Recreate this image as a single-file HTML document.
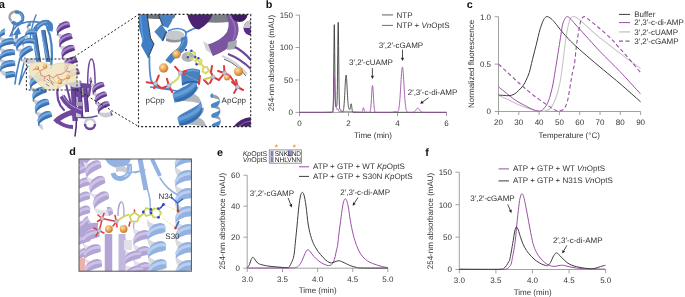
<!DOCTYPE html>
<html><head><meta charset="utf-8"><style>
html,body{margin:0;padding:0;background:#fff;}
body{width:685px;height:297px;overflow:hidden;}
svg{display:block;font-family:"Liberation Sans", sans-serif;will-change:transform;text-rendering:geometricPrecision;}
</style></head><body>
<svg width="685" height="297" viewBox="0 0 685 297">
<defs>
<clipPath id="ci"><rect x="138.5" y="14.4" width="112.2" height="112.2"/></clipPath>
<clipPath id="cd"><rect x="79" y="159" width="112.4" height="112.2"/></clipPath>
<radialGradient id="og" cx="0.38" cy="0.35" r="0.65"><stop offset="0" stop-color="#ffe2b0"/><stop offset="0.55" stop-color="#e9a656"/><stop offset="1" stop-color="#c07e34"/></radialGradient>
</defs>
<g fill="none" stroke-linecap="round">
<path d="M10,36 C13,28 19,23 27,22 C35,21 42,22 47,26" stroke="#4781c2" stroke-width="1.6"/>
<path d="M30,40 C31,30 33,22 36,15" stroke="#4781c2" stroke-width="1.4"/>
<path d="M15,22 C13,28 12,32 12,36" stroke="#4781c2" stroke-width="1.4"/>
<path d="M20,58 C18,66 16,74 15,84" stroke="#4781c2" stroke-width="1.6"/>
<path d="M25,58 C23,67 21,76 19,85 C21,80 24,72 28,66" stroke="#4781c2" stroke-width="1.4"/>
<path d="M47,27 C52,38 53,52 51,68" stroke="#4781c2" stroke-width="2.2"/>
</g>
<path d="M34,32 L38.5,62" stroke="#4781c2" stroke-width="4.6" stroke-linecap="butt"/>
<path d="M36.099999999999994,32 L40.599999999999994,62" stroke="#2c3d55" stroke-width="0.8"/>
<path d="M32.85,38 L37.35,58" stroke="#84b5e6" stroke-width="1"/>
<path d="M43,30 L48,62" stroke="#4781c2" stroke-width="4.2" stroke-linecap="butt"/>
<path d="M44.9,30 L49.9,62" stroke="#2c3d55" stroke-width="0.8"/>
<path d="M41.95,36 L46.95,58" stroke="#84b5e6" stroke-width="1"/>
<path d="M11.5,21 A5,5 0 0 1 18,13" fill="none" stroke="#9ea3a9" stroke-width="2.6"/>
<path d="M15,12.2 A6,6 0 1 1 12,21.5" fill="none" stroke="#4781c2" stroke-width="3.4"/>
<path d="M19,12.8 A5.2,5.2 0 0 1 21.5,20" fill="none" stroke="#84b5e6" stroke-width="1"/>
<path d="M13.5,46 L15.5,35 L12.5,35.5 L18.5,27 L21,34 L18.2,34.5 L16.5,46 Z" fill="#4781c2"/>
<path d="M-0.5,35.1 L-0.4,35.6 L-0.1,36.1 L0.4,36.5 L1,37 L1.8,37.4 L2.7,37.8 L3.7,38.2 L4.8,38.5 L5.9,38.8 L7.1,39.1 L8.3,39.3 L9.4,39.5 L10.5,39.7 L11.5,39.8 L12.4,39.9 L13.2,40 L13.8,40.1 L14.3,40.1 L14.6,40.2 L14.6,40.2 L14.7,42.9 L14.6,43.2 L14.4,43.6 L13.9,43.9 L13.3,44.2 L12.5,44.4 L11.7,44.6 L10.6,44.7 L9.6,44.7 L8.4,44.6 L7.2,44.4 L6.1,44.1 L4.9,43.7 L3.8,43.2 L2.8,42.6 L1.9,41.9 L1.1,41.2 L0.5,40.4 L-0,39.5 L-0.3,38.6 L-0.4,37.7Z" fill="#c9cdd2"/><path d="M-0.2,46.1 L-0.1,46.6 L0.2,47.1 L0.6,47.5 L1.2,48 L2,48.4 L2.9,48.8 L3.9,49.2 L5,49.5 L6.2,49.8 L7.4,50.1 L8.5,50.3 L9.7,50.5 L10.8,50.7 L11.8,50.8 L12.7,50.9 L13.5,51 L14.1,51.1 L14.5,51.1 L14.8,51.2 L14.9,51.2 L15,53.9 L14.9,54.2 L14.6,54.6 L14.2,54.9 L13.6,55.2 L12.8,55.4 L11.9,55.6 L10.9,55.7 L9.8,55.7 L8.7,55.6 L7.5,55.4 L6.3,55.1 L5.2,54.7 L4.1,54.2 L3,53.6 L2.1,52.9 L1.3,52.2 L0.7,51.4 L0.2,50.5 L-0.1,49.6 L-0.2,48.7Z" fill="#c9cdd2"/><path d="M0,57.1 L0.1,57.6 L0.4,58.1 L0.9,58.5 L1.5,59 L2.3,59.4 L3.2,59.8 L4.2,60.2 L5.3,60.5 L6.4,60.8 L7.6,61.1 L8.8,61.3 L9.9,61.5 L11,61.7 L12,61.8 L12.9,61.9 L13.7,62 L14.3,62.1 L14.8,62.1 L15,62.2 L15.1,62.2 L15.2,64.9 L15.1,65.2 L14.9,65.6 L14.4,65.9 L13.8,66.2 L13,66.4 L12.1,66.6 L11.1,66.7 L10.1,66.7 L8.9,66.6 L7.7,66.4 L6.6,66.1 L5.4,65.7 L4.3,65.2 L3.3,64.6 L2.4,63.9 L1.6,63.2 L1,62.4 L0.5,61.5 L0.2,60.6 L0.1,59.7Z" fill="#c9cdd2"/><path d="M0.3,68.1 L0.4,68.6 L0.7,69 L1.1,69.5 L1.7,70 L2.5,70.4 L3.4,70.8 L4.4,71.2 L5.5,71.5 L6.7,71.8 L7.9,72.1 L9,72.3 L10.2,72.5 L11.3,72.7 L12.3,72.8 L13.2,72.9 L14,73 L14.6,73.1 L15,73.1 L15.3,73.2 L15.4,73.2 L15.5,75.9 L15.4,76.2 L15.1,76.6 L14.7,76.9 L14.1,77.2 L13.3,77.4 L12.4,77.6 L11.4,77.7 L10.3,77.7 L9.2,77.6 L8,77.4 L6.8,77.1 L5.7,76.7 L4.6,76.2 L3.5,75.6 L2.6,74.9 L1.8,74.2 L1.2,73.4 L0.7,72.5 L0.4,71.6 L0.3,70.7Z" fill="#c9cdd2"/><path d="M4.7,28.2 L3.6,28.8 L2.6,29.4 L1.7,30.2 L0.9,31 L0.3,31.9 L-0.2,32.8 L-0.4,33.8 L-0.5,34.7 L-0.4,38 L-0.3,37.6 L-0.1,37.1 L0.4,36.7 L1,36.2 L1.8,35.8 L2.7,35.4 L3.7,35 L4.8,34.6Z" fill="#4781c2"/><path d="M4.7,30.6 L3.6,31.1 L2.6,31.6 L1.7,32.2 L0.9,32.8 L0.3,33.5" stroke="#84b5e6" stroke-width="1.8" fill="none" stroke-linecap="round" opacity="0.8"/><path d="M4.8,33.5 L3.7,34 L2.7,34.5 L1.8,35.1 L1,35.7 L0.4,36.4 L-0.1,37.1 L-0.3,37.8 L-0.4,38.5" stroke="#2f5f9c" stroke-width="1.5" fill="none" opacity="0.6"/><path d="M14.6,39.9 L14.5,39.5 L14.3,39.1 L13.8,38.7 L13.2,38.4 L12.4,38.2 L11.5,38.1 L10.5,38 L9.4,38 L8.3,38.2 L7.1,38.4 L5.9,38.8 L4.8,39.2 L3.7,39.8 L2.7,40.5 L1.9,41.2 L1.1,42 L0.5,42.9 L0.1,43.8 L-0.2,44.8 L-0.2,45.7 L-0.2,49 L-0.1,48.6 L0.2,48.1 L0.6,47.7 L1.2,47.3 L2,46.8 L2.9,46.4 L3.9,46 L4.9,45.7 L6.1,45.3 L7.3,45 L8.4,44.7 L9.6,44.5 L10.6,44.2 L11.6,44 L12.5,43.8 L13.3,43.7 L13.9,43.5 L14.3,43.4 L14.6,43.3 L14.7,43.2Z" fill="#4781c2"/><path d="M13.8,40.4 L13.2,40.3 L12.4,40.2 L11.6,40.3 L10.5,40.3 L9.5,40.5 L8.3,40.7 L7.2,40.9 L6,41.3 L4.9,41.7 L3.8,42.1 L2.8,42.7 L1.9,43.2 L1.2,43.9 L0.6,44.5" stroke="#84b5e6" stroke-width="1.8" fill="none" stroke-linecap="round" opacity="0.8"/><path d="M14.7,43.7 L14.6,43.5 L14.3,43.4 L13.9,43.3 L13.3,43.2 L12.5,43.1 L11.6,43.2 L10.6,43.2 L9.5,43.4 L8.4,43.6 L7.2,43.8 L6.1,44.2 L4.9,44.6 L3.8,45 L2.9,45.6 L2,46.1 L1.2,46.8 L0.6,47.4 L0.2,48.1 L-0.1,48.8 L-0.1,49.5" stroke="#2f5f9c" stroke-width="1.5" fill="none" opacity="0.6"/><path d="M14.9,50.9 L14.8,50.5 L14.5,50.1 L14,49.7 L13.4,49.4 L12.7,49.2 L11.8,49.1 L10.7,49 L9.7,49 L8.5,49.2 L7.4,49.4 L6.2,49.8 L5.1,50.2 L4,50.8 L3,51.5 L2.1,52.2 L1.4,53 L0.8,53.9 L0.3,54.8 L0.1,55.8 L0,56.7 L0.1,60 L0.2,59.6 L0.4,59.1 L0.9,58.7 L1.5,58.3 L2.2,57.8 L3.1,57.4 L4.1,57 L5.2,56.7 L6.3,56.3 L7.5,56 L8.7,55.7 L9.8,55.5 L10.9,55.2 L11.9,55 L12.8,54.8 L13.5,54.7 L14.2,54.5 L14.6,54.4 L14.9,54.3 L15,54.2Z" fill="#4781c2"/><path d="M14.1,51.4 L13.5,51.3 L12.7,51.2 L11.8,51.3 L10.8,51.3 L9.7,51.5 L8.6,51.7 L7.4,51.9 L6.2,52.3 L5.1,52.7 L4,53.1 L3,53.7 L2.2,54.2 L1.4,54.8 L0.8,55.5" stroke="#84b5e6" stroke-width="1.8" fill="none" stroke-linecap="round" opacity="0.8"/><path d="M15,54.7 L14.9,54.5 L14.6,54.4 L14.1,54.3 L13.5,54.2 L12.8,54.1 L11.9,54.2 L10.9,54.2 L9.8,54.4 L8.6,54.6 L7.5,54.8 L6.3,55.2 L5.2,55.6 L4.1,56 L3.1,56.6 L2.2,57.1 L1.5,57.8 L0.9,58.4 L0.4,59.1 L0.2,59.8 L0.1,60.5" stroke="#2f5f9c" stroke-width="1.5" fill="none" opacity="0.6"/><path d="M15.1,61.9 L15,61.5 L14.8,61.1 L14.3,60.7 L13.7,60.4 L12.9,60.2 L12,60.1 L11,60 L9.9,60 L8.8,60.2 L7.6,60.4 L6.4,60.8 L5.3,61.2 L4.2,61.8 L3.2,62.5 L2.4,63.2 L1.6,64 L1,64.9 L0.6,65.8 L0.3,66.8 L0.3,67.7 L0.3,71 L0.4,70.6 L0.7,70.1 L1.1,69.7 L1.7,69.3 L2.5,68.8 L3.4,68.4 L4.4,68 L5.4,67.7 L6.6,67.3 L7.8,67 L8.9,66.7 L10.1,66.5 L11.1,66.2 L12.1,66 L13,65.8 L13.8,65.7 L14.4,65.5 L14.8,65.4 L15.1,65.3 L15.2,65.2Z" fill="#4781c2"/><path d="M14.3,62.4 L13.7,62.3 L12.9,62.2 L12.1,62.3 L11,62.3 L10,62.5 L8.8,62.7 L7.7,62.9 L6.5,63.3 L5.4,63.7 L4.3,64.1 L3.3,64.7 L2.4,65.2 L1.7,65.8 L1.1,66.5" stroke="#84b5e6" stroke-width="1.8" fill="none" stroke-linecap="round" opacity="0.8"/><path d="M15.2,65.7 L15.1,65.5 L14.8,65.4 L14.4,65.3 L13.8,65.2 L13,65.1 L12.1,65.2 L11.1,65.2 L10,65.4 L8.9,65.6 L7.7,65.8 L6.6,66.2 L5.4,66.6 L4.3,67 L3.4,67.6 L2.5,68.1 L1.7,68.7 L1.1,69.4 L0.7,70.1 L0.4,70.8 L0.4,71.5" stroke="#2f5f9c" stroke-width="1.5" fill="none" opacity="0.6"/><path d="M15.4,72.9 L15.3,72.5 L15,72.1 L14.5,71.7 L13.9,71.4 L13.2,71.2 L12.3,71.1 L11.3,71 L10.2,71 L9.1,71.2 L7.9,71.4 L6.7,71.8 L5.6,72.2 L5.8,78.7 L6.9,78.3 L8,78 L9.2,77.7 L10.3,77.5 L11.4,77.2 L12.4,77 L13.3,76.8 L14.1,76.7 L14.7,76.5 L15.1,76.4 L15.4,76.3 L15.5,76.2Z" fill="#4781c2"/><path d="M14.6,73.3 L14,73.3 L13.2,73.2 L12.3,73.2 L11.3,73.3 L10.3,73.4 L9.1,73.6 L8,73.9 L6.8,74.2 L5.7,74.6" stroke="#84b5e6" stroke-width="1.8" fill="none" stroke-linecap="round" opacity="0.8"/><path d="M15.5,76.7 L15.4,76.5 L15.1,76.4 L14.7,76.3 L14,76.2 L13.3,76.1 L12.4,76.1 L11.4,76.2 L10.3,76.4 L9.2,76.5 L8,76.8 L6.9,77.1 L5.7,77.5" stroke="#2f5f9c" stroke-width="1.5" fill="none" opacity="0.6"/>
<path d="M11.8,37.2 L12.1,37.6 L12.5,37.9 L13.1,38.2 L13.8,38.4 L14.7,38.6 L15.7,38.6 L16.8,38.6 L17.9,38.5 L19.1,38.4 L20.3,38.3 L21.5,38.1 L22.6,37.8 L23.7,37.6 L24.7,37.4 L25.6,37.2 L26.3,37 L26.9,36.8 L27.4,36.7 L27.7,36.7 L27.8,36.7 L28.7,39.1 L28.8,39.5 L28.7,39.9 L28.4,40.4 L27.9,40.9 L27.3,41.4 L26.5,41.8 L25.6,42.3 L24.5,42.6 L23.4,42.9 L22.3,43.2 L21.1,43.3 L19.8,43.3 L18.6,43.2 L17.5,43.1 L16.4,42.7 L15.4,42.3 L14.5,41.8 L13.8,41.2 L13.2,40.4 L12.8,39.6Z" fill="#c9cdd2"/><path d="M15.9,47.4 L16.1,47.8 L16.6,48.2 L17.2,48.4 L17.9,48.6 L18.8,48.8 L19.8,48.8 L20.9,48.8 L22,48.8 L23.2,48.6 L24.4,48.5 L25.6,48.3 L26.7,48.1 L27.8,47.8 L28.8,47.6 L29.7,47.4 L30.4,47.2 L31,47.1 L31.5,46.9 L31.7,46.9 L31.8,46.9 L32.8,49.4 L32.9,49.7 L32.7,50.2 L32.4,50.6 L32,51.1 L31.3,51.6 L30.6,52 L29.7,52.5 L28.6,52.8 L27.5,53.1 L26.3,53.4 L25.1,53.5 L23.9,53.5 L22.7,53.5 L21.6,53.3 L20.5,53 L19.5,52.5 L18.6,52 L17.9,51.4 L17.3,50.6 L16.9,49.8Z" fill="#c9cdd2"/><path d="M20,57.6 L20.2,58 L20.6,58.4 L21.2,58.6 L21.9,58.8 L22.8,59 L23.7,59 L24.7,59 L25.8,59 L27,58.9 L28.1,58.7 L29.3,58.6 L30.4,58.3 L31.5,58.1 L32.5,57.9 L33.4,57.7 L34.2,57.5 L35.8,61.5 L35.1,62 L34.3,62.4 L33.4,62.8 L32.4,63.2 L31.3,63.4 L30.1,63.6 L28.9,63.7 L27.7,63.7 L26.6,63.6 L25.5,63.4 L24.4,63.1 L23.5,62.7 L22.6,62.2 L21.9,61.5 L21.3,60.8 L20.9,60Z" fill="#c9cdd2"/><path d="M11.3,34.6 L11.3,35.4 L11.4,36.1 L11.7,36.9 L12.9,39.9 L12.8,39.6 L12.8,39.2 L13,38.8Z" fill="#4781c2"/><path d="M12.9,38.6 L12.9,39.2 L12.9,39.8 L13.1,40.3" stroke="#2f5f9c" stroke-width="1.5" fill="none" opacity="0.6"/><path d="M27.6,36.4 L27.4,36 L27,35.8 L26.4,35.6 L25.8,35.5 L25,35.6 L24.1,35.8 L23.1,36.1 L22.1,36.5 L21.1,37 L20.1,37.6 L19.1,38.4 L18.2,39.2 L17.4,40.1 L16.7,41.1 L16.1,42.1 L15.7,43.1 L15.5,44.1 L15.4,45.2 L15.5,46.1 L15.8,47.1 L17,50.1 L16.9,49.7 L17,49.2 L17.2,48.6 L17.7,48 L18.2,47.3 L18.9,46.6 L19.7,45.9 L20.6,45.2 L21.5,44.5 L22.5,43.8 L23.5,43.1 L24.5,42.5 L25.4,41.9 L26.3,41.3 L27,40.8 L27.7,40.4 L28.2,40.1 L28.6,39.8 L28.8,39.6 L28.9,39.5Z" fill="#4781c2"/><path d="M27,37.1 L26.4,37.2 L25.7,37.5 L24.9,37.8 L24,38.2 L23,38.7 L22,39.3 L21,40 L20,40.7 L19.1,41.5 L18.2,42.3 L17.5,43.1 L16.9,44 L16.4,44.8 L16.1,45.6" stroke="#84b5e6" stroke-width="1.8" fill="none" stroke-linecap="round" opacity="0.8"/><path d="M29,39.9 L28.9,39.8 L28.6,39.7 L28.1,39.8 L27.5,39.9 L26.8,40.2 L25.9,40.5 L25,40.9 L24.1,41.4 L23.1,42 L22.1,42.7 L21.1,43.4 L20.2,44.2 L19.3,45 L18.6,45.8 L18,46.7 L17.5,47.5 L17.1,48.3 L17,49.1 L17,49.9 L17.1,50.6" stroke="#2f5f9c" stroke-width="1.5" fill="none" opacity="0.6"/><path d="M31.7,46.6 L31.5,46.3 L31.1,46 L30.5,45.8 L29.8,45.8 L29,45.8 L28.1,46 L27.2,46.3 L26.2,46.7 L25.2,47.2 L24.1,47.9 L23.2,48.6 L22.3,49.4 L21.5,50.3 L20.8,51.3 L20.2,52.3 L19.8,53.3 L19.5,54.4 L19.5,55.4 L19.6,56.4 L19.8,57.3 L21.1,60.3 L21,59.9 L21.1,59.4 L21.3,58.8 L21.7,58.2 L22.3,57.5 L23,56.8 L23.8,56.1 L24.7,55.4 L25.6,54.7 L26.6,54 L27.6,53.3 L28.6,52.7 L29.5,52.1 L30.4,51.5 L31.1,51 L31.8,50.6 L32.3,50.3 L32.7,50 L32.9,49.8 L32.9,49.7Z" fill="#4781c2"/><path d="M31.1,47.3 L30.5,47.5 L29.8,47.7 L29,48 L28,48.4 L27.1,48.9 L26.1,49.5 L25.1,50.2 L24.1,50.9 L23.2,51.7 L22.3,52.5 L21.6,53.3 L21,54.2 L20.5,55 L20.1,55.9" stroke="#84b5e6" stroke-width="1.8" fill="none" stroke-linecap="round" opacity="0.8"/><path d="M33.1,50.1 L33,50 L32.7,50 L32.2,50 L31.6,50.2 L30.9,50.4 L30,50.7 L29.1,51.1 L28.2,51.6 L27.2,52.2 L26.2,52.9 L25.2,53.6 L24.3,54.4 L23.4,55.2 L22.7,56 L22,56.9 L21.6,57.7 L21.2,58.5 L21.1,59.3 L21.1,60.1 L21.2,60.8" stroke="#2f5f9c" stroke-width="1.5" fill="none" opacity="0.6"/>
<path d="M27.6,25.1 L27.5,25.6 L27.7,26.2 L28.1,26.8 L28.6,27.4 L29.3,28 L30.2,28.6 L31.1,29.2 L32.1,29.8 L33,30.3 L34,30.7 L34.9,31.1 L35.6,31.5 L36.3,31.7 L36.8,31.9 L37,32.1 L37.1,32.1 L36.6,34.2 L36.4,34.6 L36,34.8 L35.5,35 L34.7,35 L33.9,35 L33,34.8 L32,34.4 L31,33.9 L30.1,33.4 L29.2,32.6 L28.4,31.8 L27.7,31 L27.3,30 L27,29.1 L26.9,28.1 L27,27.2Z" fill="#c9cdd2"/><path d="M25.4,33.8 L25.4,34.4 L25.5,34.9 L25.9,35.5 L26.5,36.1 L27.2,36.7 L28,37.3 L28.9,37.9 L29.9,38.5 L30.9,39 L31.8,39.5 L32.7,39.9 L33.5,40.2 L34.1,40.5 L34.6,40.7 L34.9,40.8 L35,40.9 L34.4,43 L34.2,43.3 L33.8,43.6 L33.3,43.7 L32.6,43.8 L31.7,43.7 L30.8,43.5 L29.8,43.2 L28.8,42.7 L27.9,42.1 L27,41.4 L26.2,40.6 L25.6,39.7 L25.1,38.8 L24.8,37.8 L24.7,36.9 L24.8,35.9Z" fill="#c9cdd2"/><path d="M23.2,42.6 L23.2,43.1 L23.3,43.6 L23.7,44.2 L24.2,44.8 L23.3,48.3 L22.9,47.4 L22.6,46.5 L22.5,45.6 L22.7,44.7Z" fill="#c9cdd2"/><path d="M31.5,21 L30.4,21.5 L29.4,22.1 L28.6,22.9 L28,23.8 L27.6,24.8 L27,27.5 L27.2,27 L27.7,26.6 L28.4,26.3 L29.3,26.1 L30.3,25.9Z" fill="#4781c2"/><path d="M31.1,22.8 L30,23.1 L29.1,23.6 L28.3,24.1" stroke="#84b5e6" stroke-width="1.5" fill="none" stroke-linecap="round" opacity="0.8"/><path d="M30.5,25.1 L29.4,25.5 L28.5,25.9 L27.7,26.4 L27.2,27.1 L26.9,27.8" stroke="#2f5f9c" stroke-width="1.2" fill="none" opacity="0.6"/><path d="M37.2,31.9 L37.2,31.4 L37,31 L36.6,30.5 L36,30.1 L35.2,29.7 L34.3,29.5 L33.3,29.3 L32.2,29.2 L31.1,29.3 L29.9,29.5 L28.9,29.9 L27.9,30.4 L27,31 L26.3,31.8 L25.8,32.6 L25.4,33.6 L24.8,36.2 L25,35.8 L25.4,35.4 L26,35.1 L26.8,34.9 L27.7,34.7 L28.7,34.6 L29.8,34.5 L30.9,34.5 L32,34.5 L33,34.5 L34,34.5 L34.9,34.6 L35.6,34.6 L36.1,34.6 L36.4,34.6 L36.5,34.5Z" fill="#4781c2"/><path d="M36.7,32.2 L36.2,31.9 L35.6,31.7 L34.8,31.5 L33.8,31.4 L32.8,31.3 L31.7,31.2 L30.6,31.3 L29.5,31.4 L28.4,31.7 L27.5,32 L26.7,32.5 L26,33" stroke="#84b5e6" stroke-width="1.5" fill="none" stroke-linecap="round" opacity="0.8"/><path d="M36.5,34.9 L36.4,34.7 L36.1,34.5 L35.7,34.2 L35,34 L34.2,33.8 L33.3,33.7 L32.2,33.6 L31.1,33.5 L30,33.6 L28.9,33.7 L27.9,34 L26.9,34.3 L26.1,34.8 L25.4,35.3 L25,35.9 L24.7,36.6" stroke="#2f5f9c" stroke-width="1.2" fill="none" opacity="0.6"/><path d="M35,40.6 L35,40.2 L34.8,39.7 L34.4,39.3 L33.8,38.8 L33,38.5 L32.1,38.2 L31.1,38 L30,38 L28.9,38 L27.8,38.3 L26.7,38.6 L25.7,39.1 L24.8,39.8 L24.1,40.5 L23.6,41.4 L23.3,42.3 L22.6,44.9 L22.8,44.5 L23.2,44.1 L23.8,43.8 L24.6,43.6 L25.5,43.4 L26.5,43.3 L27.6,43.2 L28.7,43.2 L29.8,43.2 L30.9,43.2 L31.8,43.3 L32.7,43.3 L33.4,43.3 L33.9,43.3 L34.2,43.3 L34.4,43.2Z" fill="#4781c2"/><path d="M34.5,40.9 L34,40.7 L33.4,40.4 L32.6,40.2 L31.6,40.1 L30.6,40 L29.5,40 L28.4,40 L27.3,40.2 L26.2,40.4 L25.3,40.7 L24.5,41.2 L23.8,41.7" stroke="#84b5e6" stroke-width="1.5" fill="none" stroke-linecap="round" opacity="0.8"/><path d="M34.3,43.6 L34.2,43.4 L33.9,43.2 L33.5,43 L32.8,42.8 L32,42.6 L31.1,42.4 L30,42.3 L28.9,42.3 L27.8,42.3 L26.7,42.5 L25.7,42.7 L24.7,43 L23.9,43.5 L23.3,44 L22.8,44.6 L22.5,45.3" stroke="#2f5f9c" stroke-width="1.2" fill="none" opacity="0.6"/>
<path d="M35,30 Q41,21 48,22.5 Q52,25 50,31" stroke="#4781c2" stroke-width="5" fill="none"/>
<path d="M37,27 Q42,22 47,22" stroke="#84b5e6" stroke-width="1.2" fill="none"/>
<path d="M28.2,74.7 L28.7,75 L29.4,75.3 L30.2,75.6 L31.1,75.8 L32,76 L33,76.1 L34,76.2 L35.1,76.3 L36.1,76.4 L37.2,76.4 L38.2,76.4 L39.1,76.3 L40,76.3 L40.8,76.3 L41.5,76.2 L42.1,76.2 L42.5,76.2 L42.9,76.2 L43.1,76.2 L43.2,76.2 L43.8,79.1 L43.8,79.5 L43.7,79.9 L43.4,80.3 L43,80.6 L42.5,81 L41.9,81.3 L41.1,81.6 L40.3,81.9 L39.4,82.1 L38.4,82.2 L37.4,82.2 L36.4,82.2 L35.3,82.1 L34.3,81.8 L33.2,81.5 L32.2,81.2 L31.3,80.7 L30.5,80.1 L29.7,79.5 L29.1,78.8Z" fill="#c9cdd2"/><path d="M29.9,85.5 L30,86 L30.3,86.4 L30.8,86.8 L31.3,87.2 L32,87.5 L32.8,87.8 L33.6,88 L34.6,88.2 L35.6,88.3 L36.6,88.4 L37.7,88.5 L38.7,88.6 L39.8,88.6 L40.8,88.6 L41.7,88.6 L42.6,88.5 L43.4,88.5 L44.1,88.4 L44.7,88.4 L45.2,88.4 L45.6,88.4 L45.8,88.4 L45.8,88.4 L46.5,91.3 L46.5,91.7 L46.4,92.1 L46.1,92.5 L45.7,92.9 L45.2,93.2 L44.5,93.6 L43.8,93.8 L43,94.1 L42,94.3 L41,94.4 L40,94.4 L39,94.4 L37.9,94.2 L36.8,94 L35.8,93.7 L34.8,93.3 L33.9,92.8 L33.1,92.3 L32.3,91.6 L31.7,90.9 L31.2,90.1 L30.8,89.3 L30.5,88.5Z" fill="#c9cdd2"/><path d="M32.5,97.7 L32.7,98.2 L33,98.6 L33.5,99 L34,99.4 L34.7,99.7 L35.5,100 L36.3,100.2 L37.3,100.4 L38.3,100.5 L39.3,100.7 L40.4,100.7 L41.4,100.8 L42.5,100.8 L43.5,100.8 L44.4,100.8 L45.3,100.7 L46.1,100.7 L46.8,100.6 L47.4,100.6 L47.9,100.6 L48.2,100.6 L48.5,100.6 L48.5,100.6 L49.2,103.5 L49.2,103.9 L49.1,104.3 L48.8,104.7 L48.4,105.1 L47.9,105.4 L47.2,105.8 L46.5,106.1 L45.6,106.3 L44.7,106.5 L43.7,106.6 L42.7,106.6 L41.6,106.6 L40.6,106.5 L39.5,106.2 L38.5,105.9 L37.5,105.5 L36.6,105 L35.7,104.5 L35,103.8 L34.4,103.1 L33.8,102.3 L33.4,101.5 L33.2,100.7Z" fill="#c9cdd2"/><path d="M35.2,109.9 L35.4,110.4 L35.7,110.8 L36.1,111.2 L36.7,111.6 L37.4,111.9 L38.2,112.2 L39,112.4 L40,112.6 L41,112.7 L42,112.9 L43,112.9 L44.1,113 L45.1,113 L46.2,113 L47.1,113 L48,112.9 L48.8,112.9 L49.5,112.9 L50.1,112.8 L50.6,112.8 L50.9,112.8 L51.1,112.8 L51.2,112.8 L51.9,115.7 L51.9,116.1 L51.7,116.5 L51.5,116.9 L51.1,117.3 L50.6,117.6 L49.9,118 L49.2,118.3 L48.3,118.5 L47.4,118.7 L46.4,118.8 L45.4,118.8 L44.3,118.8 L43.3,118.7 L42.2,118.4 L41.2,118.1 L40.2,117.7 L39.3,117.2 L38.4,116.7 L37.7,116 L37,115.3 L36.5,114.6 L36.1,113.7 L35.9,112.9Z" fill="#c9cdd2"/><path d="M37.9,122.1 L38.1,122.6 L38.5,123.1 L39,123.5 L39.6,123.9 L40.4,124.2 L41.2,124.5 L42.2,124.7 L43.4,130.2 L42.4,129.7 L41.4,129.1 L40.6,128.5 L39.9,127.7 L39.3,126.9 L38.8,126 L38.6,125.1Z" fill="#c9cdd2"/><path d="M43.1,75.8 L42.9,75.4 L42.6,75.1 L42.2,74.8 L41.7,74.6 L41.1,74.4 L40.3,74.4 L39.5,74.4 L38.6,74.5 L37.7,74.7 L36.8,75 L35.8,75.4 L34.9,75.9 L34,76.4 L33.1,77.1 L32.3,77.8 L31.6,78.6 L31,79.5 L30.4,80.4 L30,81.3 L29.8,82.3 L29.6,83.2 L29.6,84.2 L29.8,85.2 L30.6,88.8 L30.6,88.4 L30.7,87.9 L30.9,87.4 L31.3,86.9 L31.8,86.4 L32.4,85.8 L33.1,85.3 L33.8,84.7 L34.7,84.2 L35.6,83.7 L36.5,83.2 L37.4,82.7 L38.4,82.2 L39.3,81.8 L40.2,81.4 L41,81 L41.7,80.7 L42.4,80.4 L42.9,80.2 L43.3,79.9 L43.7,79.8 L43.8,79.6 L43.9,79.5Z" fill="#4781c2"/><path d="M42.6,76.5 L42.1,76.5 L41.5,76.5 L40.8,76.7 L40.1,76.8 L39.2,77.1 L38.3,77.4 L37.4,77.7 L36.4,78.2 L35.5,78.6 L34.6,79.2 L33.7,79.8 L32.9,80.4 L32.1,81.1 L31.5,81.8 L30.9,82.5 L30.5,83.2 L30.1,84" stroke="#84b5e6" stroke-width="2.1" fill="none" stroke-linecap="round" opacity="0.8"/><path d="M44,80 L43.9,79.9 L43.7,79.8 L43.3,79.7 L42.8,79.7 L42.2,79.8 L41.5,79.9 L40.8,80 L39.9,80.3 L39,80.6 L38.1,81 L37.1,81.4 L36.2,81.9 L35.3,82.4 L34.4,83 L33.6,83.6 L32.8,84.3 L32.2,85 L31.6,85.7 L31.2,86.4 L30.9,87.2 L30.7,87.9 L30.6,88.6 L30.7,89.3" stroke="#2f5f9c" stroke-width="1.6" fill="none" opacity="0.6"/><path d="M45.8,88 L45.6,87.7 L45.3,87.3 L44.9,87 L44.4,86.8 L43.7,86.6 L43,86.6 L42.2,86.6 L41.3,86.7 L40.4,86.9 L39.5,87.2 L38.5,87.6 L37.6,88.1 L36.7,88.6 L35.8,89.3 L35,90 L34.3,90.8 L33.7,91.7 L33.1,92.6 L32.7,93.5 L32.5,94.5 L32.3,95.5 L32.3,96.4 L32.5,97.4 L33.3,101 L33.2,100.6 L33.3,100.1 L33.6,99.6 L34,99.1 L34.4,98.6 L35,98 L35.7,97.5 L36.5,96.9 L37.4,96.4 L38.3,95.9 L39.2,95.4 L40.1,94.9 L41.1,94.4 L42,94 L42.8,93.6 L43.7,93.2 L44.4,92.9 L45.1,92.6 L45.6,92.4 L46,92.1 L46.3,92 L46.5,91.8 L46.6,91.7Z" fill="#4781c2"/><path d="M45.3,88.7 L44.8,88.7 L44.2,88.8 L43.5,88.9 L42.7,89 L41.9,89.3 L41,89.6 L40.1,89.9 L39.1,90.4 L38.2,90.8 L37.3,91.4 L36.4,92 L35.6,92.6 L34.8,93.3 L34.2,94 L33.6,94.7 L33.2,95.4 L32.8,96.2" stroke="#84b5e6" stroke-width="2.1" fill="none" stroke-linecap="round" opacity="0.8"/><path d="M46.7,92.2 L46.6,92.1 L46.3,92 L46,91.9 L45.5,91.9 L44.9,92 L44.2,92.1 L43.4,92.3 L42.6,92.5 L41.7,92.8 L40.8,93.2 L39.8,93.6 L38.9,94.1 L38,94.6 L37.1,95.2 L36.3,95.8 L35.5,96.5 L34.9,97.2 L34.3,97.9 L33.9,98.7 L33.5,99.4 L33.4,100.1 L33.3,100.8 L33.4,101.5" stroke="#2f5f9c" stroke-width="1.6" fill="none" opacity="0.6"/><path d="M48.5,100.2 L48.3,99.9 L48,99.5 L47.6,99.2 L47.1,99 L46.4,98.9 L45.7,98.8 L44.9,98.8 L44,98.9 L43.1,99.1 L42.2,99.4 L41.2,99.8 L40.3,100.3 L39.3,100.9 L38.5,101.5 L37.7,102.2 L37,103 L36.3,103.9 L35.8,104.8 L35.4,105.7 L35.1,106.7 L35,107.7 L35,108.6 L35.1,109.6 L36,113.2 L35.9,112.8 L36,112.3 L36.3,111.8 L36.6,111.3 L37.1,110.8 L37.7,110.2 L38.4,109.7 L39.2,109.2 L40,108.6 L40.9,108.1 L41.9,107.6 L42.8,107.1 L43.7,106.6 L44.7,106.2 L45.5,105.8 L46.3,105.4 L47.1,105.1 L47.7,104.8 L48.3,104.6 L48.7,104.3 L49,104.2 L49.2,104 L49.3,103.9Z" fill="#4781c2"/><path d="M48,100.9 L47.5,100.9 L46.9,101 L46.2,101.1 L45.4,101.2 L44.6,101.5 L43.7,101.8 L42.8,102.1 L41.8,102.6 L40.9,103.1 L39.9,103.6 L39.1,104.2 L38.2,104.8 L37.5,105.5 L36.8,106.2 L36.3,106.9 L35.8,107.6 L35.5,108.4" stroke="#84b5e6" stroke-width="2.1" fill="none" stroke-linecap="round" opacity="0.8"/><path d="M49.4,104.4 L49.3,104.3 L49,104.2 L48.7,104.1 L48.2,104.1 L47.6,104.2 L46.9,104.3 L46.1,104.5 L45.3,104.7 L44.4,105 L43.5,105.4 L42.5,105.8 L41.6,106.3 L40.7,106.8 L39.8,107.4 L39,108 L38.2,108.7 L37.5,109.4 L37,110.1 L36.5,110.9 L36.2,111.6 L36,112.3 L36,113 L36.1,113.7" stroke="#2f5f9c" stroke-width="1.6" fill="none" opacity="0.6"/><path d="M51.1,112.5 L51,112.1 L50.7,111.7 L50.3,111.4 L49.7,111.2 L49.1,111.1 L48.4,111 L47.6,111 L46.7,111.1 L45.8,111.3 L44.8,111.6 L43.9,112 L42.9,112.5 L42,113.1 L41.2,113.7 L40.4,114.4 L39.6,115.2 L39,116.1 L38.5,117 L38.1,117.9 L37.8,118.9 L37.7,119.9 L37.7,120.8 L37.8,121.8 L38.6,125.4 L38.6,125 L38.7,124.5 L39,124 L39.3,123.5 L39.8,123 L40.4,122.4 L41.1,121.9 L41.9,121.4 L42.7,120.8 L43.6,120.3 L44.6,119.8 L45.5,119.3 L46.4,118.9 L47.3,118.4 L48.2,118 L49,117.7 L49.8,117.3 L50.4,117 L51,116.8 L51.4,116.6 L51.7,116.4 L51.9,116.2 L51.9,116.1Z" fill="#4781c2"/><path d="M50.6,113.1 L50.2,113.1 L49.6,113.2 L48.9,113.3 L48.1,113.5 L47.3,113.7 L46.4,114 L45.4,114.4 L44.5,114.8 L43.6,115.3 L42.6,115.8 L41.8,116.4 L40.9,117 L40.2,117.7 L39.5,118.4 L39,119.1 L38.5,119.8 L38.2,120.6" stroke="#84b5e6" stroke-width="2.1" fill="none" stroke-linecap="round" opacity="0.8"/><path d="M52.1,116.6 L52,116.5 L51.7,116.4 L51.4,116.3 L50.9,116.3 L50.3,116.4 L49.6,116.5 L48.8,116.7 L48,116.9 L47.1,117.2 L46.1,117.6 L45.2,118 L44.3,118.5 L43.3,119 L42.5,119.6 L41.6,120.3 L40.9,120.9 L40.2,121.6 L39.7,122.3 L39.2,123.1 L38.9,123.8 L38.7,124.5 L38.7,125.3 L38.8,126" stroke="#2f5f9c" stroke-width="1.6" fill="none" opacity="0.6"/>
<g fill="none" stroke-linecap="round">
<path d="M88,92 C87,72 89,59 91.5,59 C94,59 95.5,72 95,92" stroke="#70479f" stroke-width="1.5"/>
<path d="M75,100 C77,112 77,124 75,136" stroke="#4e2a78" stroke-width="1.5"/>
<path d="M70,114 C78,118 86,119 97,116" stroke="#70479f" stroke-width="1.5"/>
<path d="M58,86 C56,96 58,104 64,110" stroke="#70479f" stroke-width="2.2"/>
<path d="M66,84 C68,92 70,100 72,108" stroke="#70479f" stroke-width="2"/>
</g>
<path d="M70,82 L92,84 L90,96 L80,98 L72,95 Z" fill="#70479f"/>
<path d="M82,88 L89,88 L88,95 L82,95 Z" fill="#9ea3a9"/>
<path d="M73,84 L75,121" stroke="#70479f" stroke-width="5"/>
<path d="M75.1,84 L77.1,121" stroke="#4e2a78" stroke-width="0.8"/>
<path d="M79,86 L81,118" stroke="#70479f" stroke-width="4.5"/>
<path d="M80.85,86 L82.85,118" stroke="#4e2a78" stroke-width="0.8"/>
<path d="M85,88 L87,112" stroke="#70479f" stroke-width="4"/>
<path d="M86.6,88 L88.6,112" stroke="#4e2a78" stroke-width="0.8"/>
<path d="M76,102 L82,102 L82,106 L76,106 Z" fill="#9ea3a9"/>
<path d="M76,112 L81,112 L81,117 L76,117 Z" fill="#c9cdd2"/>
<path d="M62,96 C66,104 72,109 82,112" stroke="#70479f" stroke-width="5.5" fill="none"/>
<path d="M62,96 C66,104 72,109 82,112" stroke="#b49cd6" stroke-width="1" fill="none" transform="translate(0,-1.8)"/>
<path d="M73,112 C66,114 60,117 55,122" stroke="#70479f" stroke-width="5" fill="none"/>
<path d="M57,121 C62,125 67,127 73,127" stroke="#70479f" stroke-width="4" fill="none"/>
<circle cx="90" cy="124" r="5" fill="none" stroke="#c9cdd2" stroke-width="2.4"/>
<path d="M85,124 A5,5 0 0 0 95,124" fill="none" stroke="#70479f" stroke-width="2.4"/>
<path d="M89.8,81.9 L90,82.4 L90.4,82.8 L91,83.1 L91.8,83.4 L92.7,83.6 L93.7,83.7 L94.8,83.8 L95.9,83.9 L97.1,83.8 L98.2,83.8 L99.3,83.7 L100.4,83.6 L101.3,83.5 L102.1,83.4 L102.8,83.3 L103.2,83.3 L103.5,83.2 L103.7,83.3 L104.3,85.6 L104.3,85.9 L104.1,86.4 L103.7,86.8 L103.2,87.2 L102.4,87.6 L101.6,87.9 L100.6,88.2 L99.5,88.4 L98.4,88.5 L97.2,88.4 L96,88.3 L94.9,88.1 L93.8,87.7 L92.8,87.2 L92,86.6 L91.3,85.9 L90.8,85.1 L90.4,84.2Z" fill="#c9cdd2"/><path d="M92.5,91.6 L92.7,92 L93.1,92.4 L93.7,92.8 L94.4,93 L95.3,93.2 L96.3,93.4 L97.4,93.5 L98.6,93.5 L99.7,93.5 L100.9,93.4 L102,93.3 L103.1,93.2 L104,93.1 L104.8,93 L105.4,92.9 L105.9,92.9 L106.2,92.9 L106.3,92.9 L107,95.2 L107,95.6 L106.8,96 L106.4,96.4 L105.8,96.8 L105.1,97.2 L104.2,97.6 L103.3,97.8 L102.2,98 L101,98.1 L99.9,98.1 L98.7,97.9 L97.5,97.7 L96.5,97.3 L95.5,96.8 L94.7,96.2 L94,95.5 L93.4,94.7 L93.1,93.9Z" fill="#c9cdd2"/><path d="M95.1,101.2 L95.4,101.6 L95.8,102 L96.4,102.4 L97.1,102.7 L98,102.9 L99,103 L100.1,103.1 L101.3,103.1 L102.4,103.1 L103.6,103.1 L104.7,103 L105.7,102.9 L106.7,102.8 L107.5,102.7 L108.1,102.6 L108.6,102.5 L108.9,102.5 L109,102.5 L109.6,104.8 L109.6,105.2 L109.5,105.6 L109.1,106.1 L108.5,106.5 L107.8,106.9 L106.9,107.2 L105.9,107.5 L104.9,107.6 L103.7,107.7 L102.5,107.7 L101.4,107.6 L100.2,107.3 L99.1,106.9 L98.2,106.5 L97.3,105.9 L96.6,105.2 L96.1,104.4 L95.8,103.5Z" fill="#c9cdd2"/><path d="M97.8,110.8 L98,111.3 L98.5,111.7 L99.1,112 L99.8,112.3 L100.7,112.5 L101.7,112.6 L102.8,112.7 L103.9,112.8 L105.1,112.7 L106.3,112.7 L107.4,112.6 L108.4,112.5 L109.3,112.4 L110.1,112.3 L110.8,112.2 L111.3,112.2 L111.6,112.1 L111.7,112.2 L112.3,114.5 L112.3,114.9 L112.1,115.3 L111.8,115.7 L111.2,116.1 L110.5,116.5 L109.6,116.8 L108.6,117.1 L107.5,117.3 L106.4,117.4 L105.2,117.4 L104,117.2 L102.9,117 L101.8,116.6 L100.9,116.1 L100,115.5 L99.3,114.8 L98.8,114 L98.5,113.1Z" fill="#c9cdd2"/><path d="M90.7,76.7 L90.2,77.7 L89.8,78.7 L89.6,79.7 L89.5,80.7 L89.7,81.6 L90.5,84.5 L90.5,84.1 L90.6,83.6 L91,83 L91.5,82.4 L92.2,81.8Z" fill="#70479f"/><path d="M91.3,78.6 L90.6,79.4 L90.2,80.1" stroke="#b49cd6" stroke-width="1.7" fill="none" stroke-linecap="round" opacity="0.8"/><path d="M92,81.1 L91.4,81.9 L90.9,82.7 L90.6,83.5 L90.5,84.2 L90.6,84.9" stroke="#4e2a78" stroke-width="1.3" fill="none" opacity="0.6"/><path d="M103.6,83 L103.4,82.6 L103,82.3 L102.4,82.1 L101.7,82 L100.9,82 L100,82.1 L99,82.4 L97.9,82.8 L96.9,83.3 L95.9,83.9 L95,84.6 L94.1,85.5 L93.4,86.4 L92.9,87.3 L92.5,88.3 L92.2,89.3 L92.2,90.3 L92.4,91.3 L93.2,94.2 L93.2,93.7 L93.3,93.2 L93.7,92.6 L94.2,92.1 L94.8,91.5 L95.6,90.8 L96.5,90.2 L97.5,89.6 L98.5,89 L99.5,88.5 L100.5,88 L101.5,87.5 L102.3,87.1 L103,86.7 L103.6,86.4 L104.1,86.2 L104.3,86 L104.4,85.9Z" fill="#70479f"/><path d="M102.8,83.6 L102.2,83.6 L101.4,83.8 L100.5,84.1 L99.6,84.5 L98.5,84.9 L97.5,85.5 L96.5,86.1 L95.6,86.7 L94.7,87.5 L93.9,88.2 L93.3,89 L92.9,89.8" stroke="#b49cd6" stroke-width="1.7" fill="none" stroke-linecap="round" opacity="0.8"/><path d="M104.5,86.3 L104.3,86.1 L104,86.1 L103.5,86.1 L102.9,86.2 L102.1,86.4 L101.2,86.7 L100.3,87 L99.2,87.5 L98.2,88 L97.2,88.6 L96.3,89.3 L95.4,90 L94.7,90.8 L94,91.5 L93.6,92.3 L93.3,93.1 L93.2,93.8 L93.3,94.6" stroke="#4e2a78" stroke-width="1.3" fill="none" opacity="0.6"/><path d="M106.2,92.6 L106,92.2 L105.7,91.9 L105.1,91.7 L104.4,91.6 L103.6,91.6 L102.6,91.7 L101.6,92 L100.6,92.4 L99.6,92.9 L98.6,93.5 L97.7,94.3 L96.8,95.1 L96.1,96 L95.5,96.9 L95.1,97.9 L94.9,98.9 L94.9,99.9 L95.1,100.9 L95.9,103.8 L95.8,103.3 L96,102.8 L96.3,102.3 L96.9,101.7 L97.5,101.1 L98.3,100.5 L99.2,99.9 L100.2,99.3 L101.2,98.7 L102.2,98.1 L103.2,97.6 L104.1,97.1 L105,96.7 L105.7,96.4 L106.3,96 L106.7,95.8 L107,95.6 L107,95.5Z" fill="#70479f"/><path d="M105.5,93.2 L104.9,93.3 L104.1,93.5 L103.2,93.7 L102.2,94.1 L101.2,94.6 L100.2,95.1 L99.2,95.7 L98.2,96.4 L97.4,97.1 L96.6,97.8 L96,98.6 L95.5,99.4" stroke="#b49cd6" stroke-width="1.7" fill="none" stroke-linecap="round" opacity="0.8"/><path d="M107.2,95.9 L107,95.8 L106.7,95.7 L106.2,95.7 L105.6,95.8 L104.8,96 L103.9,96.3 L102.9,96.7 L101.9,97.1 L100.9,97.6 L99.9,98.2 L98.9,98.9 L98.1,99.6 L97.3,100.4 L96.7,101.2 L96.3,102 L96,102.7 L95.9,103.5 L96,104.2" stroke="#4e2a78" stroke-width="1.3" fill="none" opacity="0.6"/><path d="M108.9,102.2 L108.7,101.9 L108.3,101.6 L107.8,101.3 L107.1,101.2 L106.2,101.2 L105.3,101.4 L104.3,101.6 L103.3,102 L102.3,102.5 L101.3,103.2 L100.3,103.9 L99.5,104.7 L98.8,105.6 L98.2,106.6 L97.8,107.6 L97.6,108.6 L97.6,109.6 L97.7,110.5 L98.5,113.4 L98.5,113 L98.7,112.5 L99,111.9 L99.5,111.3 L100.2,110.7 L101,110.1 L101.9,109.5 L102.9,108.9 L103.9,108.3 L104.9,107.8 L105.9,107.2 L106.8,106.8 L107.7,106.4 L108.4,106 L109,105.7 L109.4,105.4 L109.7,105.3 L109.7,105.1Z" fill="#70479f"/><path d="M108.2,102.8 L107.5,102.9 L106.8,103.1 L105.9,103.4 L104.9,103.7 L103.9,104.2 L102.9,104.7 L101.9,105.3 L100.9,106 L100.1,106.7 L99.3,107.5 L98.7,108.3 L98.2,109" stroke="#b49cd6" stroke-width="1.7" fill="none" stroke-linecap="round" opacity="0.8"/><path d="M109.8,105.5 L109.7,105.4 L109.4,105.3 L108.9,105.4 L108.2,105.5 L107.5,105.6 L106.6,105.9 L105.6,106.3 L104.6,106.7 L103.6,107.3 L102.6,107.9 L101.6,108.5 L100.8,109.3 L100,110 L99.4,110.8 L98.9,111.6 L98.7,112.4 L98.6,113.1 L98.7,113.8" stroke="#4e2a78" stroke-width="1.3" fill="none" opacity="0.6"/><path d="M111.6,111.9 L111.3,111.4 L110.8,111.1 L110.1,110.9 L111.4,115.5 L112,115.2 L112.3,114.9 L112.4,114.8Z" fill="#70479f"/><path d="M111.2,112.4 L110.5,112.5" stroke="#b49cd6" stroke-width="1.7" fill="none" stroke-linecap="round" opacity="0.8"/><path d="M112.5,115.2 L112.3,115 L111.9,115 L111.2,115" stroke="#4e2a78" stroke-width="1.3" fill="none" opacity="0.6"/>
<path d="M58.4,22.6 L59.4,22.8 L60.4,23 L61.4,23.1 L62.4,23.1 L63.4,23.2 L64.4,23.2 L65.3,23.2 L66.2,23.2 L67,23.2 L67.7,23.2 L68.3,23.1 L68.7,23.1 L69.1,23.1 L69.3,23.1 L69.4,23.1 L69.9,26 L70,26.3 L69.8,26.7 L69.5,27.1 L69.1,27.5 L68.6,27.8 L68,28.1 L67.2,28.4 L66.4,28.6 L65.5,28.7 L64.5,28.8 L63.5,28.8 L62.5,28.7 L61.5,28.5 L60.5,28.2 L59.5,27.9Z" fill="#c9cdd2"/><path d="M56.9,31.8 L57,32.3 L57.3,32.7 L57.8,33.1 L58.3,33.5 L59,33.8 L59.8,34.1 L60.6,34.3 L61.6,34.5 L62.6,34.7 L63.6,34.8 L64.6,34.9 L65.6,34.9 L66.6,35 L67.6,35 L68.5,35 L69.3,34.9 L70,34.9 L70.6,34.9 L71.1,34.9 L71.5,34.9 L71.7,34.9 L71.8,34.9 L72.3,37.7 L72.3,38.1 L72.2,38.5 L71.9,38.9 L71.5,39.2 L71,39.6 L70.3,39.9 L69.6,40.2 L68.7,40.4 L67.8,40.5 L66.8,40.6 L65.8,40.5 L64.7,40.4 L63.7,40.2 L62.7,39.9 L61.7,39.5 L60.8,39 L59.9,38.5 L59.2,37.8 L58.6,37.1 L58.1,36.3 L57.7,35.5 L57.4,34.6Z" fill="#c9cdd2"/><path d="M59.2,43.6 L59.4,44 L59.7,44.5 L60.2,44.9 L60.7,45.3 L61.4,45.6 L62.2,45.9 L63,46.1 L64,46.3 L65,46.4 L66,46.6 L67,46.7 L68,46.7 L69,46.7 L70,46.7 L70.9,46.7 L71.7,46.7 L72.4,46.7 L73,46.6 L73.5,46.6 L73.9,46.6 L74.1,46.6 L74.2,46.7 L74.7,49.5 L74.7,49.9 L74.6,50.2 L74.3,50.6 L73.9,51 L73.4,51.3 L72.7,51.7 L71.9,51.9 L71.1,52.1 L70.2,52.3 L69.2,52.3 L68.2,52.3 L67.1,52.2 L66.1,52 L65.1,51.7 L64.1,51.3 L63.2,50.8 L62.3,50.2 L61.6,49.6 L61,48.9 L60.4,48.1 L60.1,47.3 L59.8,46.4Z" fill="#c9cdd2"/><path d="M61.6,55.3 L61.8,55.8 L62.1,56.2 L62.5,56.6 L63.1,57 L63.8,57.3 L64.6,57.6 L65.4,57.9 L66.4,58 L67.3,58.2 L68.4,58.3 L69.4,58.4 L70.4,58.5 L71.4,58.5 L72.4,58.5 L73.3,58.5 L74.1,58.5 L74.8,58.4 L75.4,58.4 L75.9,58.4 L76.2,58.4 L76.5,58.4 L76.5,58.4 L77.1,61.3 L77.1,61.6 L77,62 L76.7,62.4 L76.3,62.8 L75.7,63.1 L75.1,63.4 L74.3,63.7 L73.5,63.9 L72.5,64 L71.6,64.1 L70.5,64.1 L69.5,63.9 L68.5,63.7 L67.5,63.4 L66.5,63 L65.6,62.6 L64.7,62 L64,61.4 L63.4,60.6 L62.8,59.9 L62.5,59 L62.2,58.2Z" fill="#c9cdd2"/><path d="M64,67.1 L64.2,67.6 L64.5,68 L64.9,68.4 L65.5,68.8 L66.2,69.1 L66.9,69.4 L67.8,69.6 L68.7,69.8 L69.7,70 L70.8,70.1 L71.8,70.2 L72.8,70.2 L73.8,70.3 L74.8,70.3 L75.7,70.2 L76.5,70.2 L77.2,70.2 L77.8,70.2 L78.3,70.1 L78.6,70.1 L78.9,70.2 L78.9,70.2 L79.5,73 L79.5,73.4 L79.4,73.8 L79.1,74.1 L78.7,74.5 L78.1,74.9 L77.5,75.2 L76.7,75.4 L75.9,75.6 L74.9,75.8 L74,75.8 L72.9,75.8 L71.9,75.7 L70.9,75.5 L69.8,75.2 L68.9,74.8 L68,74.3 L67.1,73.8 L66.4,73.1 L65.7,72.4 L65.2,71.6 L64.8,70.8 L64.6,69.9Z" fill="#c9cdd2"/><path d="M66.4,78.9 L66.6,79.3 L66.9,79.8 L67.3,80.2 L67.9,80.5 L68.6,80.9 L69.3,81.1 L70.2,81.4 L71.1,81.6 L72.1,81.7 L73.1,81.8 L74.2,81.9 L75.2,82 L76.2,82 L77.2,82 L78,82 L78.9,82 L79.6,82 L80.2,81.9 L80.7,81.9 L81,81.9 L81.2,81.9 L81.3,81.9 L81.9,84.8 L81.9,85.1 L81.8,85.5 L81.5,85.9 L81.1,86.3 L80.5,86.6 L79.9,86.9 L79.1,87.2 L78.3,87.4 L77.3,87.5 L76.3,87.6 L75.3,87.6 L74.3,87.5 L73.2,87.3 L72.2,87 L71.3,86.6 L70.3,86.1 L69.5,85.5 L68.8,84.9 L68.1,84.2 L67.6,83.4 L67.2,82.5 L67,81.7Z" fill="#c9cdd2"/><path d="M69.3,22.8 L69.2,22.4 L68.9,22.1 L68.5,21.8 L67.9,21.5 L67.3,21.4 L66.5,21.3 L65.7,21.3 L64.9,21.5 L63.9,21.7 L63,22 L62.1,22.4 L61.2,22.9 L60.3,23.5 L59.5,24.2 L58.7,25 L58.1,25.8 L57.6,26.7 L57.1,27.6 L56.8,28.6 L56.7,29.5 L56.7,30.5 L56.8,31.5 L57.5,35 L57.5,34.5 L57.6,34.1 L57.9,33.6 L58.2,33.1 L58.7,32.5 L59.4,32 L60.1,31.5 L60.9,31 L61.7,30.5 L62.6,30 L63.5,29.5 L64.4,29 L65.4,28.6 L66.2,28.2 L67,27.8 L67.8,27.5 L68.5,27.2 L69,27 L69.5,26.8 L69.8,26.6 L70,26.4 L70,26.3Z" fill="#70479f"/><path d="M68.8,23.4 L68.3,23.4 L67.7,23.5 L67,23.6 L66.2,23.8 L65.4,24 L64.5,24.3 L63.6,24.7 L62.6,25.1 L61.7,25.6 L60.8,26.2 L60,26.8 L59.2,27.4 L58.6,28.1 L58,28.8 L57.5,29.5 L57.2,30.2" stroke="#b49cd6" stroke-width="2" fill="none" stroke-linecap="round" opacity="0.8"/><path d="M70.1,26.8 L70,26.7 L69.8,26.6 L69.4,26.5 L68.9,26.5 L68.3,26.6 L67.6,26.7 L66.8,26.9 L66,27.1 L65.1,27.4 L64.2,27.8 L63.3,28.2 L62.3,28.7 L61.5,29.3 L60.6,29.9 L59.9,30.5 L59.2,31.2 L58.6,31.9 L58.1,32.6 L57.8,33.3 L57.6,34.1 L57.5,34.8 L57.6,35.5" stroke="#4e2a78" stroke-width="1.6" fill="none" opacity="0.6"/><path d="M71.7,34.6 L71.5,34.2 L71.3,33.8 L70.8,33.5 L70.3,33.3 L69.7,33.2 L68.9,33.1 L68.1,33.1 L67.2,33.2 L66.3,33.4 L65.4,33.8 L64.5,34.2 L63.6,34.7 L62.7,35.3 L61.9,36 L61.1,36.8 L60.5,37.6 L59.9,38.5 L59.5,39.4 L59.2,40.3 L59.1,41.3 L59,42.3 L59.2,43.2 L59.9,46.8 L59.9,46.3 L60,45.8 L60.2,45.3 L60.6,44.8 L61.1,44.3 L61.7,43.8 L62.5,43.3 L63.2,42.7 L64.1,42.2 L65,41.7 L65.9,41.2 L66.8,40.8 L67.7,40.4 L68.6,40 L69.4,39.6 L70.2,39.3 L70.8,39 L71.4,38.7 L71.9,38.5 L72.2,38.3 L72.4,38.2 L72.4,38.1Z" fill="#70479f"/><path d="M71.2,35.2 L70.7,35.2 L70.1,35.2 L69.4,35.3 L68.6,35.5 L67.8,35.8 L66.9,36.1 L65.9,36.4 L65,36.9 L64.1,37.4 L63.2,37.9 L62.4,38.5 L61.6,39.2 L60.9,39.8 L60.4,40.5 L59.9,41.3 L59.6,42" stroke="#b49cd6" stroke-width="2" fill="none" stroke-linecap="round" opacity="0.8"/><path d="M72.5,38.6 L72.4,38.4 L72.2,38.3 L71.8,38.3 L71.3,38.3 L70.7,38.3 L70,38.4 L69.2,38.6 L68.4,38.9 L67.5,39.2 L66.6,39.5 L65.7,40 L64.7,40.5 L63.9,41 L63,41.6 L62.3,42.3 L61.6,42.9 L61,43.6 L60.5,44.4 L60.2,45.1 L60,45.8 L59.9,46.5 L60,47.2" stroke="#4e2a78" stroke-width="1.6" fill="none" opacity="0.6"/><path d="M74.1,46.3 L73.9,45.9 L73.6,45.6 L73.2,45.3 L72.7,45.1 L72.1,44.9 L71.3,44.8 L70.5,44.9 L69.6,45 L68.7,45.2 L67.8,45.5 L66.9,45.9 L66,46.5 L65.1,47.1 L64.3,47.8 L63.5,48.5 L62.9,49.3 L62.3,50.2 L61.9,51.1 L61.6,52.1 L61.5,53.1 L61.4,54 L61.6,55 L62.3,58.5 L62.3,58.1 L62.4,57.6 L62.6,57.1 L63,56.6 L63.5,56.1 L64.1,55.5 L64.8,55 L65.6,54.5 L66.5,54 L67.4,53.5 L68.3,53 L69.2,52.5 L70.1,52.1 L71,51.7 L71.8,51.4 L72.6,51 L73.2,50.8 L73.8,50.5 L74.2,50.3 L74.6,50.1 L74.7,50 L74.8,49.8Z" fill="#70479f"/><path d="M73.6,46.9 L73.1,46.9 L72.5,47 L71.8,47.1 L71,47.3 L70.1,47.5 L69.3,47.8 L68.3,48.2 L67.4,48.6 L66.5,49.1 L65.6,49.7 L64.8,50.3 L64,50.9 L63.3,51.6 L62.8,52.3 L62.3,53 L62,53.8" stroke="#b49cd6" stroke-width="2" fill="none" stroke-linecap="round" opacity="0.8"/><path d="M74.9,50.3 L74.8,50.2 L74.6,50.1 L74.2,50 L73.7,50 L73.1,50.1 L72.4,50.2 L71.6,50.4 L70.8,50.6 L69.9,50.9 L69,51.3 L68,51.7 L67.1,52.2 L66.2,52.8 L65.4,53.4 L64.6,54 L64,54.7 L63.4,55.4 L62.9,56.1 L62.6,56.9 L62.4,57.6 L62.3,58.3 L62.4,59" stroke="#4e2a78" stroke-width="1.6" fill="none" opacity="0.6"/><path d="M76.5,58.1 L76.3,57.7 L76,57.3 L75.6,57 L75.1,56.8 L74.4,56.7 L73.7,56.6 L72.9,56.6 L72,56.7 L71.1,57 L70.2,57.3 L69.3,57.7 L68.3,58.2 L67.5,58.8 L66.7,59.5 L65.9,60.3 L65.3,61.1 L64.7,62 L64.3,62.9 L64,63.9 L63.8,64.8 L63.8,65.8 L63.9,66.7 L64.7,70.3 L64.6,69.8 L64.8,69.3 L65,68.9 L65.4,68.3 L65.9,67.8 L66.5,67.3 L67.2,66.8 L68,66.2 L68.9,65.7 L69.8,65.2 L70.7,64.8 L71.6,64.3 L72.5,63.9 L73.4,63.5 L74.2,63.1 L75,62.8 L75.6,62.5 L76.2,62.3 L76.6,62 L77,61.9 L77.1,61.7 L77.2,61.6Z" fill="#70479f"/><path d="M76,58.7 L75.5,58.7 L74.9,58.7 L74.2,58.9 L73.4,59 L72.5,59.3 L71.6,59.6 L70.7,60 L69.8,60.4 L68.9,60.9 L68,61.4 L67.2,62 L66.4,62.7 L65.7,63.4 L65.1,64.1 L64.7,64.8 L64.3,65.5" stroke="#b49cd6" stroke-width="2" fill="none" stroke-linecap="round" opacity="0.8"/><path d="M77.3,62.1 L77.2,62 L77,61.9 L76.6,61.8 L76.1,61.8 L75.5,61.8 L74.8,62 L74,62.1 L73.2,62.4 L72.3,62.7 L71.4,63.1 L70.4,63.5 L69.5,64 L68.6,64.5 L67.8,65.1 L67,65.8 L66.4,66.5 L65.8,67.2 L65.3,67.9 L65,68.6 L64.8,69.3 L64.7,70.1 L64.8,70.8" stroke="#4e2a78" stroke-width="1.6" fill="none" opacity="0.6"/><path d="M78.9,69.8 L78.7,69.4 L78.4,69.1 L78,68.8 L77.5,68.6 L76.8,68.4 L76.1,68.4 L75.3,68.4 L74.4,68.5 L73.5,68.7 L72.6,69 L71.6,69.5 L70.7,70 L69.9,70.6 L69,71.3 L68.3,72 L67.7,72.9 L67.1,73.7 L66.7,74.7 L66.4,75.6 L66.2,76.6 L66.2,77.6 L66.3,78.5 L67.1,82 L67,81.6 L67.2,81.1 L67.4,80.6 L67.8,80.1 L68.3,79.6 L68.9,79.1 L69.6,78.5 L70.4,78 L71.3,77.5 L72.2,77 L73.1,76.5 L74,76.1 L74.9,75.6 L75.8,75.2 L76.6,74.9 L77.4,74.6 L78,74.3 L78.6,74 L79,73.8 L79.3,73.6 L79.5,73.5 L79.6,73.4Z" fill="#70479f"/><path d="M78.3,70.5 L77.9,70.5 L77.3,70.5 L76.6,70.6 L75.8,70.8 L74.9,71 L74,71.3 L73.1,71.7 L72.2,72.1 L71.3,72.6 L70.4,73.2 L69.6,73.8 L68.8,74.4 L68.1,75.1 L67.5,75.8 L67.1,76.5 L66.7,77.3" stroke="#b49cd6" stroke-width="2" fill="none" stroke-linecap="round" opacity="0.8"/><path d="M79.7,73.9 L79.6,73.7 L79.3,73.6 L79,73.6 L78.5,73.6 L77.9,73.6 L77.2,73.7 L76.4,73.9 L75.6,74.1 L74.7,74.4 L73.7,74.8 L72.8,75.3 L71.9,75.7 L71,76.3 L70.2,76.9 L69.4,77.5 L68.7,78.2 L68.2,78.9 L67.7,79.6 L67.4,80.4 L67.2,81.1 L67.1,81.8 L67.2,82.5" stroke="#4e2a78" stroke-width="1.6" fill="none" opacity="0.6"/><path d="M81.2,81.6 L81.1,81.1 L80.7,80.8 L80.1,80.4 L79.4,80.2 L80.6,85.9 L81.2,85.7 L81.6,85.4 L81.9,85.3 L82,85.1Z" fill="#70479f"/><path d="M80.5,82.2 L79.9,82.2" stroke="#b49cd6" stroke-width="2" fill="none" stroke-linecap="round" opacity="0.8"/><path d="M82.1,85.6 L81.9,85.5 L81.6,85.4 L81.1,85.3 L80.5,85.3" stroke="#4e2a78" stroke-width="1.6" fill="none" opacity="0.6"/>
<path d="M31,64 C36,61 44,62 52,65.5 C56,63 64,62 72,64 C77,66 78,74 76,81 C72,84 66,84 62,86 C58,89 52,91 46,89.5 C41,87 37,82 33,78 C29,74 28,68 31,64 Z" fill="#f1e5c1" fill-opacity="0.9" stroke="#dccb9c" stroke-width="0.7"/>
<g stroke-linecap="round" fill="none" stroke-width="0.8" opacity="0.8">
<path d="M33,70 L37,68 L40,71 L44,69 M40,71 L41,75 L45,77 L49,75 L53,78 L57,75 L62,74 L66,71 L70,72 M49,75 L50,80 L54,83 M57,75 L59,79 L63,80 L67,78 M45,77 L44,81 M66,71 L68,67" stroke="#e0503a"/>
<path d="M44,79 L48,83 L52,81 M53,78 L56,83 L60,84 M36,74 L40,72" stroke="#c8cc58"/>
<path d="M46,84 L49,86 M51,82 L53,85 M47,79 L49,81" stroke="#3048b8"/>
</g>
<g fill="#b9bdd0"><circle cx="41" cy="75" r="1"/><circle cx="57" cy="75" r="1"/><circle cx="66" cy="71" r="1"/><circle cx="63" cy="80" r="1"/></g>
<circle cx="37" cy="68" r="2.1" fill="url(#og)"/>
<circle cx="45" cy="66.5" r="2.3" fill="url(#og)"/>
<circle cx="60" cy="82" r="2.3" fill="url(#og)"/>
<circle cx="68" cy="77" r="1.9" fill="url(#og)"/>
<g fill="none" stroke="#222" stroke-width="1" stroke-dasharray="2 2">
<rect x="26.4" y="59" width="50.6" height="31"/>
<path d="M71,59 L138.5,14.6"/><path d="M77,90 L138.5,126.4"/>
</g>
<text x="-1.3" y="7.6" font-size="11.2" font-weight="bold" fill="#111">a</text><g clip-path="url(#ci)">
<!-- gray bands top -->
<path d="M142,14 L176,14 L174,18.5 Q162,19.5 148,18.5 Z" fill="#6f7379"/>
<path d="M198,14 L230,14 L229,22 Q216,23.5 203,22 Z" fill="#7b7f85"/>
<!-- left beta strand pointing down -->
<path d="M138.5,14 L147,14 L150.5,38 L154,44 L148,58 L141,45.5 L142.5,41 L139,28 Z" fill="#3f7ec6"/>
<path d="M140,14 L143,40" stroke="#5f9ad8" stroke-width="1.5" fill="none"/>
<path d="M147,14 L150.5,38 L154,44 L148,58" stroke="#2c3138" stroke-width="0.9" fill="none"/>
<!-- ribbon from top narrowing -->
<path d="M158,14 L174,14 L172,21 L168,28 L163,26 Z" fill="#4781c2"/>
<path d="M158,14 L163,26" stroke="#2a3442" stroke-width="0.9" fill="none"/>
<!-- diamond -->
<path d="M154.4,31.7 L161.2,24.2 L166.8,31.7 L162.5,41 Z" fill="#4781c2"/>
<path d="M166.8,31.7 L162.5,41" stroke="#21497f" stroke-width="1.6" fill="none"/>
<path d="M155,31.5 L161.2,24.8" stroke="#6aa5de" stroke-width="1" fill="none"/>
<!-- coil gray interior -->
<ellipse cx="175" cy="35.5" rx="9.5" ry="5" fill="#c5c9ce"/>
<path d="M166,38 Q175,42 184,38 L182,41 Q174,44 166,41 Z" fill="#8f949a"/>
<path d="M168,31 Q178,26 185,31 Q188,35 183,39" stroke="#4a88cc" stroke-width="1.6" fill="none"/>
<path d="M185,33 Q192,29 201,26" stroke="#4a88cc" stroke-width="1.8" fill="none"/>
<!-- blue ribbon down from coil -->
<path d="M184,37 Q186,46 178,52 Q172,56 168,62" stroke="#4781c2" stroke-width="6.5" fill="none"/>
<path d="M184,40 Q182,47 177,50" stroke="#6aa5de" stroke-width="1" fill="none"/>
<!-- left thin blue loop -->
<path d="M149.5,56 Q149,70 151,80 Q154,88 164,89 Q176,90 186,94" stroke="#4d89cc" stroke-width="1.7" fill="none"/>
<!-- dark purple top wedge -->
<path d="M187,14 L213,14 Q209,24 199,29.5 Q194,29 191,24 Q188,19 187,14 Z" fill="#4a2470"/>
<!-- purple crescent -->
<path d="M225,14 L233,14 Q243,28 235,41 Q227,51 213,56 L206,45 Q221,41 227,32 Q231,22 225,14 Z" fill="#7b559f"/>
<path d="M203,41 L208,44 L212,54 L206,50 Z" fill="#d0d3d8"/>
<path d="M230,16 Q239,28 233,40" stroke="#9a74c4" stroke-width="1.3" fill="none"/>
<!-- top right dark half-disk -->
<path d="M231,14 L248,14 Q246,22 239.5,22 Q233,22 231,14 Z" fill="#3e1c62"/>
<!-- ring at right edge -->
<circle cx="251" cy="28" r="7.5" fill="#5a2e88"/>
<path d="M243.5,28 A7.5,7.5 0 0 1 258.5,28 Z" fill="#c4c8cd"/>
<!-- gray piece -->
<path d="M228,42 L237,40 L236,49 L227,50 Z" fill="#a5aaaf"/>
<!-- purple thin strands -->
<path d="M222,56 Q236,61 247,74" stroke="#d2d5d9" stroke-width="2.2" fill="none"/>
<path d="M224,59 Q237,64 246,76" stroke="#3a3d42" stroke-width="0.8" fill="none"/>
<path d="M235,47 Q243,51 252,61" stroke="#70479f" stroke-width="2.4" fill="none"/>
<path d="M228,54 Q241,59 252,70" stroke="#70479f" stroke-width="2" fill="none"/>
<!-- gray blob behind ligand -->
<ellipse cx="188" cy="57" rx="6.5" ry="5" fill="#b0b4b9"/>
<!-- middle helix -->
<path d="M173,95.2 L173,95 L173.1,94.7 L173.2,94.5 L173.4,94.3 L173.6,94.1 L173.9,93.8 L174.3,93.6 L174.7,93.4 L175.2,93.2 L175.7,93 L176.3,92.7 L176.9,92.6 L177.6,92.4 L178.3,92.2 L179,92.1 L179.8,92 L180.7,91.9 L181.5,91.8 L182.4,91.8 L183.3,91.8 L184.2,91.8 L185.2,91.8 L186.1,91.9 L187,92 L188,92.2 L188.9,92.3 L189.9,92.5 L190.8,92.8 L191.7,93.1 L192.6,93.4 L193.4,93.7 L194.3,94.1 L195.1,94.5 L195.8,95 L196.5,95.4 L197.2,96 L197.8,96.5 L198.4,97.1 L199,97.6 L199.4,98.3 L199.8,98.9 L200.2,99.6 L200.5,100.2 L200.7,100.9 L200.9,101.6 L201.8,105.9 L201.7,105.6 L201.5,105.3 L201.3,104.9 L201,104.6 L200.7,104.4 L200.3,104.1 L199.8,103.8 L199.3,103.6 L198.7,103.3 L198.1,103.1 L197.5,102.9 L196.8,102.7 L196,102.5 L195.2,102.4 L194.4,102.2 L193.6,102.1 L192.7,102 L191.8,101.8 L190.9,101.7 L190,101.6 L189,101.5 L188.1,101.4 L187.1,101.4 L186.2,101.3 L185.3,101.2 L184.3,101.2 L183.4,101.1 L182.6,101.1 L181.7,101 L180.9,100.9 L180.1,100.9 L179.3,100.8 L178.6,100.8 L177.9,100.7 L177.3,100.6 L176.7,100.5 L176.1,100.5 L175.7,100.4 L175.2,100.3 L174.9,100.2 L174.6,100 L174.3,99.9 L174.1,99.8 L174,99.6 L173.9,99.5Z" fill="#b4b9bf"/><path d="M177.9,118.7 L177.9,118.5 L177.9,118.2 L178.1,118 L178.3,117.8 L178.5,117.5 L178.8,117.3 L179.2,117.1 L179.6,116.8 L180.1,116.6 L180.7,116.4 L181.3,116.2 L181.9,116 L182.6,115.8 L183.4,115.7 L184.2,115.6 L185,115.4 L185.8,115.4 L186.7,115.3 L187.6,115.3 L188.6,115.3 L189.5,115.3 L190.5,115.4 L191.5,115.5 L192.4,115.6 L193.4,115.8 L194.4,116 L195.3,116.2 L196.2,116.5 L197.1,116.8 L198,117.1 L198.9,117.5 L199.7,117.9 L200.5,118.4 L201.2,118.8 L201.9,119.3 L202.6,119.9 L203.2,120.5 L203.7,121.1 L204.2,121.7 L204.7,122.3 L205,123 L205.4,123.7 L205.6,124.4 L205.8,125.1 L206.7,129.4 L206.6,129.1 L206.4,128.8 L206.2,128.4 L205.9,128.1 L205.5,127.8 L205.1,127.5 L204.6,127.3 L204.1,127 L203.5,126.8 L202.8,126.6 L202.2,126.4 L201.4,126.2 L200.6,126 L199.8,125.8 L199,125.7 L198.1,125.5 L197.2,125.4 L196.3,125.3 L195.3,125.2 L194.4,125.1 L193.4,125 L192.5,124.9 L191.5,124.8 L190.5,124.8 L189.6,124.7 L188.7,124.6 L187.8,124.6 L186.9,124.5 L186,124.5 L185.2,124.4 L184.4,124.3 L183.6,124.3 L182.9,124.2 L182.3,124.1 L181.7,124.1 L181.1,124 L180.6,123.9 L180.2,123.8 L179.8,123.7 L179.4,123.6 L179.2,123.4 L179,123.3 L178.9,123.1 L178.8,123Z" fill="#b4b9bf"/><path d="M182.8,142.2 L182.7,142.1 L182.7,142 L182.8,141.9 L183.7,146.7 L183.7,146.6 L183.7,146.5 L183.6,146.5Z" fill="#b4b9bf"/><path d="M195.6,78.7 L195.4,79.1 L195.1,79.4 L194.8,79.8 L194.4,80.2 L193.9,80.6 L193.4,81 L192.8,81.4 L192.2,81.9 L191.6,82.3 L190.9,82.7 L190.2,83.2 L189.4,83.6 L188.6,84.1 L187.8,84.5 L187,85 L186.2,85.4 L185.3,85.9 L184.5,86.4 L183.6,86.8 L182.8,87.3 L181.9,87.7 L181.1,88.2 L180.3,88.6 L179.5,89 L178.8,89.4 L178,89.9 L177.3,90.3 L176.7,90.6 L176.1,91 L175.5,91.4 L175,91.8 L174.5,92.1 L174.1,92.5 L173.7,92.8 L173.4,93.1 L173.2,93.4 L173,93.7 L172.9,93.9 L172.9,94.2 L172.9,94.4 L174.1,100.2 L174.2,100.4 L174.3,100.7 L174.5,100.9 L174.8,101.1 L175.1,101.3 L175.5,101.4 L176,101.5 L176.5,101.6 L177,101.7 L177.6,101.7 L178.3,101.7 L179,101.7 L179.7,101.6 L180.4,101.5 L181.2,101.3 L182,101.1 L182.8,100.9 L183.7,100.6 L184.5,100.3 L185.4,99.9 L186.3,99.5 L187.1,99.1 L188,98.6 L188.8,98.1 L189.6,97.6 L190.4,97 L191.2,96.4 L191.9,95.7 L192.6,95.1 L193.3,94.4 L193.9,93.6 L194.5,92.9 L195.1,92.1 L195.5,91.3 L196,90.5 L196.3,89.7 L196.7,88.9 L196.9,88.1 L197.1,87.3 L197.2,86.4Z" fill="#4781c2"/><path d="M195.9,81.6 L195.7,82.2 L195.4,82.8 L195,83.5 L194.6,84.1 L194.2,84.7 L193.6,85.3 L193.1,85.9 L192.4,86.4 L191.8,87 L191.1,87.6 L190.4,88.1 L189.6,88.7 L188.8,89.2 L188,89.7 L187.2,90.2 L186.3,90.7 L185.5,91.2 L184.6,91.6 L183.8,92.1 L182.9,92.5 L182.1,92.8 L181.3,93.2 L180.4,93.5 L179.7,93.8 L178.9,94.1 L178.2,94.4 L177.5,94.6 L176.9,94.8 L176.2,95 L175.7,95.2 L175.2,95.3 L174.7,95.5 L174.3,95.6" stroke="#6aa5de" stroke-width="3.6" fill="none" stroke-linecap="round" opacity="0.8"/><path d="M197.3,86.7 L197.1,87.3 L196.9,87.8 L196.6,88.4 L196.2,89.1 L195.8,89.7 L195.3,90.3 L194.8,90.9 L194.2,91.5 L193.6,92 L192.9,92.6 L192.2,93.2 L191.5,93.8 L190.8,94.3 L190,94.8 L189.2,95.3 L188.3,95.8 L187.5,96.3 L186.6,96.8 L185.8,97.2 L184.9,97.7 L184.1,98.1 L183.2,98.4 L182.4,98.8 L181.6,99.1 L180.8,99.4 L180.1,99.7 L179.3,100 L178.7,100.2 L178,100.4 L177.4,100.6 L176.8,100.8 L176.3,100.9 L175.9,101.1 L175.5,101.2 L175.1,101.3 L174.8,101.3 L174.6,101.4 L174.5,101.4 L174.4,101.4 L174.3,101.4" stroke="#2a5d9c" stroke-width="2.9" fill="none" opacity="0.6"/><path d="M200.8,100.9 L200.8,101.2 L200.8,101.5 L200.7,101.9 L200.5,102.2 L200.3,102.5 L200,102.9 L199.7,103.3 L199.3,103.6 L198.9,104 L198.4,104.4 L197.9,104.8 L197.3,105.2 L196.7,105.7 L196,106.1 L195.3,106.5 L194.6,107 L193.8,107.4 L193,107.8 L192.2,108.3 L191.4,108.7 L190.6,109.2 L189.8,109.6 L188.9,110.1 L188.1,110.5 L187.3,111 L186.5,111.4 L185.7,111.8 L184.9,112.2 L184.1,112.7 L183.4,113.1 L182.7,113.5 L182,113.9 L181.4,114.3 L180.8,114.6 L180.2,115 L179.7,115.3 L179.3,115.7 L178.9,116 L178.6,116.3 L178.3,116.6 L178,116.9 L177.9,117.2 L177.8,117.5 L177.7,117.7 L177.7,117.9 L178.9,123.7 L179,123.9 L179.2,124.2 L179.4,124.4 L179.6,124.6 L180,124.7 L180.3,124.9 L180.8,125 L181.2,125.1 L181.8,125.2 L182.4,125.2 L183,125.2 L183.6,125.2 L184.3,125.1 L185.1,125 L185.8,124.9 L186.6,124.7 L187.4,124.5 L188.2,124.2 L189,123.9 L189.9,123.6 L190.7,123.2 L191.6,122.8 L192.4,122.4 L193.2,121.9 L194,121.4 L194.8,120.8 L195.6,120.2 L196.3,119.6 L197.1,119 L197.7,118.3 L198.4,117.6 L199,116.9 L199.5,116.2 L200.1,115.4 L200.5,114.7 L200.9,113.9 L201.3,113.1 L201.6,112.3 L201.8,111.5 L202,110.7 L202.1,109.8 L202.2,109 L202.2,108.2 L202.1,107.4 L202,106.7Z" fill="#4781c2"/><path d="M200.6,105.7 L200.3,106.2 L200,106.8 L199.6,107.4 L199.1,108 L198.6,108.6 L198.1,109.2 L197.5,109.8 L196.9,110.3 L196.2,110.9 L195.5,111.4 L194.8,112 L194,112.5 L193.2,113 L192.4,113.5 L191.6,114 L190.8,114.5 L189.9,114.9 L189.1,115.3 L188.3,115.7 L187.4,116.1 L186.6,116.5 L185.8,116.8 L185,117.1 L184.3,117.4 L183.6,117.7 L182.9,118 L182.2,118.2 L181.6,118.4 L181,118.6 L180.4,118.7 L180,118.9 L179.5,119 L179.1,119.1" stroke="#6aa5de" stroke-width="3.6" fill="none" stroke-linecap="round" opacity="0.8"/><path d="M202.2,107.9 L202.3,108.4 L202.3,109 L202.3,109.5 L202.2,110.1 L202,110.7 L201.8,111.3 L201.5,111.8 L201.1,112.4 L200.7,113 L200.3,113.6 L199.8,114.2 L199.3,114.8 L198.7,115.4 L198,115.9 L197.4,116.5 L196.7,117 L195.9,117.6 L195.2,118.1 L194.4,118.6 L193.6,119.1 L192.8,119.6 L191.9,120.1 L191.1,120.5 L190.3,120.9 L189.4,121.3 L188.6,121.7 L187.8,122.1 L187,122.4 L186.2,122.7 L185.4,123 L184.7,123.3 L184,123.6 L183.3,123.8 L182.7,124 L182.1,124.2 L181.6,124.3 L181.1,124.5 L180.7,124.6 L180.3,124.7 L180,124.8 L179.7,124.8 L179.5,124.9 L179.3,124.9 L179.2,124.9 L179.2,124.9" stroke="#2a5d9c" stroke-width="2.9" fill="none" opacity="0.6"/><path d="M205.6,124.4 L205.7,124.7 L205.6,125 L205.5,125.4 L205.4,125.7 L205.2,126 L204.9,126.4 L204.6,126.8 L204.2,127.1 L203.7,127.5 L203.3,127.9 L202.7,128.3 L202.1,128.7 L201.5,129.2 L200.9,129.6 L200.2,130 L199.4,130.5 L198.7,130.9 L197.9,131.3 L197.1,131.8 L196.3,132.2 L195.5,132.7 L194.6,133.1 L193.8,133.6 L193,134 L192.1,134.5 L191.3,134.9 L190.5,135.3 L189.7,135.7 L189,136.2 L188.2,136.6 L187.5,137 L186.9,137.4 L186.2,137.8 L185.6,138.1 L185.1,138.5 L184.6,138.8 L184.2,139.2 L183.8,139.5 L183.4,139.8 L183.1,140.1 L182.9,140.4 L182.7,140.7 L182.6,141 L182.6,141.2 L182.6,141.4 L183.8,147.2 L183.9,147.4 L184,147.7 L184.2,147.9 L184.5,148.1 L184.8,148.3 L185.2,148.4 L185.6,148.5 L186.1,148.6 L186.6,148.7 L187.2,148.7 L187.8,148.7 L188.5,148.7 L189.2,148.6 L189.9,148.5 L190.7,148.4 L191.5,148.2 L192.3,148 L193.1,147.7 L193.9,147.4 L194.7,147.1 L195.6,146.7 L196.4,146.3 L197.3,145.9 L198.1,145.4 L198.9,144.9 L199.7,144.3 L200.5,143.7 L201.2,143.1 L201.9,142.5 L202.6,141.8 L203.2,141.1 L203.8,140.4 L204.4,139.7 L204.9,138.9 L205.4,138.2 L205.8,137.4 L206.1,136.6 L206.4,135.8 L206.7,135 L206.9,134.2 L207,133.4 L207,132.5 L207,131.7 L207,130.9 L206.8,130.2Z" fill="#4781c2"/><path d="M205.5,129.2 L205.2,129.7 L204.8,130.3 L204.4,130.9 L204,131.5 L203.5,132.1 L203,132.7 L202.4,133.3 L201.7,133.8 L201.1,134.4 L200.4,134.9 L199.6,135.5 L198.9,136 L198.1,136.5 L197.3,137 L196.5,137.5 L195.6,138 L194.8,138.4 L194,138.8 L193.1,139.2 L192.3,139.6 L191.5,140 L190.7,140.3 L189.9,140.6 L189.1,140.9 L188.4,141.2 L187.7,141.5 L187.1,141.7 L186.4,141.9 L185.8,142.1 L185.3,142.2 L184.8,142.4 L184.4,142.5 L184,142.6" stroke="#6aa5de" stroke-width="3.6" fill="none" stroke-linecap="round" opacity="0.8"/><path d="M207.1,131.4 L207.2,131.9 L207.2,132.5 L207.1,133 L207,133.6 L206.9,134.2 L206.6,134.8 L206.3,135.3 L206,135.9 L205.6,136.5 L205.2,137.1 L204.7,137.7 L204.1,138.3 L203.5,138.9 L202.9,139.4 L202.2,140 L201.5,140.5 L200.8,141.1 L200,141.6 L199.2,142.1 L198.4,142.6 L197.6,143.1 L196.8,143.6 L196,144 L195.1,144.4 L194.3,144.8 L193.5,145.2 L192.6,145.6 L191.8,145.9 L191.1,146.3 L190.3,146.5 L189.6,146.8 L188.9,147.1 L188.2,147.3 L187.6,147.5 L187,147.7 L186.5,147.8 L186,148 L185.5,148.1 L185.2,148.2 L184.8,148.3 L184.5,148.3 L184.3,148.4 L184.2,148.4 L184.1,148.4 L184,148.4" stroke="#2a5d9c" stroke-width="2.9" fill="none" opacity="0.6"/>
<path d="M210.5,95.2 L210.6,95 L210.8,94.9 L211.1,94.7 L211.6,94.6 L212.1,94.6 L212.8,94.6 L213.5,94.6 L214.3,94.7 L215,95 L215.8,95.2 L216.6,95.6 L217.3,96 L218,96.5 L218.6,97.1 L219.1,97.7 L219.4,98.4 L219.7,99.1 L219.8,99.8 L219.8,101.2 L219.7,100.8 L219.5,100.5 L219.2,100.2 L218.7,99.8 L218.1,99.5 L217.5,99.2 L216.8,99 L216,98.7 L215.2,98.5 L214.4,98.2 L213.6,98 L212.9,97.8 L212.3,97.6 L211.7,97.4 L211.2,97.2 L210.9,97 L210.7,96.8 L210.6,96.6Z" fill="#9a9fa5"/><path d="M211,105.2 L211,105 L211.2,104.9 L211.6,104.7 L212,104.6 L212.6,104.6 L213.2,104.6 L213.9,104.6 L214.7,104.7 L215.5,104.9 L216.3,105.2 L217,105.6 L217.8,106 L218.4,106.5 L219,107.1 L219.5,107.7 L219.9,108.4 L220.1,109.1 L220.2,109.8 L220.3,111.2 L220.2,110.8 L219.9,110.5 L219.6,110.2 L219.1,109.8 L218.6,109.5 L217.9,109.2 L217.2,109 L216.4,108.7 L215.6,108.4 L214.8,108.2 L214.1,108 L213.3,107.8 L212.7,107.6 L212.1,107.4 L211.7,107.2 L211.3,107 L211.1,106.8 L211,106.6Z" fill="#9a9fa5"/><path d="M211.4,115.2 L211.5,115 L211.7,114.9 L212,114.7 L212.4,114.6 L213,114.5 L213.6,114.5 L214.4,114.6 L215.1,114.7 L215.9,114.9 L216.7,115.2 L217.5,115.6 L218.2,116 L218.9,116.5 L219.5,117.1 L219.9,117.7 L220.3,118.4 L220.5,119.1 L220.6,119.8 L220.7,121.2 L220.6,120.8 L220.4,120.5 L220,120.2 L219.6,119.8 L219,119.5 L218.3,119.2 L217.6,118.9 L216.9,118.7 L216.1,118.4 L215.3,118.2 L214.5,118 L213.8,117.8 L213.1,117.6 L212.6,117.4 L212.1,117.2 L211.8,117 L211.6,116.8 L211.5,116.6Z" fill="#9a9fa5"/><path d="M211.9,125.2 L211.9,125 L212.1,124.8 L212.4,124.7 L212.9,124.6 L213.4,124.5 L214.1,124.5 L214.8,124.6 L215.6,124.7 L216.3,124.9 L217.1,125.2 L217.9,125.6 L218.6,126 L219.3,126.5 L219.9,127.1 L220.4,127.7 L220.7,128.4 L221,129.1 L221.1,129.8 L221.1,131.2 L221,130.8 L220.8,130.5 L220.5,130.1 L220,129.8 L219.4,129.5 L218.8,129.2 L218.1,128.9 L217.3,128.7 L216.5,128.4 L215.7,128.2 L214.9,128 L214.2,127.7 L213.6,127.5 L213,127.3 L212.5,127.2 L212.2,127 L212,126.8 L211.9,126.6Z" fill="#9a9fa5"/><path d="M212.3,135.2 L212.3,135 L212.5,134.8 L212.8,134.7 L213.3,134.6 L213.8,134.5 L214.4,134.5 L215.1,134.6 L215.8,134.7 L216.6,134.9 L217.4,135.1 L218.1,135.5 L218.9,135.9 L219.5,136.3 L220.1,136.9 L220.6,137.5 L221,138.1 L221.1,140.3 L220.8,140 L220.3,139.7 L219.7,139.4 L219,139.1 L218.3,138.9 L217.5,138.6 L216.8,138.4 L216,138.1 L215.2,137.9 L214.6,137.7 L213.9,137.5 L213.4,137.3 L212.9,137.1 L212.6,136.9 L212.4,136.8 L212.3,136.6Z" fill="#9a9fa5"/><path d="M212.8,93.1 L212.1,93.4 L211.6,93.7 L211.1,94 L210.8,94.3 L210.6,94.6 L210.5,94.9 L210.6,96.9 L210.7,97.1 L210.9,97.4 L211.3,97.5 L211.8,97.7 L212.3,97.7 L213,97.7Z" fill="#4a88cc"/><path d="M219.7,99.5 L219.7,99.8 L219.5,100.1 L219.2,100.4 L218.7,100.7 L218.2,101 L217.6,101.3 L216.9,101.6 L216.1,101.9 L215.4,102.2 L214.6,102.5 L213.8,102.8 L213.1,103.1 L212.5,103.4 L212,103.7 L211.5,104 L211.2,104.3 L211,104.6 L211,104.9 L211.1,106.9 L211.1,107.1 L211.3,107.3 L211.7,107.5 L212.1,107.7 L212.7,107.7 L213.3,107.7 L214.1,107.6 L214.8,107.5 L215.6,107.2 L216.3,106.8 L217.1,106.4 L217.8,105.9 L218.4,105.3 L218.9,104.6 L219.3,103.9 L219.6,103.1 L219.8,102.3 L219.8,101.5Z" fill="#4a88cc"/><path d="M220.2,109.5 L220.1,109.8 L219.9,110.1 L219.6,110.4 L219.2,110.6 L218.6,111 L218,111.3 L217.3,111.6 L216.6,111.9 L215.8,112.2 L215,112.5 L214.3,112.8 L213.6,113.1 L212.9,113.4 L212.4,113.7 L212,114 L211.7,114.3 L211.5,114.6 L211.4,114.9 L211.5,116.9 L211.6,117.1 L211.8,117.3 L212.1,117.5 L212.6,117.6 L213.1,117.7 L213.8,117.7 L214.5,117.6 L215.2,117.4 L216,117.2 L216.8,116.8 L217.5,116.4 L218.2,115.9 L218.8,115.2 L219.3,114.6 L219.8,113.8 L220.1,113.1 L220.2,112.3 L220.3,111.5Z" fill="#4a88cc"/><path d="M220.6,119.5 L220.6,119.8 L220.4,120.1 L220,120.3 L219.6,120.6 L219.1,120.9 L218.4,121.2 L217.7,121.6 L217,121.9 L216.2,122.2 L215.5,122.5 L214.7,122.8 L214,123.1 L213.4,123.4 L212.8,123.7 L212.4,124 L212.1,124.3 L211.9,124.6 L211.8,124.9 L211.9,126.9 L212,127.1 L212.2,127.3 L212.6,127.5 L213,127.6 L213.6,127.7 L214.2,127.7 L214.9,127.6 L215.7,127.4 L216.4,127.2 L217.2,126.8 L217.9,126.4 L218.6,125.8 L219.3,125.2 L219.8,124.6 L220.2,123.8 L220.5,123.1 L220.7,122.3 L220.7,121.5Z" fill="#4a88cc"/><path d="M221,129.5 L221,129.8 L220.8,130 L220.5,130.3 L220,130.6 L219.5,130.9 L218.9,131.2 L218.2,131.5 L217.4,131.9 L216.7,132.2 L215.9,132.5 L215.1,132.8 L214.4,133.1 L213.8,133.4 L213.3,133.7 L212.8,134 L212.5,134.3 L212.3,134.6 L212.3,134.9 L212.4,136.9 L212.4,137.1 L212.7,137.3 L213,137.5 L213.4,137.6 L214,137.7 L214.6,137.7 L215.4,137.6 L216.1,137.4 L216.9,137.2 L217.6,136.8 L218.4,136.4 L219.1,135.8 L219.7,135.2 L220.2,134.6 L220.6,133.8 L220.9,133.1 L221.1,132.3 L221.1,131.5Z" fill="#4a88cc"/>
<path d="M181,72 Q191,66 200,70 L200,84 Q190,81 182,86 Z" fill="#4781c2"/>
<path d="M182,73 Q191,68.5 199,71.5" stroke="#6aa5de" stroke-width="1.2" fill="none"/>
<path d="M182,84 Q190,80 200,83" stroke="#2a5d9c" stroke-width="1.2" fill="none"/>
<path d="M150,87 Q160,88 170,89" stroke="#4d89cc" stroke-width="1.6" fill="none"/>
<!-- purple coil bottom right -->
<path d="M233,127 Q240,118 251,117 L251,127 Z" fill="#4a2470"/>
<path d="M238,127 Q244,121 251,121" stroke="#8a60b3" stroke-width="1" fill="none"/>
<!-- H-bond dashes -->
<path d="M186,75 L200,82" stroke="#d8dc60" stroke-width="0.8" stroke-dasharray="1 1" fill="none"/>
<!-- ligand sticks -->
<g stroke-linecap="round" fill="none" stroke-width="2">
<path d="M155.5,83.6 L158.8,75.5 M155.5,83.6 L146.7,82.2 M155.5,83.6 L154.1,88.3 M155.5,83.6 L161.5,88.3 L168.9,85.6 M168.9,85.6 L166.9,78.8 M168.9,85.6 L172.3,92.3" stroke="#e23a3a"/>
<path d="M168.9,85.6 L177.7,78.8 L180.4,72.8" stroke="#d2d868"/>
<path d="M180.4,72.8 L175,66.7 M180.4,72.8 L186.4,70.8 M180.4,72.8 L185,74.1" stroke="#e23a3a"/>
<path d="M195.2,57.0 L191.6,59.2 L187.9,57.2 L187.8,53.0 L191.4,50.8 L195.1,52.8 Z M200.6,64.2 L196.6,64.3 L195.2,60.6 L198.4,58.1 L201.7,60.3 Z M208.7,70.7 L205.9,73.3 L202.5,71.4 L203.3,67.6 L207.1,67.1 Z M196,58.5 L201.5,64 M201.5,64.5 L204,67 M209,70 L213,77" stroke="#d4d96a" stroke-width="1.9"/><g fill="#2e4ad0" stroke="none"><circle cx="195.2" cy="57.0" r="1.2"/><circle cx="187.9" cy="57.2" r="1.2"/><circle cx="191.4" cy="50.8" r="1.2"/><circle cx="196.6" cy="64.3" r="1.2"/><circle cx="198.4" cy="58.1" r="1.2"/><circle cx="186.0" cy="50.0" r="1.2"/></g>
<path d="M200,76 L199,84 M204,80 L208,84 M211,72 L212,66 M211,72 L213,77 L219,80 M213,77 L210,83 M219,80 L224.5,73 M224.5,73 L224,66 M224.5,73 L230,76 L237.5,87 M224.5,73 L218,71" stroke="#e23a3a"/>
<path d="M237.5,87 L232,82 M237.5,87 L243,90 M237.5,87 L234,93 M237.5,87 L236,80" stroke="#e23a3a"/>
<path d="M213,77 L205,79" stroke="#c8d050"/>
</g>
<g fill="#c0c4dc" stroke="#8e92ac" stroke-width="0.5">
<circle cx="155.5" cy="83.6" r="2.1"/><circle cx="168.9" cy="85.6" r="2.1"/><circle cx="180.4" cy="72.8" r="2.1"/>
<circle cx="213" cy="77" r="2.1"/><circle cx="224.5" cy="73" r="2.1"/><circle cx="237.5" cy="87" r="2.1"/>
</g>
<!-- orange spheres -->
<circle cx="163.6" cy="68" r="4.7" fill="url(#og)"/>
<circle cx="176.6" cy="54.3" r="4.2" fill="url(#og)"/>
<circle cx="238.5" cy="71.5" r="4.6" fill="url(#og)"/>
<circle cx="227" cy="77.5" r="3" fill="url(#og)"/>
</g>
<rect x="138.5" y="14.4" width="112.2" height="112.2" fill="none" stroke="#222" stroke-width="1.1" stroke-dasharray="2 2"/>
<text x="145.6" y="103" font-size="8" fill="#333">pCpp</text>
<text x="221.6" y="102.7" font-size="8" fill="#333">ApCpp</text>
<g clip-path="url(#cd)">
<path d="M79,159 L91,159 L79,171 Z" fill="#b3a4d6"/>
<path d="M76.5,146.2 L76.6,146.7 L76.7,147.3 L76.9,147.8 L77.3,148.3 L77.7,148.8 L78.2,149.2 L78.7,149.7 L79.3,150.1 L80,150.5 L80.7,150.9 L81.5,151.2 L82.3,151.5 L83,151.8 L83.8,152 L84.6,152.3 L85.4,152.4 L86.1,152.6 L86.7,152.7 L87.4,152.8 L87.9,152.9 L88.4,153 L88.8,153 L89.1,153 L89.4,153.1 L89.5,153.1 L89.6,153.1 L89.6,155.8 L89.5,156.1 L89.4,156.4 L89.2,156.7 L88.8,157 L88.4,157.2 L88,157.4 L87.4,157.6 L86.8,157.7 L86.1,157.7 L85.4,157.7 L84.7,157.6 L83.9,157.4 L83.1,157.2 L82.3,156.9 L81.5,156.5 L80.8,156.1 L80.1,155.6 L79.4,155 L78.8,154.4 L78.2,153.7 L77.7,153 L77.3,152.2 L77,151.4 L76.7,150.6 L76.6,149.8 L76.5,148.9Z" fill="#e3e0ea"/><path d="M76.6,160.2 L76.7,160.7 L76.8,161.2 L77.1,161.8 L77.4,162.3 L77.8,162.8 L78.3,163.2 L78.8,163.7 L79.5,164.1 L80.1,164.5 L80.9,164.9 L81.6,165.2 L82.4,165.5 L83.2,165.8 L84,166 L84.7,166.3 L85.5,166.4 L86.2,166.6 L86.9,166.7 L87.5,166.8 L88,166.9 L88.5,167 L88.9,167 L89.3,167 L89.5,167.1 L89.6,167.1 L89.7,167.1 L89.7,169.8 L89.7,170.1 L89.5,170.4 L89.3,170.7 L89,171 L88.6,171.2 L88.1,171.4 L87.5,171.6 L86.9,171.7 L86.2,171.7 L85.5,171.7 L84.8,171.6 L84,171.4 L83.2,171.2 L82.4,170.9 L81.6,170.5 L80.9,170.1 L80.2,169.6 L79.5,169 L78.9,168.4 L78.3,167.7 L77.8,167 L77.4,166.2 L77.1,165.4 L76.8,164.6 L76.7,163.8 L76.6,162.9Z" fill="#e3e0ea"/><path d="M76.7,174.2 L76.8,174.7 L76.9,175.2 L77.2,175.8 L77.5,176.3 L77.9,176.8 L78.4,177.2 L79,177.7 L79.6,178.1 L80.2,178.5 L81,178.9 L81.7,179.2 L82.5,179.5 L83.3,179.8 L84.1,180 L84.8,180.3 L85.6,180.4 L86.3,180.6 L87,180.7 L87.6,180.8 L88.2,180.9 L88.6,181 L89,181 L89.4,181 L89.6,181.1 L89.7,181.1 L89.8,181.1 L89.8,183.8 L89.8,184.1 L89.6,184.4 L89.4,184.7 L89.1,185 L88.7,185.2 L88.2,185.4 L87.6,185.6 L87,185.7 L86.4,185.7 L85.6,185.7 L84.9,185.6 L84.1,185.4 L83.3,185.2 L82.5,184.9 L81.8,184.5 L81,184.1 L80.3,183.6 L79.6,183 L79,182.4 L78.4,181.7 L77.9,181 L77.5,180.2 L77.2,179.4 L77,178.6 L76.8,177.8 L76.8,176.9Z" fill="#e3e0ea"/><path d="M76.9,188.2 L76.9,188.7 L77,189.2 L77.3,189.8 L77.6,190.3 L78,190.8 L78.5,191.2 L79.1,191.7 L79.7,192.1 L80.4,192.5 L81.1,192.9 L81.8,193.2 L82.6,193.5 L83.4,193.8 L84.2,194 L85,194.3 L85.7,194.4 L86.4,194.6 L87.1,194.7 L87.7,194.8 L88.3,194.9 L88.8,195 L89.2,195 L89.5,195 L89.7,195.1 L89.9,195.1 L89.9,195.1 L89.9,197.8 L89.9,198.1 L89.7,198.4 L89.5,198.7 L89.2,199 L88.8,199.2 L88.3,199.4 L87.8,199.6 L87.1,199.6 L86.5,199.7 L85.8,199.7 L85,199.6 L84.2,199.4 L83.4,199.2 L82.7,198.9 L81.9,198.5 L81.1,198.1 L80.4,197.6 L79.7,197 L79.1,196.4 L78.5,195.7 L78.1,195 L77.6,194.2 L77.3,193.4 L77.1,192.6 L76.9,191.8 L76.9,190.9Z" fill="#e3e0ea"/><path d="M77,202.2 L77,202.7 L77.2,203.2 L77.4,203.8 L77.7,204.3 L78.1,204.8 L78.6,205.2 L79.2,205.7 L79.8,206.1 L80.5,206.5 L81.2,206.9 L82,207.2 L82.7,207.5 L83.5,207.8 L84.3,208 L85.1,208.3 L85.8,208.4 L86.5,208.6 L87.2,208.7 L87.8,208.8 L88.4,208.9 L88.9,209 L89.3,209 L89.6,209 L89.8,209.1 L90,209.1 L90,209.1 L90,211.8 L90,212.1 L89.9,212.4 L89.6,212.7 L89.3,213 L88.9,213.2 L88.4,213.4 L87.9,213.6 L87.3,213.6 L86.6,213.7 L85.9,213.7 L85.1,213.6 L84.3,213.4 L83.6,213.2 L82.8,212.9 L82,212.5 L81.2,212.1 L80.5,211.6 L79.8,211 L79.2,210.4 L78.7,209.7 L78.2,209 L77.8,208.2 L77.4,207.4 L77.2,206.6 L77,205.8 L77,204.9Z" fill="#e3e0ea"/><path d="M77.1,216.2 L77.1,216.7 L77.3,217.2 L77.5,217.8 L77.8,218.3 L78.3,218.8 L78.7,219.2 L79.3,219.7 L79.9,220.1 L80.6,220.5 L81.3,220.9 L82.1,221.2 L82.8,221.5 L83.6,221.8 L84.4,222 L85.2,222.3 L85.9,222.4 L86.7,222.6 L87.3,222.7 L88,222.8 L88.5,222.9 L89,223 L89.4,223 L89.7,223 L90,223.1 L90.1,223.1 L90.1,223.1 L90.2,225.8 L90.1,226.1 L90,226.4 L89.8,226.7 L89.4,227 L89,227.2 L88.5,227.4 L88,227.6 L87.4,227.6 L86.7,227.7 L86,227.7 L85.2,227.6 L84.5,227.4 L83.7,227.2 L82.9,226.9 L82.1,226.5 L81.4,226.1 L80.6,225.6 L80,225 L79.3,224.4 L78.8,223.7 L78.3,223 L77.9,222.2 L77.6,221.4 L77.3,220.6 L77.2,219.7 L77.1,218.9Z" fill="#e3e0ea"/><path d="M77.2,230.2 L77.3,230.7 L77.4,231.2 L77.6,231.8 L78,232.3 L78.4,232.8 L78.9,233.2 L79.4,233.7 L80,234.1 L80.7,234.5 L81.4,234.9 L82.2,235.2 L83,235.5 L83.7,235.8 L84.5,236 L85.3,236.3 L86.1,236.4 L86.8,236.6 L87.4,236.7 L88.1,236.8 L88.6,236.9 L89.1,237 L89.5,237 L89.8,237 L90.1,237.1 L90.2,237.1 L90.3,237.1 L90.3,239.8 L90.2,240.1 L90.1,240.4 L89.9,240.7 L89.5,241 L89.1,241.2 L88.7,241.4 L88.1,241.6 L87.5,241.6 L86.8,241.7 L86.1,241.7 L85.4,241.6 L84.6,241.4 L83.8,241.2 L83,240.9 L82.2,240.5 L81.5,240.1 L80.8,239.6 L80.1,239 L79.5,238.4 L78.9,237.7 L78.4,237 L78,236.2 L77.7,235.4 L77.4,234.6 L77.3,233.7 L77.2,232.9Z" fill="#e3e0ea"/><path d="M77.3,244.2 L77.4,244.7 L77.5,245.2 L77.8,245.8 L78.1,246.3 L78.5,246.8 L79,247.2 L79.5,247.7 L80.2,248.1 L80.8,248.5 L81.6,248.9 L82.3,249.2 L83.1,249.5 L83.9,249.8 L84.7,250 L85.4,250.3 L86.2,250.4 L86.9,250.6 L87.6,250.7 L88.2,250.8 L88.7,250.9 L89.2,251 L89.6,251 L90,251 L90.2,251.1 L90.3,251.1 L90.4,251.1 L90.4,253.8 L90.4,254.1 L90.2,254.4 L90,254.7 L89.7,255 L89.3,255.2 L88.8,255.4 L88.2,255.6 L87.6,255.6 L86.9,255.7 L86.2,255.7 L85.5,255.6 L84.7,255.4 L83.9,255.2 L83.1,254.9 L82.3,254.5 L81.6,254.1 L80.9,253.6 L80.2,253 L79.6,252.4 L79,251.7 L78.5,251 L78.1,250.2 L77.8,249.4 L77.5,248.6 L77.4,247.7 L77.3,246.9Z" fill="#e3e0ea"/><path d="M77.4,258.2 L77.5,258.7 L77.6,259.3 L77.9,259.8 L78.2,260.3 L78.6,260.8 L79.1,261.2 L79.7,261.7 L80.3,262.1 L81,262.5 L81.7,262.9 L82.5,263.2 L83.3,263.5 L84.1,263.8 L84.8,264.1 L85.6,264.3 L86.4,264.5 L87.1,264.6 L87.8,264.7 L88.4,264.8 L88.9,264.9 L89.4,265 L89.8,265 L90.1,265 L90.3,265.1 L90.4,268.4 L90.1,268.7 L89.8,268.9 L89.4,269.2 L89,269.4 L88.4,269.5 L87.8,269.6 L87.1,269.7 L86.4,269.7 L85.7,269.6 L84.9,269.4 L84.1,269.2 L83.3,268.9 L82.5,268.6 L81.8,268.1 L81,267.6 L80.4,267.1 L79.7,266.4 L79.2,265.7 L78.7,265 L78.2,264.2 L77.9,263.4 L77.7,262.6 L77.5,261.8 L77.5,260.9Z" fill="#e3e0ea"/><path d="M77.9,140.2 L77.4,141.2 L77,142.1 L76.7,143.2 L76.5,144.2 L76.5,145.3 L76.5,149.8 L76.6,149.3 L76.8,148.9 L77,148.4 L77.4,148 L77.9,147.5Z" fill="#b3a4d6"/><path d="M77.9,142.8 L77.4,143.5 L77,144.2" stroke="#d4caea" stroke-width="2.5" fill="none" stroke-linecap="round" opacity="0.8"/><path d="M89.6,152.2 L89.5,151.8 L89.4,151.4 L89.1,151 L88.8,150.6 L88.4,150.3 L87.9,150 L87.3,149.8 L86.7,149.6 L86.1,149.6 L85.3,149.5 L84.6,149.6 L83.8,149.8 L83,150 L82.3,150.3 L81.5,150.7 L80.7,151.2 L80,151.8 L79.4,152.4 L78.7,153.1 L78.2,153.9 L77.7,154.7 L77.3,155.5 L77,156.4 L76.8,157.4 L76.6,158.3 L76.6,159.3 L76.6,163.8 L76.7,163.4 L76.8,163 L77.1,162.5 L77.4,162.1 L77.8,161.7 L78.3,161.3 L78.8,161 L79.4,160.6 L80.1,160.2 L80.8,159.9 L81.6,159.6 L82.3,159.3 L83.1,159 L83.9,158.7 L84.7,158.5 L85.4,158.2 L86.1,158 L86.8,157.8 L87.4,157.7 L88,157.5 L88.4,157.3 L88.8,157.2 L89.2,157.1 L89.4,156.9 L89.5,156.8 L89.6,156.7Z" fill="#b3a4d6"/><path d="M89.1,152.9 L88.8,152.8 L88.4,152.7 L87.9,152.7 L87.4,152.6 L86.7,152.7 L86.1,152.7 L85.4,152.8 L84.6,153 L83.8,153.2 L83.1,153.4 L82.3,153.7 L81.5,154.1 L80.8,154.5 L80.1,154.9 L79.4,155.4 L78.8,155.9 L78.2,156.5 L77.7,157.1 L77.3,157.8 L77,158.4" stroke="#d4caea" stroke-width="2.5" fill="none" stroke-linecap="round" opacity="0.8"/><path d="M89.7,166.2 L89.6,165.8 L89.5,165.4 L89.2,165 L88.9,164.6 L88.5,164.3 L88,164 L87.5,163.8 L86.8,163.6 L86.2,163.6 L85.5,163.5 L84.7,163.6 L83.9,163.8 L83.1,164 L82.4,164.3 L81.6,164.7 L80.9,165.2 L80.1,165.8 L79.5,166.4 L78.9,167.1 L78.3,167.9 L77.8,168.7 L77.4,169.5 L77.1,170.4 L76.9,171.4 L76.8,172.3 L76.7,173.3 L76.8,177.8 L76.8,177.4 L76.9,177 L77.2,176.5 L77.5,176.1 L77.9,175.7 L78.4,175.3 L78.9,175 L79.5,174.6 L80.2,174.2 L80.9,173.9 L81.7,173.6 L82.4,173.3 L83.2,173 L84,172.7 L84.8,172.5 L85.5,172.2 L86.2,172 L86.9,171.8 L87.5,171.7 L88.1,171.5 L88.6,171.3 L89,171.2 L89.3,171.1 L89.5,170.9 L89.7,170.8 L89.7,170.7Z" fill="#b3a4d6"/><path d="M89.3,166.9 L88.9,166.8 L88.5,166.7 L88,166.7 L87.5,166.6 L86.9,166.7 L86.2,166.7 L85.5,166.8 L84.7,167 L84,167.2 L83.2,167.4 L82.4,167.7 L81.6,168.1 L80.9,168.5 L80.2,168.9 L79.5,169.4 L78.9,169.9 L78.3,170.5 L77.9,171.1 L77.5,171.8 L77.1,172.4" stroke="#d4caea" stroke-width="2.5" fill="none" stroke-linecap="round" opacity="0.8"/><path d="M89.8,180.2 L89.7,179.8 L89.6,179.4 L89.4,179 L89,178.6 L88.6,178.3 L88.1,178 L87.6,177.8 L87,177.6 L86.3,177.6 L85.6,177.5 L84.8,177.6 L84,177.8 L83.3,178 L82.5,178.3 L81.7,178.7 L81,179.2 L80.3,179.8 L79.6,180.4 L79,181.1 L78.4,181.9 L78,182.7 L77.6,183.5 L77.2,184.4 L77,185.4 L76.9,186.3 L76.8,187.3 L76.9,191.8 L76.9,191.4 L77.1,191 L77.3,190.5 L77.6,190.1 L78,189.7 L78.5,189.3 L79,189 L79.7,188.6 L80.3,188.2 L81,187.9 L81.8,187.6 L82.6,187.3 L83.3,187 L84.1,186.7 L84.9,186.5 L85.6,186.2 L86.4,186 L87,185.8 L87.6,185.7 L88.2,185.5 L88.7,185.3 L89.1,185.2 L89.4,185.1 L89.6,184.9 L89.8,184.8 L89.8,184.7Z" fill="#b3a4d6"/><path d="M89.4,180.9 L89,180.8 L88.6,180.7 L88.2,180.7 L87.6,180.6 L87,180.7 L86.3,180.7 L85.6,180.8 L84.8,181 L84.1,181.2 L83.3,181.4 L82.5,181.7 L81.7,182.1 L81,182.5 L80.3,182.9 L79.6,183.4 L79,183.9 L78.5,184.5 L78,185.1 L77.6,185.8 L77.3,186.4" stroke="#d4caea" stroke-width="2.5" fill="none" stroke-linecap="round" opacity="0.8"/><path d="M89.9,194.2 L89.9,193.8 L89.7,193.4 L89.5,193 L89.1,192.6 L88.7,192.3 L88.2,192 L87.7,191.8 L87.1,191.6 L86.4,191.5 L85.7,191.5 L84.9,191.6 L84.2,191.8 L83.4,192 L82.6,192.3 L81.8,192.7 L81.1,193.2 L80.4,193.8 L79.7,194.4 L79.1,195.1 L78.5,195.9 L78.1,196.7 L77.7,197.5 L77.4,198.4 L77.1,199.4 L77,200.3 L77,201.3 L77,205.8 L77,205.4 L77.2,205 L77.4,204.5 L77.7,204.1 L78.1,203.7 L78.6,203.3 L79.2,203 L79.8,202.6 L80.4,202.2 L81.2,201.9 L81.9,201.6 L82.7,201.3 L83.5,201 L84.2,200.7 L85,200.5 L85.8,200.2 L86.5,200 L87.1,199.8 L87.8,199.7 L88.3,199.5 L88.8,199.3 L89.2,199.2 L89.5,199.1 L89.8,198.9 L89.9,198.8 L89.9,198.7Z" fill="#b3a4d6"/><path d="M89.5,194.9 L89.2,194.8 L88.8,194.7 L88.3,194.7 L87.7,194.6 L87.1,194.7 L86.4,194.7 L85.7,194.8 L85,195 L84.2,195.2 L83.4,195.4 L82.6,195.7 L81.9,196.1 L81.1,196.5 L80.4,196.9 L79.7,197.4 L79.1,197.9 L78.6,198.5 L78.1,199.1 L77.7,199.8 L77.4,200.4" stroke="#d4caea" stroke-width="2.5" fill="none" stroke-linecap="round" opacity="0.8"/><path d="M90,208.2 L90,207.8 L89.8,207.4 L89.6,207 L89.3,206.6 L88.9,206.3 L88.4,206 L87.8,205.8 L87.2,205.6 L86.5,205.5 L85.8,205.5 L85.1,205.6 L84.3,205.8 L83.5,206 L82.7,206.3 L82,206.7 L81.2,207.2 L80.5,207.8 L79.8,208.4 L79.2,209.1 L78.7,209.9 L78.2,210.7 L77.8,211.5 L77.5,212.4 L77.3,213.4 L77.1,214.3 L77.1,215.3 L77.1,219.8 L77.2,219.4 L77.3,219 L77.5,218.5 L77.8,218.1 L78.2,217.7 L78.7,217.3 L79.3,217 L79.9,216.6 L80.6,216.2 L81.3,215.9 L82,215.6 L82.8,215.3 L83.6,215 L84.4,214.7 L85.1,214.5 L85.9,214.2 L86.6,214 L87.3,213.8 L87.9,213.7 L88.4,213.5 L88.9,213.3 L89.3,213.2 L89.6,213.1 L89.9,212.9 L90,212.8 L90.1,212.7Z" fill="#b3a4d6"/><path d="M89.6,208.9 L89.3,208.8 L88.9,208.7 L88.4,208.7 L87.8,208.6 L87.2,208.7 L86.5,208.7 L85.8,208.8 L85.1,209 L84.3,209.2 L83.5,209.4 L82.7,209.7 L82,210.1 L81.2,210.5 L80.5,210.9 L79.9,211.4 L79.2,211.9 L78.7,212.5 L78.2,213.1 L77.8,213.8 L77.5,214.4" stroke="#d4caea" stroke-width="2.5" fill="none" stroke-linecap="round" opacity="0.8"/><path d="M90.1,222.2 L90.1,221.8 L89.9,221.4 L89.7,221 L89.4,220.6 L89,220.3 L88.5,220 L87.9,219.8 L87.3,219.6 L86.6,219.5 L85.9,219.5 L85.2,219.6 L84.4,219.8 L83.6,220 L82.8,220.3 L82.1,220.7 L81.3,221.2 L80.6,221.8 L79.9,222.4 L79.3,223.1 L78.8,223.9 L78.3,224.7 L77.9,225.5 L77.6,226.4 L77.4,227.4 L77.2,228.3 L77.2,229.3 L77.2,233.8 L77.3,233.4 L77.4,233 L77.6,232.5 L78,232.1 L78.4,231.7 L78.8,231.3 L79.4,231 L80,230.6 L80.7,230.2 L81.4,229.9 L82.1,229.6 L82.9,229.3 L83.7,229 L84.5,228.7 L85.2,228.5 L86,228.2 L86.7,228 L87.4,227.8 L88,227.7 L88.5,227.5 L89,227.3 L89.4,227.2 L89.8,227.1 L90,226.9 L90.1,226.8 L90.2,226.7Z" fill="#b3a4d6"/><path d="M89.7,222.9 L89.4,222.8 L89,222.7 L88.5,222.7 L87.9,222.6 L87.3,222.7 L86.7,222.7 L85.9,222.8 L85.2,223 L84.4,223.2 L83.6,223.4 L82.9,223.7 L82.1,224.1 L81.3,224.5 L80.6,224.9 L80,225.4 L79.4,225.9 L78.8,226.5 L78.3,227.1 L77.9,227.8 L77.6,228.4" stroke="#d4caea" stroke-width="2.5" fill="none" stroke-linecap="round" opacity="0.8"/><path d="M90.3,236.2 L90.2,235.8 L90.1,235.4 L89.8,235 L89.5,234.6 L89.1,234.3 L88.6,234 L88,233.8 L87.4,233.6 L86.8,233.5 L86,233.5 L85.3,233.6 L84.5,233.8 L83.7,234 L83,234.3 L82.2,234.7 L81.4,235.2 L80.7,235.8 L80.1,236.4 L79.4,237.1 L78.9,237.9 L78.4,238.7 L78,239.5 L77.7,240.4 L77.5,241.4 L77.3,242.3 L77.3,243.3 L77.3,247.8 L77.4,247.4 L77.5,247 L77.8,246.5 L78.1,246.1 L78.5,245.7 L79,245.3 L79.5,245 L80.1,244.6 L80.8,244.2 L81.5,243.9 L82.3,243.6 L83,243.3 L83.8,243 L84.6,242.7 L85.4,242.5 L86.1,242.2 L86.8,242 L87.5,241.8 L88.1,241.7 L88.7,241.5 L89.1,241.3 L89.5,241.2 L89.9,241.1 L90.1,240.9 L90.2,240.8 L90.3,240.7Z" fill="#b3a4d6"/><path d="M89.8,236.9 L89.5,236.8 L89.1,236.7 L88.6,236.7 L88.1,236.6 L87.4,236.7 L86.8,236.7 L86.1,236.8 L85.3,237 L84.5,237.2 L83.8,237.4 L83,237.7 L82.2,238.1 L81.5,238.5 L80.8,238.9 L80.1,239.4 L79.5,239.9 L78.9,240.5 L78.4,241.1 L78,241.8 L77.7,242.4" stroke="#d4caea" stroke-width="2.5" fill="none" stroke-linecap="round" opacity="0.8"/><path d="M90.4,250.2 L90.3,249.8 L90.2,249.4 L89.9,249 L89.6,248.6 L89.2,248.3 L88.7,248 L88.2,247.8 L87.5,247.6 L86.9,247.5 L86.2,247.5 L85.4,247.6 L84.6,247.8 L83.8,248 L83.1,248.3 L82.3,248.7 L81.6,249.2 L80.8,249.8 L80.2,250.4 L79.6,251.1 L79,251.9 L78.5,252.7 L78.1,253.5 L77.8,254.4 L77.6,255.4 L77.5,256.3 L77.4,257.3 L77.5,261.8 L77.5,261.4 L77.6,261 L77.9,260.5 L78.2,260.1 L78.6,259.7 L79.1,259.3 L79.6,259 L80.2,258.6 L80.9,258.2 L81.6,257.9 L82.4,257.6 L83.1,257.3 L83.9,257 L84.7,256.7 L85.5,256.5 L86.2,256.2 L86.9,256 L87.6,255.8 L88.2,255.7 L88.8,255.5 L89.3,255.3 L89.7,255.2 L90,255.1 L90.2,254.9 L90.4,254.8 L90.4,254.7Z" fill="#b3a4d6"/><path d="M90,250.9 L89.6,250.8 L89.2,250.7 L88.7,250.7 L88.2,250.6 L87.6,250.7 L86.9,250.7 L86.2,250.8 L85.4,251 L84.7,251.2 L83.9,251.4 L83.1,251.7 L82.3,252.1 L81.6,252.5 L80.9,252.9 L80.2,253.4 L79.6,253.9 L79,254.5 L78.6,255.1 L78.2,255.8 L77.8,256.4" stroke="#d4caea" stroke-width="2.5" fill="none" stroke-linecap="round" opacity="0.8"/>
<path d="M83.4,161.4 L83.9,161.8 L84.6,162.2 L85.2,162.5 L86,162.8 L86.8,163.1 L87.7,163.3 L88.6,163.4 L89.5,163.6 L90.5,163.7 L91.4,163.8 L92.4,163.8 L93.4,163.8 L94.3,163.8 L95.2,163.8 L96,163.7 L96.8,163.7 L97.6,163.6 L98.2,163.5 L98.8,163.5 L99.4,163.4 L99.8,163.3 L100.1,163.3 L100.4,163.2 L100.5,163.2 L100.6,163.2 L101.3,166.1 L101.3,166.4 L101.2,166.8 L101.1,167.1 L100.8,167.5 L100.5,167.8 L100,168.1 L99.5,168.5 L98.9,168.8 L98.2,169 L97.4,169.2 L96.6,169.4 L95.7,169.5 L94.8,169.6 L93.9,169.6 L92.9,169.6 L91.9,169.5 L91,169.3 L90,169.1 L89.1,168.7 L88.2,168.4 L87.3,167.9 L86.5,167.4 L85.7,166.9 L85,166.2 L84.4,165.6Z" fill="#e3e0ea"/><path d="M86,175.1 L86.2,175.6 L86.4,176 L86.8,176.5 L87.2,176.9 L87.7,177.3 L88.3,177.7 L89,178 L89.7,178.3 L90.5,178.5 L91.3,178.7 L92.2,178.9 L93.1,179.1 L94,179.2 L94.9,179.3 L95.8,179.3 L96.8,179.3 L97.7,179.3 L98.5,179.3 L99.4,179.3 L100.2,179.3 L100.9,179.2 L101.6,179.1 L102.3,179 L102.8,179 L103.3,178.9 L103.7,178.8 L104,178.8 L104.3,178.7 L104.4,178.7 L104.4,178.7 L105.2,181.6 L105.2,181.9 L105.1,182.3 L105,182.6 L104.7,182.9 L104.4,183.3 L104,183.6 L103.5,183.9 L102.9,184.2 L102.3,184.5 L101.6,184.7 L100.8,184.9 L100,185 L99.1,185.1 L98.2,185.1 L97.3,185.1 L96.3,185.1 L95.4,184.9 L94.5,184.7 L93.6,184.5 L92.7,184.2 L91.8,183.8 L91,183.3 L90.2,182.8 L89.5,182.3 L88.8,181.7 L88.2,181 L87.7,180.3 L87.3,179.6 L87,178.8 L86.7,178Z" fill="#e3e0ea"/><path d="M89.9,190.6 L90.1,191.1 L90.3,191.6 L90.7,192.1 L91.2,192.5 L91.7,192.9 L92.3,193.2 L93,193.6 L93.8,193.9 L94.6,194.1 L95.5,194.3 L96.4,194.5 L97.3,194.6 L98.3,194.7 L99.2,194.8 L100.2,194.9 L101.1,194.9 L102.1,194.9 L103,194.8 L103.8,194.8 L104.6,194.7 L105.3,194.7 L106,194.6 L106.6,194.5 L107.1,194.4 L107.5,194.4 L107.9,194.3 L108.1,194.3 L108.3,194.2 L108.3,194.2 L109,197.1 L109.1,197.5 L109,197.8 L108.8,198.1 L108.6,198.5 L108.2,198.8 L107.8,199.2 L107.2,199.5 L106.6,199.8 L105.9,200.1 L105.2,200.3 L104.4,200.5 L103.5,200.6 L102.6,200.7 L101.6,200.7 L100.7,200.6 L99.7,200.5 L98.7,200.3 L97.8,200.1 L96.8,199.8 L95.9,199.4 L95.1,199 L94.3,198.5 L93.5,197.9 L92.8,197.3 L92.2,196.6 L91.7,195.9 L91.2,195.1 L90.9,194.3 L90.6,193.5Z" fill="#e3e0ea"/><path d="M93.8,206.1 L93.9,206.6 L94.2,207.1 L94.6,207.6 L95.1,208 L95.6,208.4 L96.2,208.8 L96.9,209.1 L97.7,209.4 L98.5,209.6 L99.4,209.8 L100.3,210 L101.2,210.2 L102.1,210.3 L103.1,210.3 L104.1,210.4 L105,210.4 L105.9,210.4 L106.8,210.4 L107.7,210.3 L108.5,210.3 L109.2,210.2 L109.9,210.1 L110.5,210 L111,210 L111.4,209.9 L111.8,209.8 L112,209.8 L112.1,209.8 L112.2,209.8 L112.9,212.7 L113,213 L112.9,213.3 L112.7,213.7 L112.5,214 L112.1,214.4 L111.7,214.7 L111.1,215 L110.5,215.3 L109.8,215.6 L109.1,215.8 L108.2,216 L107.4,216.1 L106.5,216.2 L105.5,216.2 L104.6,216.1 L103.6,216 L102.6,215.9 L101.7,215.6 L100.7,215.3 L99.8,214.9 L99,214.5 L98.1,214 L97.4,213.4 L96.7,212.8 L96.1,212.1 L95.6,211.4 L95.1,210.7 L94.8,209.9 L94.5,209Z" fill="#e3e0ea"/><path d="M100.3,162.2 L100.2,161.8 L99.9,161.5 L99.6,161.1 L99.2,160.9 L98.7,160.6 L98.2,160.5 L97.6,160.3 L96.9,160.3 L96.2,160.3 L95.5,160.4 L94.7,160.5 L93.9,160.7 L93.1,161 L92.3,161.4 L91.5,161.9 L90.7,162.4 L89.9,162.9 L89.2,163.6 L88.5,164.3 L87.9,165 L87.3,165.8 L86.8,166.7 L86.4,167.5 L86,168.4 L85.8,169.4 L85.6,170.3 L85.5,171.3 L85.5,172.2 L85.6,173.2 L85.8,174.1 L87,178.9 L86.9,178.5 L87,178.1 L87.1,177.6 L87.3,177.1 L87.6,176.7 L87.9,176.1 L88.4,175.6 L88.9,175.1 L89.5,174.6 L90.1,174.1 L90.8,173.6 L91.6,173 L92.3,172.5 L93.1,172 L93.9,171.6 L94.7,171.1 L95.5,170.6 L96.3,170.2 L97,169.8 L97.7,169.4 L98.4,169.1 L99,168.7 L99.6,168.4 L100.1,168.2 L100.6,167.9 L100.9,167.7 L101.2,167.5 L101.4,167.3 L101.5,167.2 L101.5,167.1Z" fill="#b3a4d6"/><path d="M99.8,163.1 L99.4,163.1 L98.9,163.1 L98.3,163.2 L97.7,163.3 L97,163.5 L96.3,163.7 L95.6,164 L94.8,164.3 L94,164.7 L93.2,165.1 L92.4,165.5 L91.6,166 L90.8,166.6 L90.1,167.1 L89.4,167.7 L88.7,168.4 L88.1,169 L87.6,169.7 L87.1,170.4 L86.7,171.1 L86.4,171.8 L86.1,172.6" stroke="#d4caea" stroke-width="2.8" fill="none" stroke-linecap="round" opacity="0.8"/><path d="M104.2,177.7 L104.1,177.3 L103.8,177 L103.5,176.7 L103.1,176.4 L102.6,176.2 L102.1,176 L101.5,175.9 L100.8,175.8 L100.1,175.8 L99.4,175.9 L98.6,176 L97.8,176.3 L97,176.6 L96.1,176.9 L95.3,177.4 L94.6,177.9 L93.8,178.5 L93.1,179.1 L92.4,179.8 L91.8,180.5 L91.2,181.3 L90.7,182.2 L90.3,183.1 L89.9,184 L89.6,184.9 L89.5,185.8 L89.4,186.8 L89.4,187.7 L89.5,188.7 L89.6,189.6 L90.9,194.5 L90.8,194 L90.8,193.6 L91,193.1 L91.2,192.7 L91.5,192.2 L91.8,191.7 L92.3,191.2 L92.8,190.6 L93.4,190.1 L94,189.6 L94.7,189.1 L95.4,188.6 L96.2,188.1 L97,187.6 L97.8,187.1 L98.6,186.6 L99.4,186.2 L100.1,185.7 L100.9,185.3 L101.6,184.9 L102.3,184.6 L102.9,184.3 L103.5,184 L104,183.7 L104.4,183.4 L104.8,183.2 L105.1,183 L105.3,182.8 L105.4,182.7 L105.4,182.6Z" fill="#b3a4d6"/><path d="M103.7,178.6 L103.2,178.6 L102.8,178.7 L102.2,178.7 L101.6,178.9 L100.9,179 L100.2,179.3 L99.4,179.5 L98.7,179.8 L97.9,180.2 L97.1,180.6 L96.3,181.1 L95.5,181.6 L94.7,182.1 L94,182.7 L93.3,183.3 L92.6,183.9 L92,184.6 L91.4,185.2 L91,185.9 L90.6,186.7 L90.3,187.4 L90,188.1" stroke="#d4caea" stroke-width="2.8" fill="none" stroke-linecap="round" opacity="0.8"/><path d="M108.1,193.3 L107.9,192.9 L107.7,192.5 L107.4,192.2 L107,191.9 L106.5,191.7 L106,191.5 L105.4,191.4 L104.7,191.3 L104,191.3 L103.2,191.4 L102.5,191.6 L101.7,191.8 L100.8,192.1 L100,192.5 L99.2,192.9 L98.4,193.4 L97.7,194 L96.9,194.6 L96.3,195.3 L95.6,196.1 L95.1,196.9 L94.6,197.7 L94.1,198.6 L93.8,199.5 L93.5,200.4 L93.3,201.4 L93.2,202.3 L93.2,203.3 L93.3,204.2 L93.5,205.1 L94.7,210 L94.7,209.6 L94.7,209.1 L94.8,208.7 L95,208.2 L95.3,207.7 L95.7,207.2 L96.2,206.7 L96.7,206.2 L97.3,205.6 L97.9,205.1 L98.6,204.6 L99.3,204.1 L100.1,203.6 L100.9,203.1 L101.6,202.6 L102.4,202.1 L103.2,201.7 L104,201.3 L104.8,200.8 L105.5,200.5 L106.2,200.1 L106.8,199.8 L107.4,199.5 L107.9,199.2 L108.3,199 L108.7,198.7 L109,198.5 L109.2,198.4 L109.3,198.2 L109.3,198.1Z" fill="#b3a4d6"/><path d="M107.5,194.2 L107.1,194.1 L106.6,194.2 L106.1,194.3 L105.5,194.4 L104.8,194.6 L104.1,194.8 L103.3,195 L102.5,195.4 L101.8,195.7 L100.9,196.1 L100.1,196.6 L99.4,197.1 L98.6,197.6 L97.8,198.2 L97.1,198.8 L96.5,199.4 L95.9,200.1 L95.3,200.8 L94.9,201.5 L94.5,202.2 L94.1,202.9 L93.9,203.6" stroke="#d4caea" stroke-width="2.8" fill="none" stroke-linecap="round" opacity="0.8"/><path d="M112,208.8 L111.8,208.4 L111.5,208 L111.2,207.7 L110.8,207.4 L110.2,207.1 L109.6,207 L109,206.9 L108.3,206.8 L107.5,206.9 L106.7,207 L109,216.2 L109.7,215.8 L110.4,215.4 L111,215.1 L111.6,214.8 L112.1,214.5 L112.5,214.3 L112.8,214.1 L113,213.9 L113.1,213.8 L113.2,213.6Z" fill="#b3a4d6"/><path d="M111.3,209.7 L110.9,209.7 L110.3,209.7 L109.7,209.8 L109,210 L108.3,210.2 L107.5,210.4" stroke="#d4caea" stroke-width="2.8" fill="none" stroke-linecap="round" opacity="0.8"/>
<path d="M81.7,226.5 L81.8,227.1 L82,227.6 L82.3,228.1 L82.7,228.6 L83.2,229 L83.8,229.4 L84.5,229.8 L85.2,230.2 L86,230.6 L86.9,230.9 L87.8,231.2 L88.7,231.5 L89.7,231.7 L90.7,231.9 L91.6,232.1 L92.6,232.2 L93.5,232.3 L94.4,232.4 L95.2,232.5 L96,232.6 L96.7,232.6 L97.4,232.6 L97.9,232.6 L98.4,232.6 L98.8,232.6 L99,232.6 L99.2,232.6 L99.2,232.6 L99.5,235.4 L99.5,235.8 L99.3,236.1 L99.1,236.4 L98.7,236.7 L98.3,237 L97.8,237.2 L97.2,237.4 L96.5,237.6 L95.7,237.7 L94.9,237.8 L94,237.9 L93,237.8 L92.1,237.7 L91.1,237.6 L90.2,237.4 L89.2,237.1 L88.2,236.7 L87.3,236.3 L86.4,235.8 L85.6,235.3 L84.9,234.7 L84.2,234.1 L83.6,233.4 L83,232.6 L82.6,231.9 L82.3,231.1 L82,230.2 L81.9,229.4Z" fill="#e3e0ea"/><path d="M82.9,241.5 L83,242 L83.2,242.5 L83.5,243 L83.9,243.5 L84.4,244 L85,244.4 L85.7,244.8 L86.4,245.2 L87.3,245.5 L88.1,245.9 L89,246.1 L90,246.4 L90.9,246.6 L91.9,246.8 L92.9,247 L93.8,247.2 L94.8,247.3 L95.6,247.4 L96.5,247.4 L97.3,247.5 L98,247.5 L98.6,247.6 L99.2,247.6 L99.6,247.6 L100,247.6 L100.3,247.6 L100.4,247.6 L100.5,247.6 L100.7,250.4 L100.7,250.7 L100.6,251 L100.3,251.3 L100,251.6 L99.5,251.9 L99,252.2 L98.4,252.4 L97.7,252.6 L96.9,252.7 L96.1,252.8 L95.2,252.8 L94.3,252.8 L93.3,252.7 L92.4,252.5 L91.4,252.3 L90.4,252 L89.5,251.7 L88.6,251.3 L87.7,250.8 L86.9,250.2 L86.1,249.6 L85.4,249 L84.8,248.3 L84.3,247.6 L83.8,246.8 L83.5,246 L83.3,245.2 L83.2,244.3Z" fill="#e3e0ea"/><path d="M84.2,256.4 L84.3,257 L84.5,257.5 L84.8,258 L85.2,258.4 L85.7,258.9 L86.3,259.3 L86.9,259.7 L87.7,260.1 L88.5,260.5 L89.4,260.8 L90.3,261.1 L91.2,261.4 L92.2,261.6 L93.1,261.8 L94.1,262 L95.1,262.1 L96,262.2 L96.9,262.3 L97.7,262.4 L98.5,262.4 L99.2,262.5 L99.9,262.5 L100.4,262.5 L100.9,262.5 L101.3,262.5 L101.5,262.5 L101.7,262.5 L101.7,262.5 L102,265.3 L101.9,265.7 L101.8,266 L101.6,266.3 L101.2,266.6 L100.8,266.9 L100.3,267.1 L99.6,267.3 L98.9,267.5 L98.2,267.6 L97.3,267.7 L96.5,267.8 L95.5,267.7 L94.6,267.6 L93.6,267.5 L92.6,267.3 L91.7,267 L90.7,266.6 L89.8,266.2 L88.9,265.7 L88.1,265.2 L87.4,264.6 L86.7,263.9 L86,263.3 L85.5,262.5 L85.1,261.7 L84.8,260.9 L84.5,260.1 L84.4,259.3Z" fill="#e3e0ea"/><path d="M87.6,215.8 L86.7,216.3 L85.9,216.9 L85.1,217.6 L84.3,218.3 L83.6,219.1 L83.1,219.9 L82.6,220.8 L82.2,221.7 L81.9,222.7 L81.7,223.7 L81.6,224.6 L81.6,225.6 L82,230.3 L82,229.9 L82.1,229.5 L82.4,229 L82.7,228.6 L83.2,228.1 L83.7,227.7 L84.3,227.2 L85,226.8 L85.8,226.4 L86.6,226 L87.5,225.6 L88.4,225.2Z" fill="#b3a4d6"/><path d="M87.9,219.3 L87,219.8 L86.1,220.3 L85.3,220.8 L84.6,221.4 L83.9,222 L83.3,222.7 L82.8,223.3 L82.3,224" stroke="#d4caea" stroke-width="2.7" fill="none" stroke-linecap="round" opacity="0.8"/><path d="M99.2,231.7 L99.1,231.3 L98.9,230.9 L98.6,230.5 L98.2,230.2 L97.7,229.9 L97.1,229.6 L96.5,229.4 L95.8,229.3 L95,229.2 L94.1,229.2 L93.3,229.3 L92.4,229.5 L91.4,229.7 L90.5,230 L89.6,230.4 L88.7,230.8 L87.8,231.4 L87,232 L86.2,232.6 L85.5,233.4 L84.8,234.2 L84.2,235 L83.8,235.9 L83.4,236.8 L83.1,237.7 L82.9,238.6 L82.8,239.6 L82.8,240.5 L83.2,245.3 L83.3,244.9 L83.4,244.4 L83.6,244 L83.9,243.5 L84.4,243.1 L84.9,242.7 L85.5,242.2 L86.2,241.8 L86.9,241.4 L87.7,241 L88.6,240.6 L89.5,240.2 L90.4,239.8 L91.3,239.5 L92.2,239.1 L93.1,238.8 L94,238.5 L94.9,238.2 L95.7,238 L96.5,237.7 L97.2,237.5 L97.8,237.3 L98.3,237.1 L98.8,236.9 L99.1,236.8 L99.4,236.6 L99.5,236.5 L99.6,236.4Z" fill="#b3a4d6"/><path d="M98.4,232.4 L97.9,232.3 L97.4,232.3 L96.7,232.3 L96,232.4 L95.2,232.5 L94.4,232.6 L93.5,232.8 L92.6,233 L91.7,233.3 L90.8,233.6 L89.9,234 L89,234.4 L88.1,234.8 L87.2,235.3 L86.5,235.9 L85.7,236.5 L85.1,237.1 L84.5,237.7 L84,238.3 L83.6,239" stroke="#d4caea" stroke-width="2.7" fill="none" stroke-linecap="round" opacity="0.8"/><path d="M100.4,246.6 L100.3,246.2 L100.1,245.8 L99.8,245.4 L99.4,245.1 L99,244.8 L98.4,244.6 L97.7,244.4 L97,244.2 L96.2,244.2 L95.4,244.2 L94.5,244.3 L93.6,244.4 L92.7,244.6 L91.7,244.9 L90.8,245.3 L89.9,245.8 L89,246.3 L88.2,246.9 L87.4,247.6 L86.7,248.3 L86.1,249.1 L85.5,249.9 L85,250.8 L84.6,251.7 L84.3,252.6 L84.1,253.6 L84.1,254.5 L84.1,255.5 L84.5,260.2 L84.5,259.8 L84.6,259.4 L84.9,258.9 L85.2,258.5 L85.6,258.1 L86.1,257.6 L86.7,257.2 L87.4,256.8 L88.2,256.3 L89,255.9 L89.8,255.5 L90.7,255.1 L91.6,254.8 L92.5,254.4 L93.5,254.1 L94.4,253.8 L95.3,253.5 L96.1,253.2 L96.9,252.9 L97.7,252.7 L98.4,252.5 L99,252.2 L99.6,252.1 L100,251.9 L100.4,251.7 L100.6,251.6 L100.8,251.5 L100.8,251.3Z" fill="#b3a4d6"/><path d="M99.6,247.4 L99.2,247.3 L98.6,247.3 L98,247.3 L97.3,247.3 L96.5,247.4 L95.7,247.5 L94.8,247.7 L93.9,248 L93,248.2 L92,248.5 L91.1,248.9 L90.2,249.3 L89.3,249.8 L88.5,250.3 L87.7,250.8 L87,251.4 L86.3,252 L85.7,252.6 L85.2,253.3 L84.8,254" stroke="#d4caea" stroke-width="2.7" fill="none" stroke-linecap="round" opacity="0.8"/><path d="M101.7,261.6 L101.6,261.1 L101.4,260.7 L101.1,260.4 L100.6,260 L100.1,259.7 L99.5,259.5 L98.9,259.3 L98.1,259.2 L97.3,259.1 L96.4,259.1 L95.5,259.2 L94.6,259.4 L93.7,259.7 L92.7,260 L91.8,260.4 L90.8,260.9 L90,261.5 L89.1,262.1 L88.4,262.8 L87.7,263.6 L87,264.4 L86.5,265.3 L86,266.2 L85.7,267.2 L85.5,268.1 L85.3,269.1 L85.3,270.1 L85.7,275 L85.8,274.6 L86,274.1 L86.2,273.7 L86.6,273.2 L87.1,272.8 L87.7,272.3 L88.3,271.9 L89.1,271.5 L89.9,271 L90.7,270.6 L91.6,270.2 L92.5,269.8 L93.5,269.5 L94.4,269.1 L95.4,268.8 L96.3,268.5 L97.2,268.2 L98,267.9 L98.8,267.7 L99.5,267.4 L100.2,267.2 L100.8,267 L101.2,266.9 L101.6,266.7 L101.9,266.5 L102,266.4 L102.1,266.3Z" fill="#b3a4d6"/><path d="M100.8,262.3 L100.4,262.2 L99.8,262.2 L99.1,262.2 L98.4,262.3 L97.6,262.4 L96.7,262.5 L95.8,262.7 L94.9,263 L93.9,263.3 L93,263.6 L92.1,264 L91.1,264.4 L90.3,264.9 L89.4,265.5 L88.6,266 L87.9,266.6 L87.3,267.3 L86.7,267.9 L86.2,268.6 L85.9,269.3" stroke="#d4caea" stroke-width="2.7" fill="none" stroke-linecap="round" opacity="0.8"/>
<path d="M80,236 C84,228 90,225 98,226" stroke="#b3a4d6" stroke-width="6" fill="none"/>
<path d="M133,225.7 L133,226.2 L133.2,226.7 L133.4,227.1 L133.7,227.6 L134.1,228 L134.6,228.5 L135.1,228.9 L135.7,229.3 L136.4,229.7 L137.1,230.1 L137.8,230.4 L138.6,230.8 L139.4,231.1 L140.3,231.4 L141.1,231.6 L142,231.9 L142.8,232.1 L143.6,232.3 L144.4,232.4 L145.1,232.6 L145.8,232.7 L146.5,232.8 L147.1,232.9 L147.6,233 L148.1,233.1 L148.5,233.2 L148.8,233.2 L149,233.3 L149.1,233.3 L149.1,233.4 L149.2,237.2 L149.2,237.6 L149.1,237.9 L148.9,238.2 L148.6,238.6 L148.2,238.9 L147.7,239.1 L147.2,239.3 L146.6,239.5 L146,239.7 L145.3,239.8 L144.5,239.8 L143.7,239.8 L142.9,239.7 L142.1,239.5 L141.3,239.3 L140.4,239 L139.6,238.7 L138.8,238.3 L138,237.8 L137.2,237.2 L136.5,236.7 L135.8,236 L135.2,235.3 L134.7,234.6 L134.2,233.8 L133.8,233 L133.5,232.2 L133.3,231.3 L133.1,230.4 L133.1,229.5Z" fill="#e3e0ea"/><path d="M133.3,241.7 L133.4,242.2 L133.5,242.7 L133.7,243.1 L134,243.6 L134.4,244 L134.9,244.5 L135.4,244.9 L136,245.3 L136.7,245.7 L137.4,246.1 L138.2,246.4 L138.9,246.8 L139.8,247.1 L140.6,247.3 L141.4,247.6 L142.3,247.8 L143.1,248.1 L143.9,248.3 L144.7,248.4 L145.5,248.6 L146.2,248.7 L146.8,248.8 L147.4,248.9 L147.9,249 L148.4,249.1 L148.8,249.2 L149.1,249.2 L149.3,249.3 L149.4,249.3 L149.5,249.4 L149.5,253.2 L149.5,253.6 L149.4,253.9 L149.2,254.2 L148.9,254.6 L148.5,254.9 L148.1,255.1 L147.5,255.3 L146.9,255.5 L146.3,255.7 L145.6,255.7 L144.9,255.8 L144.1,255.7 L143.3,255.7 L142.4,255.5 L141.6,255.3 L140.7,255 L139.9,254.7 L139.1,254.2 L138.3,253.8 L137.5,253.2 L136.8,252.7 L136.2,252 L135.6,251.3 L135,250.6 L134.5,249.8 L134.1,249 L133.8,248.2 L133.6,247.3 L133.5,246.4 L133.4,245.5Z" fill="#e3e0ea"/><path d="M133.6,257.7 L133.7,258.2 L133.8,258.7 L134.1,259.2 L134.4,259.6 L134.8,260.1 L135.3,260.6 L135.9,261 L136.5,261.4 L137.2,261.8 L138,262.2 L138.8,262.6 L139.6,262.9 L140.4,263.2 L141.3,263.5 L142.2,263.7 L143.1,264 L143.9,264.2 L144.7,264.4 L145.5,264.5 L146.3,264.7 L147,264.8 L147.6,264.9 L148.2,265 L148.6,265.1 L149,265.2 L149.4,265.2 L149.6,265.3 L149.7,265.3 L149.8,265.4 L149.9,269.2 L149.8,269.6 L149.7,269.9 L149.5,270.3 L149.2,270.6 L148.8,270.9 L148.3,271.2 L147.7,271.4 L147.1,271.6 L146.4,271.7 L145.7,271.8 L144.9,271.8 L144.1,271.7 L143.2,271.6 L142.3,271.4 L141.5,271.1 L140.6,270.8 L139.7,270.4 L138.9,270 L138.1,269.4 L137.4,268.8 L136.7,268.2 L136,267.5 L135.4,266.7 L134.9,265.9 L134.5,265.1 L134.2,264.2 L133.9,263.3 L133.8,262.4 L133.7,261.5Z" fill="#e3e0ea"/><path d="M134,273.7 L134,274 L134.1,274.4 L134.2,274.7 L134.3,279.4 L134.1,278.8 L134.1,278.1 L134,277.5Z" fill="#e3e0ea"/><path d="M134.2,220.3 L133.7,221.2 L133.4,222.2 L133.1,223.2 L133,224.2 L133,225.2 L133.1,230 L133.1,229.5 L133.3,229.1 L133.5,228.6 L133.9,228.1 L134.3,227.7Z" fill="#b3a4d6"/><path d="M134.2,222.8 L133.8,223.5" stroke="#d4caea" stroke-width="2.7" fill="none" stroke-linecap="round" opacity="0.8"/><path d="M149.1,232.9 L149.1,232.5 L148.9,232.1 L148.7,231.7 L148.4,231.4 L148,231 L147.6,230.8 L147,230.5 L146.4,230.3 L145.8,230.2 L145.1,230.1 L144.3,230.1 L143.6,230.1 L142.7,230.2 L141.9,230.4 L141.1,230.7 L140.3,231 L139.4,231.4 L138.6,231.8 L137.9,232.3 L137.1,232.9 L136.4,233.6 L135.8,234.3 L135.2,235 L134.7,235.8 L134.3,236.7 L133.9,237.5 L133.6,238.4 L133.4,239.3 L133.3,240.3 L133.3,241.2 L133.4,246 L133.4,245.6 L133.6,245.1 L133.8,244.7 L134.1,244.3 L134.4,243.9 L134.9,243.4 L135.4,243 L136,242.6 L136.6,242.2 L137.3,241.9 L138.1,241.5 L138.8,241.2 L139.6,240.9 L140.5,240.5 L141.3,240.3 L142.1,240 L142.9,239.7 L143.7,239.5 L144.5,239.3 L145.3,239.1 L146,238.9 L146.6,238.7 L147.2,238.5 L147.7,238.4 L148.2,238.2 L148.6,238.1 L148.9,238 L149.1,237.9 L149.2,237.8 L149.2,237.7Z" fill="#b3a4d6"/><path d="M148.5,233.6 L148.1,233.5 L147.6,233.4 L147.1,233.4 L146.5,233.4 L145.9,233.4 L145.1,233.4 L144.4,233.5 L143.6,233.6 L142.8,233.8 L142,234 L141.2,234.3 L140.3,234.6 L139.5,235 L138.7,235.3 L137.9,235.8 L137.2,236.2 L136.5,236.8 L135.9,237.3 L135.3,237.9 L134.8,238.5 L134.3,239.1 L134,239.8" stroke="#d4caea" stroke-width="2.7" fill="none" stroke-linecap="round" opacity="0.8"/><path d="M149.5,248.9 L149.4,248.5 L149.3,248.1 L149,247.7 L148.7,247.4 L148.4,247 L147.9,246.8 L147.4,246.5 L146.8,246.3 L146.1,246.2 L145.4,246.1 L144.7,246.1 L143.9,246.1 L143.1,246.2 L142.2,246.4 L141.4,246.6 L140.6,247 L139.8,247.4 L139,247.8 L138.2,248.3 L137.5,248.9 L136.8,249.6 L136.1,250.3 L135.6,251 L135,251.8 L134.6,252.7 L134.2,253.5 L134,254.4 L133.8,255.3 L133.6,256.3 L133.6,257.2 L133.7,262 L133.8,261.6 L133.9,261.1 L134.1,260.7 L134.4,260.3 L134.7,259.9 L135.2,259.4 L135.7,259 L136.3,258.6 L136.9,258.2 L137.6,257.9 L138.4,257.5 L139.2,257.2 L140,256.8 L140.8,256.5 L141.6,256.2 L142.4,256 L143.3,255.7 L144.1,255.5 L144.8,255.3 L145.6,255 L146.3,254.9 L146.9,254.7 L147.5,254.5 L148,254.4 L148.5,254.2 L148.9,254.1 L149.2,254 L149.4,253.9 L149.5,253.8 L149.6,253.7Z" fill="#b3a4d6"/><path d="M148.8,249.6 L148.4,249.5 L147.9,249.4 L147.4,249.4 L146.8,249.4 L146.2,249.4 L145.5,249.4 L144.7,249.5 L143.9,249.6 L143.1,249.8 L142.3,250 L141.5,250.3 L140.7,250.6 L139.8,251 L139,251.3 L138.3,251.8 L137.5,252.2 L136.8,252.8 L136.2,253.3 L135.6,253.9 L135.1,254.5 L134.7,255.1 L134.3,255.7" stroke="#d4caea" stroke-width="2.7" fill="none" stroke-linecap="round" opacity="0.8"/><path d="M149.8,264.9 L149.7,264.5 L149.6,264.1 L149.4,263.7 L149.1,263.4 L148.7,263 L148.2,262.8 L147.7,262.5 L147.1,262.3 L146.4,262.2 L145.7,262.1 L145,262.1 L144.2,262.1 L143.4,262.2 L142.6,262.4 L141.7,262.6 L140.9,263 L140.1,263.4 L139.3,263.8 L138.5,264.3 L137.8,264.9 L137.1,265.6 L136.5,266.3 L135.9,267 L135.4,267.8 L134.9,268.7 L134.6,269.5 L134.3,270.4 L134.1,271.3 L134,272.3 L133.9,273.2 L134,278 L134.1,277.6 L134.2,277.1 L134.4,276.7 L134.7,276.3 L135.1,275.8 L135.5,275.4 L136,275 L136.6,274.6 L137.3,274.2 L138,273.9 L138.7,273.5 L139.5,273.2 L140.3,272.8 L141.1,272.5 L141.9,272.2 L142.8,272 L143.6,271.7 L144.4,271.5 L145.2,271.3 L145.9,271 L146.6,270.9 L147.2,270.7 L147.8,270.5 L148.4,270.4 L148.8,270.2 L149.2,270.1 L149.5,270 L149.7,269.9 L149.8,269.8 L149.9,269.7Z" fill="#b3a4d6"/><path d="M149.1,265.6 L148.7,265.5 L148.3,265.4 L147.7,265.4 L147.1,265.3 L146.5,265.4 L145.8,265.4 L145,265.5 L144.3,265.6 L143.5,265.8 L142.6,266 L141.8,266.3 L141,266.6 L140.2,266.9 L139.4,267.3 L138.6,267.8 L137.8,268.2 L137.2,268.8 L136.5,269.3 L135.9,269.9 L135.4,270.5 L135,271.1 L134.6,271.7" stroke="#d4caea" stroke-width="2.7" fill="none" stroke-linecap="round" opacity="0.8"/>
<path d="M122.1,247.6 L122.2,248.1 L122.4,248.6 L122.8,249 L123.2,249.5 L123.7,249.9 L124.4,250.3 L125.1,250.6 L125.9,251 L126.7,251.3 L127.6,251.6 L128.6,251.8 L129.6,252 L130.6,252.2 L131.6,252.4 L132.7,252.6 L133.7,252.7 L134.7,252.8 L135.6,252.9 L136.5,253 L137.3,253 L138.1,253.1 L138.8,253.1 L139.4,253.2 L139.9,253.2 L140.3,253.2 L140.5,253.2 L140.7,253.3 L140.8,253.3 L141.1,256.9 L141.1,257.3 L141,257.6 L140.7,258 L140.4,258.3 L139.9,258.6 L139.4,258.9 L138.7,259.2 L138,259.4 L137.2,259.6 L136.3,259.7 L135.4,259.8 L134.4,259.8 L133.4,259.7 L132.4,259.6 L131.3,259.4 L130.3,259.1 L129.3,258.8 L128.3,258.4 L127.4,257.9 L126.5,257.3 L125.7,256.7 L124.9,256.1 L124.3,255.4 L123.7,254.6 L123.2,253.8 L122.9,253 L122.6,252.1 L122.5,251.2Z" fill="#e3e0ea"/><path d="M123.6,262.6 L123.7,263.1 L123.9,263.5 L124.3,264 L124.7,264.4 L125.2,264.8 L125.8,265.2 L126.6,265.5 L127.3,265.9 L128.2,266.2 L129.1,266.5 L130.1,266.7 L131.1,267 L132.1,267.2 L133.1,267.3 L134.2,267.5 L135.2,267.6 L136.2,267.7 L137.1,267.8 L138,267.9 L138.8,268 L139.6,268 L140.3,268.1 L140.9,268.1 L141.4,268.1 L141.8,268.1 L142,268.2 L142.2,268.2 L142.3,268.2 L142.6,271.8 L142.6,272.2 L142.5,272.5 L142.2,272.9 L141.9,273.2 L141.4,273.6 L140.9,273.9 L140.2,274.1 L139.5,274.4 L138.7,274.5 L137.8,274.6 L136.9,274.7 L135.9,274.7 L134.9,274.6 L133.9,274.5 L132.8,274.3 L131.8,274 L130.8,273.7 L129.8,273.3 L128.9,272.8 L128,272.3 L127.2,271.7 L126.4,271 L125.8,270.3 L125.2,269.5 L124.7,268.7 L124.4,267.9 L124.1,267 L124,266.2Z" fill="#e3e0ea"/><path d="M125.1,277.5 L125.2,278 L125.4,278.4 L125.8,278.9 L126.2,279.3 L126.7,279.7 L127.3,280.1 L128.1,280.5 L128.8,280.8 L129.7,281.1 L130.6,281.4 L131.6,281.7 L132.6,281.9 L133.6,282.1 L134.6,282.3 L135.7,282.4 L136.7,282.6 L137.7,282.7 L138.6,282.8 L139.5,282.8 L140.3,282.9 L141.1,282.9 L141.8,283 L142.4,283 L142.9,283 L143.2,283.1 L143.5,283.1 L143.7,283.1 L143.8,283.2 L144.1,286.8 L144.1,287.1 L144,287.5 L143.7,287.8 L143.4,288.2 L142.9,288.5 L142.4,288.8 L141.7,289.1 L141,289.3 L140.2,289.4 L139.3,289.6 L138.4,289.6 L137.4,289.6 L136.4,289.6 L135.3,289.4 L134.3,289.2 L133.3,289 L132.3,288.6 L131.3,288.2 L130.4,287.7 L129.5,287.2 L128.7,286.6 L127.9,285.9 L127.3,285.2 L126.7,284.5 L126.2,283.7 L125.9,282.8 L125.6,282 L125.5,281.1Z" fill="#e3e0ea"/><path d="M126,239 L125.1,239.7 L124.4,240.5 L123.7,241.4 L123.1,242.3 L122.7,243.2 L122.3,244.2 L122.1,245.2 L122,246.2 L122.1,247.2 L122.5,251.7 L122.5,251.2 L122.7,250.7 L123,250.3 L123.3,249.8 L123.8,249.3 L124.4,248.8 L125.1,248.3 L125.9,247.8 L126.8,247.4Z" fill="#b3a4d6"/><path d="M126.3,242.1 L125.4,242.7 L124.6,243.3 L124,244 L123.4,244.7 L122.9,245.4" stroke="#d4caea" stroke-width="2.5" fill="none" stroke-linecap="round" opacity="0.8"/><path d="M140.7,252.9 L140.6,252.5 L140.4,252.1 L140.1,251.8 L139.7,251.4 L139.2,251.2 L138.6,250.9 L137.9,250.8 L137.1,250.7 L136.3,250.6 L135.4,250.7 L134.5,250.8 L133.5,250.9 L132.5,251.2 L131.6,251.5 L130.6,251.9 L129.6,252.4 L128.7,253 L127.8,253.6 L127,254.3 L126.3,255 L125.6,255.8 L125,256.6 L124.5,257.5 L124.1,258.4 L123.8,259.3 L123.6,260.2 L123.5,261.2 L123.6,262.1 L124,266.6 L124,266.2 L124.2,265.7 L124.4,265.3 L124.7,264.8 L125.2,264.3 L125.7,263.9 L126.3,263.4 L127.1,263 L127.8,262.5 L128.7,262.1 L129.6,261.7 L130.5,261.3 L131.5,260.9 L132.4,260.5 L133.4,260.1 L134.4,259.8 L135.3,259.5 L136.2,259.2 L137.1,258.9 L137.9,258.7 L138.6,258.4 L139.3,258.2 L139.9,258 L140.3,257.9 L140.7,257.7 L141,257.6 L141.1,257.5 L141.2,257.3Z" fill="#b3a4d6"/><path d="M139.9,253.6 L139.4,253.5 L138.8,253.5 L138.1,253.5 L137.4,253.6 L136.6,253.7 L135.7,253.8 L134.8,254 L133.8,254.3 L132.9,254.6 L131.9,254.9 L130.9,255.3 L130,255.8 L129,256.2 L128.2,256.8 L127.3,257.3 L126.6,257.9 L125.9,258.5 L125.2,259.2 L124.7,259.8 L124.3,260.5" stroke="#d4caea" stroke-width="2.5" fill="none" stroke-linecap="round" opacity="0.8"/><path d="M142.2,267.8 L142.1,267.4 L141.9,267 L141.6,266.7 L141.2,266.4 L140.7,266.1 L140.1,265.9 L139.4,265.7 L138.6,265.6 L137.8,265.6 L136.9,265.6 L136,265.7 L135,265.9 L134,266.1 L133,266.5 L132.1,266.9 L131.1,267.3 L130.2,267.9 L129.3,268.5 L128.5,269.2 L127.8,269.9 L127.1,270.7 L126.5,271.5 L126,272.4 L125.6,273.3 L125.3,274.2 L125.1,275.2 L125,276.1 L125.1,277.1 L125.5,281.5 L125.5,281.1 L125.6,280.6 L125.9,280.2 L126.2,279.7 L126.7,279.3 L127.2,278.8 L127.8,278.3 L128.5,277.9 L129.3,277.4 L130.2,277 L131.1,276.6 L132,276.2 L133,275.8 L133.9,275.4 L134.9,275.1 L135.9,274.7 L136.8,274.4 L137.7,274.1 L138.6,273.8 L139.4,273.6 L140.1,273.3 L140.8,273.1 L141.4,273 L141.8,272.8 L142.2,272.6 L142.5,272.5 L142.6,272.4 L142.7,272.3Z" fill="#b3a4d6"/><path d="M141.4,268.5 L140.9,268.4 L140.3,268.4 L139.6,268.5 L138.9,268.5 L138.1,268.6 L137.2,268.8 L136.3,269 L135.3,269.2 L134.4,269.5 L133.4,269.9 L132.4,270.2 L131.5,270.7 L130.5,271.2 L129.6,271.7 L128.8,272.2 L128,272.8 L127.3,273.4 L126.7,274.1 L126.2,274.8 L125.8,275.4" stroke="#d4caea" stroke-width="2.5" fill="none" stroke-linecap="round" opacity="0.8"/><path d="M143.7,282.7 L143.7,282.7 L143.7,282.6 L143.7,282.5 L144.2,287.3 L144.2,287.2 L144.2,287.2 L144.2,287.2Z" fill="#b3a4d6"/>
<path d="M108.5,234 L108.5,272" stroke="#b3a4d6" stroke-width="7.5"/>
<path d="M122,234 L122,272" stroke="#c3b8de" stroke-width="7"/>
<path d="M124,240 L132,240 L132,250 L124,250 Z" fill="#e3e0ea"/>
<path d="M118,216 C118,206 120,202 121.5,202 C123,202 124,206 124,216" stroke="#b3a4d6" stroke-width="1.4" fill="none"/>
<path d="M79,258 L85,258 L85,272 L79,272 Z" fill="#e9b4b0"/>
<path d="M105,159 L131,159 Q129,167 118,168 Q109,167 105,159 Z" fill="#93b2e2"/>
<path d="M116,167 Q123,165 128,168 L126,173 Q121,170 116,172 Z" fill="#c9ccd2"/>
<path d="M129,164 Q132,176 121,178.5 Q114.5,179 113,173" stroke="#93b2e2" stroke-width="5" fill="none"/>
<path d="M130,166 Q131,174 124,177" stroke="#c2d6f2" stroke-width="1.2" fill="none"/>
<path d="M128,173 Q134,172 141,171" stroke="#93b2e2" stroke-width="1.4" fill="none"/>
<path d="M175,147 L175.1,147.5 L175.2,148 L175.4,148.4 L175.7,148.9 L176,149.4 L176.5,149.9 L177,150.3 L177.5,150.8 L178.1,151.2 L178.8,151.6 L179.5,152 L180.3,152.3 L181.1,152.7 L181.9,153 L182.8,153.3 L183.6,153.6 L184.5,153.9 L185.3,154.1 L186.2,154.3 L187,154.6 L187.8,154.7 L188.6,154.9 L189.3,155 L190,155.2 L190.6,155.3 L191.1,155.4 L191.6,155.5 L192.1,155.6 L192.4,155.6 L192.7,155.7 L192.9,155.7 L193,155.8 L193.1,155.8 L193.1,160.2 L193.1,160.5 L192.9,160.9 L192.7,161.2 L192.5,161.6 L192.1,161.9 L191.7,162.1 L191.2,162.4 L190.6,162.6 L190,162.8 L189.3,162.9 L188.6,163 L187.9,163 L187.1,163 L186.2,162.9 L185.4,162.7 L184.5,162.5 L183.7,162.2 L182.8,161.9 L182,161.5 L181.2,161.1 L180.4,160.6 L179.6,160 L178.9,159.4 L178.2,158.8 L177.6,158.1 L177,157.3 L176.5,156.5 L176.1,155.7 L175.7,154.9 L175.4,154 L175.2,153.1 L175.1,152.2 L175,151.3Z" fill="#d8dade"/><path d="M175.1,165 L175.2,165.5 L175.3,166 L175.5,166.4 L175.8,166.9 L176.2,167.4 L176.6,167.9 L177.1,168.3 L177.7,168.8 L178.3,169.2 L179,169.6 L179.7,170 L180.4,170.3 L181.2,170.7 L182.1,171 L182.9,171.3 L183.8,171.6 L184.6,171.9 L185.5,172.1 L186.3,172.3 L187.1,172.6 L187.9,172.7 L188.7,172.9 L189.4,173 L190.1,173.2 L190.7,173.3 L191.3,173.4 L191.8,173.5 L192.2,173.6 L192.6,173.6 L192.8,173.7 L193,173.7 L193.2,173.8 L193.2,173.8 L193.2,178.2 L193.2,178.5 L193.1,178.9 L192.9,179.2 L192.6,179.5 L192.2,179.9 L191.8,180.1 L191.3,180.4 L190.8,180.6 L190.1,180.8 L189.5,180.9 L188.8,181 L188,181 L187.2,181 L186.4,180.9 L185.5,180.7 L184.7,180.5 L183.8,180.2 L183,179.9 L182.1,179.5 L181.3,179.1 L180.5,178.6 L179.7,178 L179,177.4 L178.3,176.8 L177.7,176.1 L177.1,175.3 L176.6,174.5 L176.2,173.7 L175.8,172.9 L175.6,172 L175.3,171.1 L175.2,170.2 L175.2,169.3Z" fill="#d8dade"/><path d="M175.3,183 L175.3,183.5 L175.4,184 L175.6,184.4 L175.9,184.9 L176.3,185.4 L176.7,185.9 L177.2,186.3 L177.8,186.8 L178.4,187.2 L179.1,187.6 L179.8,188 L180.6,188.3 L181.4,188.7 L182.2,189 L183,189.3 L183.9,189.6 L184.8,189.9 L185.6,190.1 L186.4,190.3 L187.3,190.6 L188.1,190.7 L188.8,190.9 L189.6,191 L190.2,191.2 L190.8,191.3 L191.4,191.4 L191.9,191.5 L192.3,191.6 L192.7,191.6 L193,191.7 L193.2,191.7 L193.3,191.8 L193.3,191.8 L193.4,196.2 L193.3,196.5 L193.2,196.9 L193,197.2 L192.7,197.5 L192.4,197.9 L192,198.1 L191.5,198.4 L190.9,198.6 L190.3,198.8 L189.6,198.9 L188.9,199 L188.1,199 L187.3,199 L186.5,198.9 L185.7,198.7 L184.8,198.5 L184,198.2 L183.1,197.9 L182.3,197.5 L181.4,197.1 L180.6,196.6 L179.9,196 L179.1,195.4 L178.5,194.8 L177.8,194.1 L177.3,193.3 L176.8,192.5 L176.3,191.7 L176,190.9 L175.7,190 L175.5,189.1 L175.4,188.2 L175.3,187.3Z" fill="#d8dade"/><path d="M175.4,201 L175.4,201.5 L175.6,202 L175.8,202.4 L176.1,202.9 L176.4,203.4 L176.9,203.9 L177.4,204.3 L177.9,204.8 L178.5,205.2 L179.2,205.6 L179.9,206 L180.7,206.3 L181.5,206.7 L182.3,207 L183.2,207.3 L184,207.6 L184.9,207.9 L185.7,208.1 L186.6,208.3 L187.4,208.6 L188.2,208.7 L189,208.9 L189.7,209 L190.4,209.2 L191,209.3 L191.5,209.4 L192,209.5 L192.5,209.6 L192.8,209.6 L193.1,209.7 L193.3,209.7 L193.4,209.8 L193.5,209.8 L193.5,214.2 L193.5,214.5 L193.3,214.9 L193.1,215.2 L192.9,215.5 L192.5,215.9 L192.1,216.1 L191.6,216.4 L191,216.6 L190.4,216.8 L189.7,216.9 L189,217 L188.3,217 L187.5,217 L186.6,216.9 L185.8,216.7 L184.9,216.5 L184.1,216.2 L183.2,215.9 L182.4,215.5 L181.6,215.1 L180.8,214.6 L180,214 L179.3,213.4 L178.6,212.8 L178,212.1 L177.4,211.3 L176.9,210.5 L176.5,209.7 L176.1,208.9 L175.8,208 L175.6,207.1 L175.5,206.2 L175.4,205.3Z" fill="#d8dade"/><path d="M175.5,219 L175.6,219.5 L175.7,220 L175.9,220.4 L176.2,220.9 L176.6,221.4 L177,221.9 L177.5,222.3 L178.1,222.8 L178.7,223.2 L179.3,223.6 L180.1,224 L180.8,224.3 L181.6,224.7 L182.5,225 L183.3,225.3 L184.2,225.6 L185,225.9 L185.9,226.1 L186.7,226.3 L187.5,226.5 L188.3,226.7 L189.1,226.9 L189.8,227 L190.5,227.2 L191.1,227.3 L191.7,227.4 L192.2,227.5 L192.6,227.6 L193,227.6 L193.2,227.7 L193.4,227.7 L193.6,227.8 L193.6,227.8 L193.6,232.2 L193.6,232.5 L193.5,232.9 L193.3,233.2 L193,233.5 L192.6,233.9 L192.2,234.1 L191.7,234.4 L191.2,234.6 L190.5,234.8 L189.9,234.9 L189.2,235 L188.4,235 L187.6,235 L186.8,234.9 L185.9,234.7 L185.1,234.5 L184.2,234.2 L183.4,233.9 L182.5,233.5 L181.7,233.1 L180.9,232.6 L180.1,232 L179.4,231.4 L178.7,230.8 L178.1,230.1 L177.5,229.3 L177,228.5 L176.6,227.7 L176.2,226.9 L176,226 L175.7,225.1 L175.6,224.2 L175.6,223.3Z" fill="#d8dade"/><path d="M175.7,237 L175.7,237.5 L175.8,238 L176,238.4 L176.3,238.9 L176.7,239.4 L177.1,239.9 L177.6,240.3 L178.2,240.7 L178.8,241.2 L179.5,241.6 L180.2,242 L181,242.3 L181.8,242.7 L182.6,243 L183.4,243.3 L184.3,243.6 L185.1,243.9 L186,244.1 L186.8,244.3 L187.7,244.5 L188.5,244.7 L189.2,244.9 L189.9,245 L190.6,245.2 L191.2,245.3 L191.8,245.4 L192.3,245.5 L192.7,245.6 L193.1,245.6 L193.4,245.7 L193.6,245.7 L193.7,245.8 L193.7,245.8 L193.8,250.2 L193.7,250.5 L193.6,250.9 L193.4,251.2 L193.1,251.5 L192.8,251.9 L192.4,252.1 L191.9,252.4 L191.3,252.6 L190.7,252.8 L190,252.9 L189.3,253 L188.5,253 L187.7,253 L186.9,252.9 L186.1,252.7 L185.2,252.5 L184.4,252.2 L183.5,251.9 L182.7,251.5 L181.8,251.1 L181,250.6 L180.3,250 L179.5,249.4 L178.9,248.8 L178.2,248.1 L177.7,247.3 L177.2,246.5 L176.7,245.7 L176.4,244.9 L176.1,244 L175.9,243.1 L175.7,242.2 L175.7,241.3Z" fill="#d8dade"/><path d="M175.8,255 L175.8,255.5 L176,256 L176.2,256.4 L176.5,256.9 L176.8,257.4 L177.3,257.9 L177.8,258.3 L178.3,258.7 L178.9,259.2 L179.6,259.6 L180.3,260 L181.1,260.3 L181.9,260.7 L182.7,261 L183.6,261.3 L184.4,261.6 L185.3,261.9 L186.1,262.1 L187,262.3 L187.8,262.5 L188.6,262.7 L189.4,262.9 L190.1,263 L190.8,263.2 L191.4,263.3 L191.9,263.4 L192.4,263.5 L192.9,263.6 L193.2,263.6 L193.5,263.7 L193.7,263.7 L193.8,263.8 L193.9,263.8 L193.9,268.2 L193.9,268.5 L193.7,268.9 L193.5,269.2 L193.3,269.5 L192.9,269.9 L192.5,270.1 L192,270.4 L191.4,270.6 L190.8,270.8 L190.1,270.9 L189.4,271 L188.7,271 L187.9,271 L187,270.9 L186.2,270.7 L185.3,270.5 L184.5,270.2 L183.6,269.9 L182.8,269.5 L182,269.1 L181.2,268.6 L180.4,268 L179.7,267.4 L179,266.8 L178.4,266 L177.8,265.3 L177.3,264.5 L176.9,263.7 L176.5,262.9 L176.2,262 L176,261.1 L175.9,260.2 L175.8,259.3Z" fill="#d8dade"/><path d="M175.9,273 L176,273.5 L176.1,273.9 L176.3,274.4 L176.6,274.9 L176.9,275.3 L177.3,275.8 L177.8,276.2 L178.3,276.7 L178.9,277.1 L179.6,277.5 L180.3,277.9 L181,278.2 L181.8,278.6 L182.6,278.9 L183.4,279.2 L184.3,279.5 L185.1,279.8 L185.9,280 L186.8,280.3 L187.6,280.5 L188.4,280.7 L189.1,280.8 L189.9,281 L190.5,281.1 L191.2,281.2 L191.8,281.3 L191.8,288.5 L191.2,288.7 L190.6,288.8 L189.9,288.9 L189.2,289 L188.4,289 L187.6,288.9 L186.8,288.8 L186,288.6 L185.2,288.4 L184.3,288.1 L183.5,287.8 L182.7,287.4 L181.9,286.9 L181.1,286.4 L180.4,285.9 L179.7,285.3 L179,284.6 L178.4,283.9 L177.9,283.2 L177.4,282.4 L177,281.6 L176.6,280.8 L176.3,279.9 L176.1,279.1 L176,278.2 L176,277.3Z" fill="#d8dade"/><path d="M179.6,137 L178.9,137.7 L178.2,138.4 L177.5,139.1 L177,139.9 L176.5,140.8 L176,141.7 L175.6,142.6 L175.4,143.5 L175.2,144.5 L175,145.5 L175,146.4 L175,151.8 L175.1,151.4 L175.2,150.9 L175.4,150.5 L175.7,150 L176.1,149.6 L176.5,149.2 L177,148.7 L177.6,148.3 L178.3,147.9 L178.9,147.5 L179.7,147.2Z" fill="#93b2e2"/><path d="M179.6,140.8 L178.9,141.3 L178.2,141.8 L177.6,142.4 L177,143 L176.5,143.7 L176,144.3 L175.7,145" stroke="#c2d6f2" stroke-width="3" fill="none" stroke-linecap="round" opacity="0.8"/><path d="M193.1,155.3 L193,154.9 L192.9,154.5 L192.7,154.1 L192.4,153.7 L192.1,153.4 L191.6,153.1 L191.1,152.8 L190.6,152.5 L189.9,152.3 L189.3,152.2 L188.5,152.1 L187.8,152.1 L187,152.1 L186.2,152.2 L185.3,152.3 L184.5,152.5 L183.6,152.8 L182.8,153.2 L181.9,153.6 L181.1,154 L180.3,154.6 L179.6,155.2 L178.9,155.8 L178.2,156.5 L177.6,157.3 L177,158.1 L176.5,158.9 L176.1,159.8 L175.8,160.7 L175.5,161.6 L175.3,162.5 L175.2,163.5 L175.1,164.4 L175.2,169.8 L175.2,169.4 L175.3,168.9 L175.5,168.5 L175.8,168.1 L176.2,167.6 L176.6,167.2 L177.1,166.8 L177.6,166.4 L178.3,166 L178.9,165.6 L179.6,165.2 L180.4,164.9 L181.2,164.5 L182,164.2 L182.9,163.9 L183.7,163.6 L184.6,163.3 L185.4,163.1 L186.2,162.8 L187.1,162.6 L187.9,162.4 L188.6,162.2 L189.3,162 L190,161.8 L190.6,161.7 L191.2,161.5 L191.7,161.4 L192.1,161.2 L192.5,161.1 L192.7,161 L192.9,160.9 L193.1,160.8 L193.1,160.7Z" fill="#93b2e2"/><path d="M192.4,156.1 L192.1,156 L191.6,155.9 L191.1,155.8 L190.6,155.8 L190,155.8 L189.3,155.8 L188.6,155.8 L187.8,155.9 L187,156 L186.2,156.2 L185.4,156.4 L184.5,156.6 L183.7,156.9 L182.8,157.2 L182,157.6 L181.1,158 L180.4,158.4 L179.6,158.9 L178.9,159.4 L178.2,160 L177.6,160.5 L177,161.1 L176.5,161.8 L176.1,162.4 L175.8,163.1" stroke="#c2d6f2" stroke-width="3" fill="none" stroke-linecap="round" opacity="0.8"/><path d="M193.2,173.3 L193.2,172.9 L193,172.5 L192.8,172.1 L192.5,171.7 L192.2,171.4 L191.8,171.1 L191.3,170.8 L190.7,170.5 L190.1,170.3 L189.4,170.2 L188.7,170.1 L187.9,170.1 L187.1,170.1 L186.3,170.2 L185.5,170.3 L184.6,170.5 L183.8,170.8 L182.9,171.2 L182.1,171.6 L181.2,172 L180.5,172.6 L179.7,173.2 L179,173.8 L178.3,174.5 L177.7,175.3 L177.1,176.1 L176.7,176.9 L176.2,177.8 L175.9,178.7 L175.6,179.6 L175.4,180.5 L175.3,181.5 L175.3,182.4 L175.3,187.8 L175.3,187.4 L175.5,186.9 L175.7,186.5 L175.9,186.1 L176.3,185.6 L176.7,185.2 L177.2,184.8 L177.8,184.4 L178.4,184 L179.1,183.6 L179.8,183.2 L180.5,182.9 L181.3,182.5 L182.1,182.2 L183,181.9 L183.8,181.6 L184.7,181.3 L185.5,181.1 L186.4,180.8 L187.2,180.6 L188,180.4 L188.8,180.2 L189.5,180 L190.1,179.8 L190.8,179.7 L191.3,179.5 L191.8,179.4 L192.2,179.2 L192.6,179.1 L192.9,179 L193.1,178.9 L193.2,178.8 L193.2,178.7Z" fill="#93b2e2"/><path d="M192.6,174.1 L192.2,174 L191.8,173.9 L191.3,173.8 L190.7,173.8 L190.1,173.8 L189.4,173.8 L188.7,173.8 L187.9,173.9 L187.1,174 L186.3,174.2 L185.5,174.4 L184.6,174.6 L183.8,174.9 L182.9,175.2 L182.1,175.6 L181.3,176 L180.5,176.4 L179.7,176.9 L179,177.4 L178.3,178 L177.7,178.5 L177.2,179.1 L176.7,179.8 L176.3,180.4 L175.9,181.1" stroke="#c2d6f2" stroke-width="3" fill="none" stroke-linecap="round" opacity="0.8"/><path d="M193.3,191.3 L193.3,190.9 L193.2,190.5 L193,190.1 L192.7,189.7 L192.3,189.4 L191.9,189.1 L191.4,188.8 L190.8,188.5 L190.2,188.3 L189.5,188.2 L188.8,188.1 L188,188.1 L187.3,188.1 L186.4,188.2 L185.6,188.3 L184.7,188.5 L183.9,188.8 L183,189.2 L182.2,189.6 L181.4,190 L180.6,190.6 L179.8,191.2 L179.1,191.8 L178.4,192.5 L177.8,193.3 L177.3,194.1 L176.8,194.9 L176.4,195.8 L176,196.7 L175.7,197.6 L175.5,198.5 L175.4,199.5 L175.4,200.4 L175.4,205.8 L175.5,205.4 L175.6,204.9 L175.8,204.5 L176.1,204.1 L176.4,203.6 L176.8,203.2 L177.3,202.8 L177.9,202.4 L178.5,202 L179.2,201.6 L179.9,201.2 L180.7,200.9 L181.5,200.5 L182.3,200.2 L183.1,199.9 L184,199.6 L184.8,199.3 L185.7,199.1 L186.5,198.8 L187.3,198.6 L188.1,198.4 L188.9,198.2 L189.6,198 L190.3,197.8 L190.9,197.7 L191.5,197.5 L191.9,197.4 L192.4,197.2 L192.7,197.1 L193,197 L193.2,196.9 L193.3,196.8 L193.4,196.7Z" fill="#93b2e2"/><path d="M192.7,192.1 L192.3,192 L191.9,191.9 L191.4,191.8 L190.9,191.8 L190.2,191.8 L189.6,191.8 L188.8,191.8 L188.1,191.9 L187.3,192 L186.5,192.2 L185.6,192.4 L184.8,192.6 L183.9,192.9 L183.1,193.2 L182.2,193.6 L181.4,194 L180.6,194.4 L179.9,194.9 L179.1,195.4 L178.5,196 L177.9,196.5 L177.3,197.1 L176.8,197.8 L176.4,198.4 L176,199.1" stroke="#c2d6f2" stroke-width="3" fill="none" stroke-linecap="round" opacity="0.8"/><path d="M193.5,209.3 L193.4,208.9 L193.3,208.5 L193.1,208.1 L192.8,207.7 L192.5,207.4 L192,207.1 L191.5,206.8 L191,206.5 L190.3,206.3 L189.7,206.2 L188.9,206.1 L188.2,206.1 L187.4,206.1 L186.6,206.2 L185.7,206.3 L184.9,206.5 L184,206.8 L183.2,207.2 L182.3,207.6 L181.5,208 L180.7,208.6 L180,209.2 L179.2,209.8 L178.6,210.5 L178,211.3 L177.4,212.1 L176.9,212.9 L176.5,213.8 L176.1,214.7 L175.9,215.6 L175.7,216.5 L175.6,217.5 L175.5,218.4 L175.6,223.8 L175.6,223.4 L175.7,222.9 L175.9,222.5 L176.2,222.1 L176.6,221.6 L177,221.2 L177.5,220.8 L178,220.4 L178.7,220 L179.3,219.6 L180,219.2 L180.8,218.9 L181.6,218.5 L182.4,218.2 L183.2,217.9 L184.1,217.6 L185,217.3 L185.8,217.1 L186.6,216.8 L187.5,216.6 L188.3,216.4 L189,216.2 L189.7,216 L190.4,215.8 L191,215.7 L191.6,215.5 L192.1,215.4 L192.5,215.2 L192.9,215.1 L193.1,215 L193.3,214.9 L193.5,214.8 L193.5,214.7Z" fill="#93b2e2"/><path d="M192.8,210.1 L192.5,210 L192,209.9 L191.5,209.8 L191,209.8 L190.4,209.8 L189.7,209.8 L189,209.8 L188.2,209.9 L187.4,210 L186.6,210.2 L185.8,210.4 L184.9,210.6 L184,210.9 L183.2,211.2 L182.4,211.6 L181.5,212 L180.7,212.4 L180,212.9 L179.3,213.4 L178.6,214 L178,214.5 L177.4,215.1 L176.9,215.8 L176.5,216.4 L176.2,217.1" stroke="#c2d6f2" stroke-width="3" fill="none" stroke-linecap="round" opacity="0.8"/><path d="M193.6,227.3 L193.6,226.9 L193.4,226.5 L193.2,226.1 L192.9,225.7 L192.6,225.4 L192.2,225.1 L191.7,224.8 L191.1,224.5 L190.5,224.3 L189.8,224.2 L189.1,224.1 L188.3,224.1 L187.5,224.1 L186.7,224.2 L185.9,224.3 L185,224.5 L184.2,224.8 L183.3,225.2 L182.5,225.6 L181.6,226 L180.9,226.6 L180.1,227.2 L179.4,227.8 L178.7,228.5 L178.1,229.3 L177.5,230.1 L177.1,230.9 L176.6,231.8 L176.3,232.7 L176,233.6 L175.8,234.5 L175.7,235.5 L175.7,236.4 L175.7,241.8 L175.7,241.4 L175.9,240.9 L176.1,240.5 L176.3,240.1 L176.7,239.6 L177.1,239.2 L177.6,238.8 L178.2,238.4 L178.8,238 L179.5,237.6 L180.2,237.2 L180.9,236.9 L181.7,236.5 L182.5,236.2 L183.4,235.9 L184.2,235.6 L185.1,235.3 L185.9,235.1 L186.8,234.8 L187.6,234.6 L188.4,234.4 L189.1,234.2 L189.9,234 L190.5,233.8 L191.2,233.7 L191.7,233.5 L192.2,233.4 L192.6,233.2 L193,233.1 L193.3,233 L193.5,232.9 L193.6,232.8 L193.6,232.7Z" fill="#93b2e2"/><path d="M193,228.1 L192.6,228 L192.2,227.9 L191.7,227.8 L191.1,227.8 L190.5,227.8 L189.8,227.8 L189.1,227.8 L188.3,227.9 L187.5,228 L186.7,228.2 L185.9,228.4 L185,228.6 L184.2,228.9 L183.3,229.2 L182.5,229.6 L181.7,230 L180.9,230.4 L180.1,230.9 L179.4,231.4 L178.7,232 L178.1,232.5 L177.6,233.1 L177.1,233.8 L176.7,234.4 L176.3,235.1" stroke="#c2d6f2" stroke-width="3" fill="none" stroke-linecap="round" opacity="0.8"/><path d="M193.7,245.3 L193.7,244.9 L193.6,244.5 L193.4,244.1 L193.1,243.7 L192.7,243.4 L192.3,243.1 L191.8,242.8 L191.2,242.5 L190.6,242.3 L189.9,242.2 L189.2,242.1 L188.4,242.1 L187.7,242.1 L186.8,242.2 L186,242.3 L185.1,242.5 L184.3,242.8 L183.4,243.2 L182.6,243.6 L181.8,244 L181,244.6 L180.2,245.2 L179.5,245.8 L178.8,246.5 L178.2,247.3 L177.7,248.1 L177.2,248.9 L176.8,249.8 L176.4,250.7 L176.1,251.6 L175.9,252.5 L175.8,253.5 L175.8,254.4 L175.8,259.8 L175.9,259.4 L176,258.9 L176.2,258.5 L176.5,258.1 L176.8,257.6 L177.2,257.2 L177.7,256.8 L178.3,256.4 L178.9,256 L179.6,255.6 L180.3,255.2 L181.1,254.9 L181.9,254.5 L182.7,254.2 L183.5,253.9 L184.4,253.6 L185.2,253.3 L186.1,253.1 L186.9,252.8 L187.7,252.6 L188.5,252.4 L189.3,252.2 L190,252 L190.7,251.8 L191.3,251.7 L191.9,251.5 L192.3,251.4 L192.8,251.2 L193.1,251.1 L193.4,251 L193.6,250.9 L193.7,250.8 L193.8,250.7Z" fill="#93b2e2"/><path d="M193.1,246.1 L192.7,246 L192.3,245.9 L191.8,245.8 L191.2,245.8 L190.6,245.8 L190,245.8 L189.2,245.8 L188.5,245.9 L187.7,246 L186.9,246.2 L186,246.4 L185.2,246.6 L184.3,246.9 L183.5,247.2 L182.6,247.6 L181.8,248 L181,248.4 L180.3,248.9 L179.5,249.4 L178.9,250 L178.3,250.5 L177.7,251.1 L177.2,251.8 L176.8,252.4 L176.4,253.1" stroke="#c2d6f2" stroke-width="3" fill="none" stroke-linecap="round" opacity="0.8"/><path d="M193.9,263.3 L193.8,262.9 L193.7,262.5 L193.5,262.1 L193.2,261.7 L192.8,261.4 L192.4,261.1 L191.9,260.8 L191.4,260.5 L190.7,260.3 L190.1,260.2 L189.3,260.1 L188.6,260.1 L187.8,260.1 L187,260.2 L186.1,260.3 L185.3,260.5 L184.4,260.8 L183.6,261.2 L182.7,261.6 L181.9,262 L181.1,262.6 L180.4,263.2 L179.6,263.8 L179,264.5 L178.4,265.3 L177.8,266.1 L177.3,266.9 L176.9,267.8 L176.5,268.7 L176.3,269.6 L176.1,270.5 L176,271.5 L175.9,272.4 L176,277.8 L176,277.4 L176.1,276.9 L176.3,276.5 L176.6,276.1 L177,275.6 L177.4,275.2 L177.9,274.8 L178.4,274.4 L179,274 L179.7,273.6 L180.4,273.2 L181.2,272.9 L182,272.5 L182.8,272.2 L183.6,271.9 L184.5,271.6 L185.3,271.3 L186.2,271.1 L187,270.8 L187.9,270.6 L188.7,270.4 L189.4,270.2 L190.1,270 L190.8,269.8 L191.4,269.7 L192,269.5 L192.5,269.4 L192.9,269.2 L193.3,269.1 L193.5,269 L193.7,268.9 L193.9,268.8 L193.9,268.7Z" fill="#93b2e2"/><path d="M193.2,264.1 L192.9,264 L192.4,263.9 L191.9,263.8 L191.4,263.8 L190.8,263.8 L190.1,263.8 L189.4,263.8 L188.6,263.9 L187.8,264 L187,264.2 L186.2,264.4 L185.3,264.6 L184.4,264.9 L183.6,265.2 L182.8,265.6 L181.9,266 L181.1,266.4 L180.4,266.9 L179.7,267.4 L179,268 L178.4,268.5 L177.8,269.1 L177.3,269.8 L176.9,270.4 L176.6,271.1" stroke="#c2d6f2" stroke-width="3" fill="none" stroke-linecap="round" opacity="0.8"/>
<path d="M146.9,218.3 L147,218.8 L147.1,219.3 L147.4,219.8 L147.6,220.3 L148,220.7 L148.5,221.2 L149,221.6 L149.5,222 L150.2,222.4 L150.9,222.8 L151.6,223.2 L152.4,223.6 L153.2,223.9 L154,224.2 L154.9,224.5 L155.7,224.8 L156.6,225 L157.4,225.2 L158.3,225.4 L159.1,225.6 L159.9,225.8 L160.7,225.9 L161.4,226.1 L162.1,226.2 L162.7,226.3 L163.3,226.4 L163.8,226.4 L164.2,226.5 L164.6,226.6 L164.8,226.6 L165,226.7 L165.2,226.7 L165.2,226.8 L165.4,231.1 L165.3,231.4 L165.2,231.8 L165,232.1 L164.7,232.5 L164.4,232.8 L164,233.1 L163.5,233.3 L162.9,233.6 L162.3,233.8 L161.7,233.9 L160.9,234 L160.2,234 L159.4,234 L158.6,233.9 L157.7,233.8 L156.9,233.6 L156,233.4 L155.1,233.1 L154.3,232.7 L153.4,232.3 L152.6,231.8 L151.8,231.3 L151.1,230.7 L150.4,230 L149.8,229.3 L149.2,228.6 L148.7,227.8 L148.2,227 L147.8,226.2 L147.5,225.3 L147.3,224.4 L147.1,223.5 L147.1,222.6Z" fill="#d8dade"/><path d="M147.5,236.3 L147.6,236.8 L147.7,237.3 L147.9,237.8 L148.2,238.3 L148.6,238.7 L149,239.2 L149.5,239.6 L150.1,240 L150.7,240.4 L151.4,240.8 L152.2,241.2 L152.9,241.6 L153.7,241.9 L154.6,242.2 L155.4,242.5 L156.3,242.7 L157.1,243 L158,243.2 L158.9,243.4 L159.7,243.6 L160.5,243.8 L161.2,243.9 L162,244 L162.7,244.2 L163.3,244.3 L163.8,244.3 L164.3,244.4 L164.8,244.5 L165.1,244.5 L165.4,244.6 L165.6,244.7 L165.7,244.7 L165.8,244.7 L165.9,249.1 L165.9,249.4 L165.8,249.8 L165.6,250.1 L165.3,250.5 L165,250.8 L164.5,251.1 L164.1,251.3 L163.5,251.6 L162.9,251.7 L162.2,251.9 L161.5,252 L160.7,252 L159.9,252 L159.1,251.9 L158.3,251.8 L157.4,251.6 L156.6,251.4 L155.7,251.1 L154.8,250.7 L154,250.3 L153.2,249.8 L152.4,249.3 L151.7,248.7 L151,248 L150.3,247.3 L149.8,246.6 L149.2,245.8 L148.8,245 L148.4,244.2 L148.1,243.3 L147.9,242.4 L147.7,241.5 L147.6,240.6Z" fill="#d8dade"/><path d="M148.1,254.3 L148.1,254.8 L148.3,255.3 L148.5,255.8 L148.8,256.2 L149.1,256.7 L149.6,257.2 L150.1,257.6 L150.7,258 L151.3,258.4 L152,258.8 L152.7,259.2 L153.5,259.5 L154.3,259.9 L155.1,260.2 L156,260.5 L156.8,260.7 L157.7,261 L158.6,261.2 L159.4,261.4 L160.2,261.6 L161,261.8 L161.8,261.9 L162.5,262 L163.2,262.2 L163.8,262.3 L164.4,262.3 L164.9,262.4 L165.3,262.5 L165.7,262.5 L166,262.6 L166.2,262.6 L166.3,262.7 L166.3,262.7 L166.5,267.1 L166.4,267.4 L166.3,267.8 L166.1,268.1 L165.9,268.5 L165.5,268.8 L165.1,269.1 L164.6,269.3 L164.1,269.5 L163.5,269.7 L162.8,269.9 L162.1,270 L161.3,270 L160.5,270 L159.7,269.9 L158.8,269.8 L158,269.6 L157.1,269.4 L156.3,269.1 L155.4,268.7 L154.6,268.3 L153.8,267.8 L153,267.2 L152.2,266.7 L151.5,266 L150.9,265.3 L150.3,264.6 L149.8,263.8 L149.3,263 L149,262.2 L148.7,261.3 L148.4,260.4 L148.3,259.5 L148.2,258.6Z" fill="#d8dade"/><path d="M148.6,272.3 L148.7,272.8 L148.8,273.3 L149,273.8 L149.3,274.2 L149.7,274.7 L150.1,275.2 L150.7,275.6 L151.2,276 L151.9,276.4 L152.6,276.8 L153.3,277.2 L154.1,277.5 L154.9,277.9 L155.7,278.2 L156.5,278.5 L157.4,278.7 L158.3,279 L159.1,279.2 L160,279.4 L160.8,279.6 L161.6,279.8 L162.4,279.9 L163.1,280 L163.8,280.1 L164.4,280.2 L165,280.3 L165.5,280.4 L165.9,280.5 L166.3,280.5 L166.5,280.6 L166.7,280.6 L166.9,280.7 L166.9,280.7 L167,285 L167,285.4 L166.9,285.8 L166.7,286.1 L166.4,286.5 L166.1,286.8 L165.7,287.1 L165.2,287.3 L164.6,287.5 L164,287.7 L163.3,287.9 L162.6,288 L161.9,288 L161.1,288 L160.2,287.9 L159.4,287.8 L158.5,287.6 L157.7,287.4 L156.8,287.1 L156,286.7 L155.1,286.3 L154.3,285.8 L153.5,285.2 L152.8,284.6 L152.1,284 L151.5,283.3 L150.9,282.6 L150.4,281.8 L149.9,281 L149.5,280.2 L149.2,279.3 L149,278.4 L148.8,277.5 L148.8,276.6Z" fill="#d8dade"/><path d="M146.9,217.1 L146.9,217.3 L146.9,217.5 L146.9,217.8 L147.1,223.2 L147.1,223.1 L147.1,223 L147.1,222.9Z" fill="#93b2e2"/><path d="M165.2,226.2 L165.1,225.8 L165,225.4 L164.8,225 L164.5,224.7 L164.1,224.3 L163.7,224 L163.2,223.7 L162.6,223.5 L162,223.3 L161.3,223.2 L160.6,223.1 L159.8,223.1 L159,223.2 L158.2,223.3 L157.4,223.4 L156.5,223.7 L155.7,224 L154.9,224.3 L154,224.8 L153.2,225.2 L152.4,225.8 L151.7,226.4 L151,227.1 L150.3,227.8 L149.8,228.6 L149.2,229.4 L148.7,230.2 L148.3,231.1 L148,232 L147.8,232.9 L147.6,233.9 L147.5,234.8 L147.5,235.8 L147.7,241.2 L147.7,240.7 L147.8,240.3 L148,239.8 L148.2,239.4 L148.6,239 L149,238.5 L149.5,238.1 L150,237.7 L150.6,237.3 L151.3,236.9 L152,236.5 L152.8,236.1 L153.5,235.7 L154.4,235.4 L155.2,235.1 L156,234.7 L156.9,234.4 L157.7,234.2 L158.6,233.9 L159.4,233.6 L160.2,233.4 L160.9,233.2 L161.6,233 L162.3,232.8 L162.9,232.6 L163.5,232.5 L164,232.3 L164.4,232.2 L164.7,232.1 L165,231.9 L165.2,231.8 L165.3,231.7 L165.4,231.6Z" fill="#93b2e2"/><path d="M164.6,227.1 L164.2,227 L163.8,226.9 L163.3,226.8 L162.7,226.8 L162.1,226.8 L161.4,226.8 L160.7,226.9 L160,227 L159.2,227.1 L158.4,227.3 L157.5,227.5 L156.7,227.8 L155.8,228.1 L155,228.4 L154.2,228.8 L153.3,229.2 L152.6,229.7 L151.8,230.1 L151.1,230.7 L150.5,231.2 L149.9,231.8 L149.3,232.4 L148.8,233.1 L148.4,233.7 L148.1,234.4" stroke="#c2d6f2" stroke-width="3" fill="none" stroke-linecap="round" opacity="0.8"/><path d="M165.8,244.2 L165.7,243.8 L165.6,243.4 L165.4,243 L165.1,242.6 L164.7,242.3 L164.3,242 L163.8,241.7 L163.2,241.5 L162.6,241.3 L161.9,241.2 L161.2,241.1 L160.4,241.1 L159.6,241.1 L158.8,241.2 L158,241.4 L157.1,241.7 L156.3,242 L155.4,242.3 L154.6,242.7 L153.8,243.2 L153,243.8 L152.3,244.4 L151.6,245.1 L150.9,245.8 L150.3,246.5 L149.8,247.4 L149.3,248.2 L148.9,249.1 L148.6,250 L148.3,250.9 L148.2,251.9 L148.1,252.8 L148.1,253.8 L148.2,259.2 L148.2,258.7 L148.4,258.3 L148.5,257.8 L148.8,257.4 L149.2,256.9 L149.6,256.5 L150,256.1 L150.6,255.7 L151.2,255.3 L151.9,254.9 L152.6,254.5 L153.3,254.1 L154.1,253.7 L154.9,253.4 L155.8,253.1 L156.6,252.7 L157.4,252.4 L158.3,252.2 L159.1,251.9 L159.9,251.6 L160.7,251.4 L161.5,251.2 L162.2,251 L162.9,250.8 L163.5,250.6 L164,250.5 L164.5,250.3 L164.9,250.2 L165.3,250 L165.6,249.9 L165.8,249.8 L165.9,249.7 L165.9,249.6Z" fill="#93b2e2"/><path d="M165.1,245.1 L164.8,244.9 L164.4,244.9 L163.9,244.8 L163.3,244.8 L162.7,244.8 L162,244.8 L161.3,244.9 L160.5,245 L159.7,245.1 L158.9,245.3 L158.1,245.5 L157.2,245.7 L156.4,246 L155.5,246.4 L154.7,246.8 L153.9,247.2 L153.1,247.6 L152.4,248.1 L151.7,248.7 L151,249.2 L150.4,249.8 L149.9,250.4 L149.4,251.1 L149,251.7 L148.7,252.4" stroke="#c2d6f2" stroke-width="3" fill="none" stroke-linecap="round" opacity="0.8"/><path d="M166.3,262.2 L166.3,261.8 L166.1,261.4 L165.9,261 L165.6,260.6 L165.3,260.3 L164.8,260 L164.3,259.7 L163.8,259.5 L163.1,259.3 L162.4,259.2 L161.7,259.1 L161,259.1 L160.2,259.1 L159.3,259.2 L158.5,259.4 L157.7,259.6 L156.8,259.9 L156,260.3 L155.2,260.7 L154.3,261.2 L153.6,261.8 L152.8,262.4 L152.1,263.1 L151.5,263.8 L150.9,264.5 L150.3,265.3 L149.9,266.2 L149.5,267.1 L149.1,268 L148.9,268.9 L148.7,269.8 L148.6,270.8 L148.6,271.8 L148.8,277.2 L148.8,276.7 L148.9,276.3 L149.1,275.8 L149.4,275.4 L149.7,274.9 L150.1,274.5 L150.6,274.1 L151.2,273.7 L151.8,273.2 L152.4,272.8 L153.1,272.5 L153.9,272.1 L154.7,271.7 L155.5,271.4 L156.3,271 L157.2,270.7 L158,270.4 L158.8,270.1 L159.7,269.9 L160.5,269.6 L161.3,269.4 L162,269.2 L162.8,269 L163.4,268.8 L164,268.6 L164.6,268.5 L165.1,268.3 L165.5,268.2 L165.9,268 L166.1,267.9 L166.3,267.8 L166.5,267.7 L166.5,267.6Z" fill="#93b2e2"/><path d="M165.7,263 L165.3,262.9 L164.9,262.9 L164.4,262.8 L163.9,262.8 L163.2,262.8 L162.6,262.8 L161.8,262.8 L161.1,262.9 L160.3,263.1 L159.5,263.3 L158.6,263.5 L157.8,263.7 L156.9,264 L156.1,264.4 L155.3,264.8 L154.5,265.2 L153.7,265.6 L152.9,266.1 L152.2,266.7 L151.6,267.2 L151,267.8 L150.4,268.4 L150,269.1 L149.5,269.7 L149.2,270.4" stroke="#c2d6f2" stroke-width="3" fill="none" stroke-linecap="round" opacity="0.8"/><path d="M166.9,280.2 L166.8,279.8 L166.7,279.4 L166.5,279 L166.7,285.9 L166.9,285.8 L167,285.7 L167.1,285.6Z" fill="#93b2e2"/>
<path d="M140,159 L146,190" stroke="#93b2e2" stroke-width="5"/>
<path d="M152,159 L160,176" stroke="#93b2e2" stroke-width="4"/>
<g fill="none" stroke-linecap="round">
<path d="M147,188 C150,196 151,204 150,212" stroke="#93b2e2" stroke-width="1.5"/>
<path d="M160,178 C166,188 172,192 178,195" stroke="#93b2e2" stroke-width="1.5"/>
<path d="M135,173 L145,170" stroke="#93b2e2" stroke-width="1.3"/>
</g>
<g stroke-linecap="round" fill="none" stroke-width="1.5">
<path d="M102.1,218.5 L98,215 M102.1,218.5 L104,213.5 M102.1,218.5 L97.5,221.5 M102.1,218.5 L109,220 L116.5,221.5 M116.5,221.5 L115,215.5 M116.5,221.5 L117,227 M116.5,221.5 L113,226 M99.1,230.6 L94,228 M99.1,230.6 L96,236 M99.1,230.6 L104,233 M99.1,230.6 L101,224 L102.1,218.5 M134.5,212.5 L134.5,210 M130,222 L129,226" stroke="#e03838"/>
<path d="M134.5,212.5 L139.3,216.0 L137.4,221.5 L131.6,221.5 L129.7,216.0 Z M143.3,212.0 L146.2,208.0 L150.9,209.5 L150.9,214.5 L146.2,216.0 Z M161.0,213.0 L158.5,217.3 L153.5,217.3 L151.0,213.0 L153.5,208.7 L158.5,208.7 Z M116.5,221.5 L122,217.5 L128.5,214.5 M139.5,217 L143.5,213.5" stroke="#cdd35a" stroke-width="1.7"/>
<path d="M163.5,204.5 L160.5,208" stroke="#2c48c8" stroke-width="1.6"/>
</g>
<g fill="#2c48c8"><circle cx="143.3" cy="212.0" r="1.4"/><circle cx="150.9" cy="209.5" r="1.4"/><circle cx="158.5" cy="217.3" r="1.4"/><circle cx="151.0" cy="213.0" r="1.4"/><circle cx="158.5" cy="208.7" r="1.4"/><circle cx="163.5" cy="204.5" r="1.4"/></g>
<g fill="#c0c4dc" stroke="#8e92ac" stroke-width="0.5"><circle cx="102.1" cy="218.5" r="1.9"/><circle cx="116.5" cy="221.5" r="1.9"/><circle cx="99.1" cy="230.6" r="1.9"/></g>
<circle cx="108.9" cy="229.1" r="3.9" fill="url(#og)"/><circle cx="123.6" cy="229" r="3.9" fill="url(#og)"/>
<path d="M172,198 L177.5,203 L182.5,199 M177.5,203 L178,210" stroke="#3a70c8" stroke-width="1.6" fill="none" stroke-linecap="round"/><circle cx="178" cy="211" r="1.4" fill="#d83030"/>
<path d="M179,221 L176,227" stroke="#3a70c8" stroke-width="1.7" fill="none"/><circle cx="175.5" cy="228" r="1.4" fill="#d83030"/>
<path d="M165,205 L177,210.5 M162.5,218 L175,227.5" stroke="#d8d860" stroke-width="0.9" stroke-dasharray="1 1" fill="none"/>
</g>
<rect x="79" y="159" width="112.4" height="112.2" fill="none" stroke="#555" stroke-width="1"/>
<text x="158.4" y="198.6" font-size="8" fill="#333">N34</text>
<text x="165.3" y="239" font-size="8" fill="#333">S30</text>
<text x="69.3" y="155.4" font-size="10.8" font-weight="bold" fill="#111">d</text>
<text x="265.8" y="7.5" font-size="10.8" text-anchor="start" font-weight="bold" fill="#111" >b</text>
<path d="M299.5,15.1 V116 M295.5,15.1 H299.5 M295.5,47.5 H299.5 M295.5,79.95 H299.5 M295.5,112.4 H299.5" stroke="#8a8a8a" stroke-width="0.8" fill="none"/>
<path d="M299.5,112.4 H446.5 M348.5,112.4 V116 M397.5,112.4 V116 M446.5,112.4 V116" stroke="#8a8a8a" stroke-width="0.8" fill="none"/>
<text x="293" y="17.99" font-size="8" text-anchor="end" font-weight="normal" fill="#333" >150</text>
<text x="293" y="50.43" font-size="8" text-anchor="end" font-weight="normal" fill="#333" >100</text>
<text x="293" y="82.87" font-size="8" text-anchor="end" font-weight="normal" fill="#333" >50</text>
<text x="293" y="115.3" font-size="8" text-anchor="end" font-weight="normal" fill="#333" >0</text>
<text x="299.5" y="126" font-size="8" text-anchor="middle" font-weight="normal" fill="#333" >0</text>
<text x="348.5" y="126" font-size="8" text-anchor="middle" font-weight="normal" fill="#333" >2</text>
<text x="397.5" y="126" font-size="8" text-anchor="middle" font-weight="normal" fill="#333" >4</text>
<text x="446.5" y="126" font-size="8" text-anchor="middle" font-weight="normal" fill="#333" >6</text>
<text x="373" y="138" font-size="8" text-anchor="middle" font-weight="normal" fill="#333" >Time (min)</text>
<text x="0" y="0" font-size="8" text-anchor="middle" font-weight="normal" fill="#333" transform="translate(273.6,63) rotate(-90)">254-nm absorbance (mAU)</text>
<line x1="382" y1="14.9" x2="393" y2="14.9" stroke="#8c8c8c" stroke-width="1.4"/>
<text x="396.5" y="17.6" font-size="8" text-anchor="start" font-weight="normal" fill="#333" >NTP</text>
<line x1="382" y1="25.4" x2="393" y2="25.4" stroke="#9a4fa6" stroke-width="1"/>
<text x="396.5" y="28.1" font-size="8" text-anchor="start" font-weight="normal" fill="#333" >NTP + <tspan font-style="italic">Vn</tspan>OptS</text>
<path d="M299.5,112.4 L299.6,112.4 L299.7,112.4 L299.79,112.4 L299.89,112.4 L299.99,112.4 L300.09,112.4 L300.19,112.4 L300.28,112.4 L300.38,112.4 L300.48,112.4 L300.58,112.4 L300.68,112.4 L300.77,112.4 L300.87,112.4 L300.97,112.4 L301.07,112.4 L301.17,112.4 L301.26,112.4 L301.36,112.4 L301.46,112.4 L301.56,112.4 L301.66,112.4 L301.75,112.4 L301.85,112.4 L301.95,112.4 L302.05,112.4 L302.15,112.4 L302.24,112.4 L302.34,112.4 L302.44,112.4 L302.54,112.4 L302.64,112.4 L302.73,112.4 L302.83,112.4 L302.93,112.4 L303.03,112.4 L303.13,112.4 L303.22,112.4 L303.32,112.4 L303.42,112.4 L303.52,112.4 L303.62,112.4 L303.71,112.4 L303.81,112.4 L303.91,112.4 L304.01,112.4 L304.11,112.4 L304.2,112.4 L304.3,112.4 L304.4,112.4 L304.5,112.4 L304.6,112.4 L304.69,112.4 L304.79,112.4 L304.89,112.4 L304.99,112.4 L305.09,112.4 L305.18,112.4 L305.28,112.4 L305.38,112.4 L305.48,112.4 L305.58,112.4 L305.67,112.4 L305.77,112.4 L305.87,112.4 L305.97,112.4 L306.07,112.4 L306.16,112.4 L306.26,112.4 L306.36,112.4 L306.46,112.4 L306.56,112.4 L306.65,112.4 L306.75,112.4 L306.85,112.4 L306.95,112.4 L307.05,112.4 L307.14,112.4 L307.24,112.4 L307.34,112.4 L307.44,112.4 L307.54,112.4 L307.63,112.4 L307.73,112.4 L307.83,112.4 L307.93,112.4 L308.03,112.4 L308.12,112.4 L308.22,112.4 L308.32,112.4 L308.42,112.4 L308.52,112.4 L308.61,112.4 L308.71,112.4 L308.81,112.4 L308.91,112.4 L309.01,112.4 L309.1,112.4 L309.2,112.4 L309.3,112.4 L309.4,112.4 L309.5,112.4 L309.59,112.4 L309.69,112.4 L309.79,112.4 L309.89,112.4 L309.99,112.4 L310.08,112.4 L310.18,112.4 L310.28,112.4 L310.38,112.4 L310.48,112.4 L310.57,112.4 L310.67,112.4 L310.77,112.4 L310.87,112.4 L310.97,112.4 L311.06,112.4 L311.16,112.4 L311.26,112.4 L311.36,112.4 L311.46,112.4 L311.55,112.4 L311.65,112.4 L311.75,112.4 L311.85,112.4 L311.95,112.4 L312.04,112.4 L312.14,112.4 L312.24,112.4 L312.34,112.4 L312.44,112.4 L312.53,112.4 L312.63,112.4 L312.73,112.4 L312.83,112.4 L312.93,112.4 L313.02,112.4 L313.12,112.4 L313.22,112.4 L313.32,112.4 L313.42,112.4 L313.51,112.4 L313.61,112.4 L313.71,112.4 L313.81,112.4 L313.91,112.4 L314,112.4 L314.1,112.4 L314.2,112.4 L314.3,112.4 L314.4,112.4 L314.49,112.4 L314.59,112.4 L314.69,112.4 L314.79,112.4 L314.89,112.4 L314.98,112.4 L315.08,112.4 L315.18,112.4 L315.28,112.4 L315.38,112.4 L315.47,112.4 L315.57,112.4 L315.67,112.4 L315.77,112.4 L315.87,112.4 L315.96,112.4 L316.06,112.4 L316.16,112.4 L316.26,112.4 L316.36,112.4 L316.45,112.4 L316.55,112.4 L316.65,112.4 L316.75,112.4 L316.85,112.4 L316.94,112.4 L317.04,112.4 L317.14,112.4 L317.24,112.4 L317.34,112.4 L317.43,112.4 L317.53,112.4 L317.63,112.4 L317.73,112.4 L317.83,112.4 L317.92,112.4 L318.02,112.4 L318.12,112.4 L318.22,112.4 L318.32,112.4 L318.41,112.4 L318.51,112.4 L318.61,112.4 L318.71,112.4 L318.81,112.4 L318.9,112.4 L319,112.4 L319.1,112.4 L319.2,112.4 L319.3,112.4 L319.39,112.4 L319.49,112.4 L319.59,112.4 L319.69,112.4 L319.79,112.4 L319.88,112.4 L319.98,112.4 L320.08,112.4 L320.18,112.4 L320.28,112.4 L320.37,112.4 L320.47,112.4 L320.57,112.4 L320.67,112.4 L320.77,112.4 L320.86,112.4 L320.96,112.4 L321.06,112.4 L321.16,112.4 L321.26,112.4 L321.35,112.4 L321.45,112.4 L321.55,112.4 L321.65,112.4 L321.75,112.4 L321.84,112.4 L321.94,112.4 L322.04,112.4 L322.14,112.4 L322.24,112.4 L322.33,112.4 L322.43,112.4 L322.53,112.4 L322.63,112.4 L322.73,112.4 L322.82,112.4 L322.92,112.4 L323.02,112.4 L323.12,112.4 L323.22,112.4 L323.31,112.4 L323.41,112.4 L323.51,112.4 L323.61,112.4 L323.71,112.4 L323.8,112.4 L323.9,112.4 L324,112.4 L324.1,112.4 L324.2,112.4 L324.29,112.4 L324.39,112.4 L324.49,112.4 L324.59,112.4 L324.69,112.4 L324.78,112.4 L324.88,112.4 L324.98,112.4 L325.08,112.4 L325.18,112.4 L325.27,112.4 L325.37,112.4 L325.47,112.4 L325.57,112.4 L325.67,112.4 L325.76,112.4 L325.86,112.4 L325.96,112.4 L326.06,112.4 L326.16,112.4 L326.25,112.4 L326.35,112.4 L326.45,112.4 L326.55,112.4 L326.65,112.4 L326.74,112.4 L326.84,112.4 L326.94,112.4 L327.04,112.4 L327.14,112.4 L327.23,112.4 L327.33,112.4 L327.43,112.4 L327.53,112.4 L327.63,112.4 L327.72,112.4 L327.82,112.4 L327.92,112.4 L328.02,112.4 L328.12,112.4 L328.21,112.4 L328.31,112.4 L328.41,112.4 L328.51,112.4 L328.61,112.4 L328.7,112.4 L328.8,112.4 L328.9,112.4 L329,112.4 L329.1,112.4 L329.19,112.4 L329.29,112.4 L329.39,112.4 L329.49,112.4 L329.59,112.4 L329.68,112.4 L329.78,112.4 L329.88,112.4 L329.98,112.4 L330.08,112.4 L330.17,112.4 L330.27,112.4 L330.37,112.4 L330.47,112.4 L330.57,112.4 L330.66,112.4 L330.76,112.39 L330.86,112.39 L330.96,112.39 L331.06,112.39 L331.15,112.39 L331.25,112.38 L331.35,112.38 L331.45,112.37 L331.55,112.37 L331.64,112.36 L331.74,112.35 L331.84,112.34 L331.94,112.32 L332.04,112.3 L332.13,112.28 L332.23,112.26 L332.33,112.23 L332.43,112.19 L332.53,112.14 L332.62,112.05 L332.72,111.92 L332.82,111.69 L332.92,111.28 L333.02,110.57 L333.11,109.36 L333.21,107.41 L333.31,104.39 L333.41,99.95 L333.51,93.81 L333.6,85.8 L333.7,76.03 L333.8,64.93 L333.9,53.31 L334,42.29 L334.09,33.13 L334.19,26.99 L334.29,24.7 L334.39,26.56 L334.49,32.28 L334.58,41.02 L334.68,51.63 L334.78,62.85 L334.88,73.55 L334.98,82.95 L335.07,90.59 L335.17,96.39 L335.27,100.5 L335.37,103.22 L335.47,104.9 L335.56,105.85 L335.66,106.33 L335.76,106.54 L335.86,106.61 L335.96,106.6 L336.05,106.57 L336.15,106.54 L336.25,106.51 L336.35,106.49 L336.45,106.45 L336.54,106.38 L336.64,106.21 L336.74,105.86 L336.84,105.22 L336.94,104.12 L337.03,102.36 L337.13,99.67 L337.23,95.82 L337.33,90.56 L337.43,83.78 L337.52,75.51 L337.62,66.01 L337.72,55.78 L337.82,45.56 L337.92,36.24 L338.01,28.76 L338.11,23.95 L338.21,22.35 L338.31,24.19 L338.41,29.25 L338.5,36.96 L338.6,46.51 L338.7,56.96 L338.8,67.4 L338.9,77.11 L338.99,85.57 L339.09,92.53 L339.19,97.96 L339.29,101.98 L339.39,104.81 L339.48,106.7 L339.58,107.92 L339.68,108.66 L339.78,109.09 L339.88,109.33 L339.97,109.47 L340.07,109.55 L340.17,109.61 L340.27,109.66 L340.37,109.72 L340.46,109.78 L340.56,109.85 L340.66,109.94 L340.76,110.03 L340.86,110.14 L340.95,110.25 L341.05,110.37 L341.15,110.49 L341.25,110.62 L341.35,110.74 L341.44,110.87 L341.54,111 L341.64,111.12 L341.74,111.23 L341.84,111.34 L341.93,111.44 L342.03,111.53 L342.13,111.61 L342.23,111.67 L342.33,111.72 L342.42,111.76 L342.52,111.77 L342.62,111.76 L342.72,111.72 L342.82,111.65 L342.91,111.54 L343.01,111.39 L343.11,111.2 L343.21,110.95 L343.31,110.63 L343.4,110.24 L343.5,109.77 L343.6,109.22 L343.7,108.56 L343.8,107.79 L343.89,106.9 L343.99,105.9 L344.09,104.76 L344.19,103.49 L344.29,102.09 L344.38,100.57 L344.48,98.92 L344.58,97.17 L344.68,95.32 L344.78,93.39 L344.87,91.41 L344.97,89.41 L345.07,87.42 L345.17,85.46 L345.27,83.58 L345.36,81.81 L345.46,80.18 L345.56,78.73 L345.66,77.49 L345.76,76.48 L345.85,75.74 L345.95,75.26 L346.05,75.07 L346.15,75.17 L346.25,75.55 L346.34,76.2 L346.44,77.11 L346.54,78.25 L346.64,79.6 L346.74,81.13 L346.83,82.8 L346.93,84.58 L347.03,86.42 L347.13,88.31 L347.23,90.2 L347.32,92.07 L347.42,93.88 L347.52,95.62 L347.62,97.27 L347.72,98.81 L347.81,100.24 L347.91,101.53 L348.01,102.71 L348.11,103.76 L348.21,104.69 L348.3,105.5 L348.4,106.21 L348.5,106.81 L348.6,107.34 L348.7,107.78 L348.79,108.15 L348.89,108.47 L348.99,108.74 L349.09,108.96 L349.19,109.15 L349.28,109.3 L349.38,109.41 L349.48,109.5 L349.58,109.55 L349.68,109.55 L349.77,109.5 L349.87,109.39 L349.97,109.2 L350.07,108.94 L350.17,108.58 L350.26,108.14 L350.36,107.62 L350.46,107.02 L350.56,106.39 L350.66,105.74 L350.75,105.13 L350.85,104.58 L350.95,104.15 L351.05,103.86 L351.15,103.75 L351.24,103.84 L351.34,104.11 L351.44,104.57 L351.54,105.17 L351.64,105.88 L351.73,106.66 L351.83,107.47 L351.93,108.26 L352.03,109.01 L352.13,109.68 L352.22,110.27 L352.32,110.77 L352.42,111.18 L352.52,111.5 L352.62,111.75 L352.71,111.94 L352.81,112.07 L352.91,112.17 L353.01,112.24 L353.11,112.29 L353.2,112.32 L353.3,112.34 L353.4,112.36 L353.5,112.37 L353.6,112.38 L353.69,112.38 L353.79,112.39 L353.89,112.39 L353.99,112.39 L354.09,112.39 L354.18,112.39 L354.28,112.4 L354.38,112.4 L354.48,112.4 L354.58,112.4 L354.67,112.4 L354.77,112.4 L354.87,112.4 L354.97,112.4 L355.07,112.4 L355.16,112.4 L355.26,112.4 L355.36,112.4 L355.46,112.4 L355.56,112.4 L355.65,112.4 L355.75,112.4 L355.85,112.4 L355.95,112.4 L356.05,112.4 L356.14,112.4 L356.24,112.4 L356.34,112.4 L356.44,112.4 L356.54,112.4 L356.63,112.4 L356.73,112.4 L356.83,112.4 L356.93,112.4 L357.03,112.4 L357.12,112.4 L357.22,112.4 L357.32,112.4 L357.42,112.4 L357.52,112.4 L357.61,112.4 L357.71,112.4 L357.81,112.4 L357.91,112.4 L358.01,112.4 L358.1,112.4 L358.2,112.4 L358.3,112.4 L358.4,112.4 L358.5,112.4 L358.59,112.4 L358.69,112.4 L358.79,112.4 L358.89,112.4 L358.99,112.4 L359.08,112.4 L359.18,112.4 L359.28,112.4 L359.38,112.4 L359.48,112.4 L359.57,112.4 L359.67,112.4 L359.77,112.4 L359.87,112.4 L359.97,112.4 L360.06,112.4 L360.16,112.4 L360.26,112.4 L360.36,112.4 L360.46,112.4 L360.55,112.4 L360.65,112.4 L360.75,112.4 L360.85,112.4 L360.95,112.4 L361.04,112.4 L361.14,112.4 L361.24,112.4 L361.34,112.4 L361.44,112.4 L361.53,112.4 L361.63,112.4 L361.73,112.4 L361.83,112.4 L361.93,112.4 L362.02,112.4 L362.12,112.4 L362.22,112.4 L362.32,112.4 L362.42,112.4 L362.51,112.4 L362.61,112.4 L362.71,112.4 L362.81,112.4 L362.91,112.4 L363,112.4 L363.1,112.4 L363.2,112.4 L363.3,112.4 L363.4,112.4 L363.49,112.4 L363.59,112.4 L363.69,112.4 L363.79,112.4 L363.89,112.4 L363.98,112.4 L364.08,112.4 L364.18,112.4 L364.28,112.4 L364.38,112.4 L364.47,112.4 L364.57,112.4 L364.67,112.4 L364.77,112.4 L364.87,112.4 L364.96,112.4 L365.06,112.4 L365.16,112.4 L365.26,112.4 L365.36,112.4 L365.45,112.4 L365.55,112.4 L365.65,112.4 L365.75,112.4 L365.85,112.4 L365.94,112.4 L366.04,112.4 L366.14,112.4 L366.24,112.4 L366.34,112.4 L366.43,112.4 L366.53,112.4 L366.63,112.4 L366.73,112.4 L366.83,112.4 L366.92,112.4 L367.02,112.4 L367.12,112.4 L367.22,112.4 L367.32,112.4 L367.41,112.4 L367.51,112.4 L367.61,112.4 L367.71,112.4 L367.81,112.4 L367.9,112.4 L368,112.4 L368.1,112.4 L368.2,112.4 L368.3,112.4 L368.39,112.4 L368.49,112.4 L368.59,112.4 L368.69,112.4 L368.79,112.4 L368.88,112.4 L368.98,112.4 L369.08,112.4 L369.18,112.4 L369.28,112.4 L369.37,112.4 L369.47,112.4 L369.57,112.4 L369.67,112.4 L369.77,112.4 L369.86,112.4 L369.96,112.4 L370.06,112.4 L370.16,112.4 L370.26,112.4 L370.35,112.4 L370.45,112.4 L370.55,112.4 L370.65,112.4 L370.75,112.4 L370.84,112.4 L370.94,112.4 L371.04,112.4 L371.14,112.4 L371.24,112.4 L371.33,112.4 L371.43,112.4 L371.53,112.4 L371.63,112.4 L371.73,112.4 L371.82,112.4 L371.92,112.4 L372.02,112.4 L372.12,112.4 L372.22,112.4 L372.31,112.4 L372.41,112.4 L372.51,112.4 L372.61,112.4 L372.71,112.4 L372.8,112.4 L372.9,112.4 L373,112.4 L373.1,112.4 L373.2,112.4 L373.29,112.4 L373.39,112.4 L373.49,112.4 L373.59,112.4 L373.69,112.4 L373.78,112.4 L373.88,112.4 L373.98,112.4 L374.08,112.4 L374.18,112.4 L374.27,112.4 L374.37,112.4 L374.47,112.4 L374.57,112.4 L374.67,112.4 L374.76,112.4 L374.86,112.4 L374.96,112.4 L375.06,112.4 L375.16,112.4 L375.25,112.4 L375.35,112.4 L375.45,112.4 L375.55,112.4 L375.65,112.4 L375.74,112.4 L375.84,112.4 L375.94,112.4 L376.04,112.4 L376.14,112.4 L376.23,112.4 L376.33,112.4 L376.43,112.4 L376.53,112.4 L376.63,112.4 L376.72,112.4 L376.82,112.4 L376.92,112.4 L377.02,112.4 L377.12,112.4 L377.21,112.4 L377.31,112.4 L377.41,112.4 L377.51,112.4 L377.61,112.4 L377.7,112.4 L377.8,112.4 L377.9,112.4 L378,112.4 L378.1,112.4 L378.19,112.4 L378.29,112.4 L378.39,112.4 L378.49,112.4 L378.59,112.4 L378.68,112.4 L378.78,112.4 L378.88,112.4 L378.98,112.4 L379.08,112.4 L379.17,112.4 L379.27,112.4 L379.37,112.4 L379.47,112.4 L379.57,112.4 L379.66,112.4 L379.76,112.4 L379.86,112.4 L379.96,112.4 L380.06,112.4 L380.15,112.4 L380.25,112.4 L380.35,112.4 L380.45,112.4 L380.55,112.4 L380.64,112.4 L380.74,112.4 L380.84,112.4 L380.94,112.4 L381.04,112.4 L381.13,112.4 L381.23,112.4 L381.33,112.4 L381.43,112.4 L381.53,112.4 L381.62,112.4 L381.72,112.4 L381.82,112.4 L381.92,112.4 L382.02,112.4 L382.11,112.4 L382.21,112.4 L382.31,112.4 L382.41,112.4 L382.51,112.4 L382.6,112.4 L382.7,112.4 L382.8,112.4 L382.9,112.4 L383,112.4 L383.09,112.4 L383.19,112.4 L383.29,112.4 L383.39,112.4 L383.49,112.4 L383.58,112.4 L383.68,112.4 L383.78,112.4 L383.88,112.4 L383.98,112.4 L384.07,112.4 L384.17,112.4 L384.27,112.4 L384.37,112.4 L384.47,112.4 L384.56,112.4 L384.66,112.4 L384.76,112.4 L384.86,112.4 L384.96,112.4 L385.05,112.4 L385.15,112.4 L385.25,112.4 L385.35,112.4 L385.45,112.4 L385.54,112.4 L385.64,112.4 L385.74,112.4 L385.84,112.4 L385.94,112.4 L386.03,112.4 L386.13,112.4 L386.23,112.4 L386.33,112.4 L386.43,112.4 L386.52,112.4 L386.62,112.4 L386.72,112.4 L386.82,112.4 L386.92,112.4 L387.01,112.4 L387.11,112.4 L387.21,112.4 L387.31,112.4 L387.41,112.4 L387.5,112.4 L387.6,112.4 L387.7,112.4 L387.8,112.4 L387.9,112.4 L387.99,112.4 L388.09,112.4 L388.19,112.4 L388.29,112.4 L388.39,112.4 L388.48,112.4 L388.58,112.4 L388.68,112.4 L388.78,112.4 L388.88,112.4 L388.97,112.4 L389.07,112.4 L389.17,112.4 L389.27,112.4 L389.37,112.4 L389.46,112.4 L389.56,112.4 L389.66,112.4 L389.76,112.4 L389.86,112.4 L389.95,112.4 L390.05,112.4 L390.15,112.4 L390.25,112.4 L390.35,112.4 L390.44,112.4 L390.54,112.4 L390.64,112.4 L390.74,112.4 L390.84,112.4 L390.93,112.4 L391.03,112.4 L391.13,112.4 L391.23,112.4 L391.33,112.4 L391.42,112.4 L391.52,112.4 L391.62,112.4 L391.72,112.4 L391.82,112.4 L391.91,112.4 L392.01,112.4 L392.11,112.4 L392.21,112.4 L392.31,112.4 L392.4,112.4 L392.5,112.4 L392.6,112.4 L392.7,112.4 L392.8,112.4 L392.89,112.4 L392.99,112.4 L393.09,112.4 L393.19,112.4 L393.29,112.4 L393.38,112.4 L393.48,112.4 L393.58,112.4 L393.68,112.4 L393.78,112.4 L393.87,112.4 L393.97,112.4 L394.07,112.4 L394.17,112.4 L394.27,112.4 L394.36,112.4 L394.46,112.4 L394.56,112.4 L394.66,112.4 L394.76,112.4 L394.85,112.4 L394.95,112.4 L395.05,112.4 L395.15,112.4 L395.25,112.4 L395.34,112.4 L395.44,112.4 L395.54,112.4 L395.64,112.4 L395.74,112.4 L395.83,112.4 L395.93,112.4 L396.03,112.4 L396.13,112.4 L396.23,112.4 L396.32,112.4 L396.42,112.4 L396.52,112.4 L396.62,112.4 L396.72,112.4 L396.81,112.4 L396.91,112.4 L397.01,112.4 L397.11,112.4 L397.21,112.4 L397.3,112.4 L397.4,112.4 L397.5,112.4 L397.6,112.4 L397.7,112.4 L397.79,112.4 L397.89,112.4 L397.99,112.4 L398.09,112.4 L398.19,112.4 L398.28,112.4 L398.38,112.4 L398.48,112.4 L398.58,112.4 L398.68,112.4 L398.77,112.4 L398.87,112.4 L398.97,112.4 L399.07,112.4 L399.17,112.4 L399.26,112.4 L399.36,112.4 L399.46,112.4 L399.56,112.4 L399.66,112.4 L399.75,112.4 L399.85,112.4 L399.95,112.4 L400.05,112.4 L400.15,112.4 L400.24,112.4 L400.34,112.4 L400.44,112.4 L400.54,112.4 L400.64,112.4 L400.73,112.4 L400.83,112.4 L400.93,112.4 L401.03,112.4 L401.13,112.4 L401.22,112.4 L401.32,112.4 L401.42,112.4 L401.52,112.4 L401.62,112.4 L401.71,112.4 L401.81,112.4 L401.91,112.4 L402.01,112.4 L402.11,112.4 L402.2,112.4 L402.3,112.4 L402.4,112.4 L402.5,112.4 L402.6,112.4 L402.69,112.4 L402.79,112.4 L402.89,112.4 L402.99,112.4 L403.09,112.4 L403.18,112.4 L403.28,112.4 L403.38,112.4 L403.48,112.4 L403.58,112.4 L403.67,112.4 L403.77,112.4 L403.87,112.4 L403.97,112.4 L404.07,112.4 L404.16,112.4 L404.26,112.4 L404.36,112.4 L404.46,112.4 L404.56,112.4 L404.65,112.4 L404.75,112.4 L404.85,112.4 L404.95,112.4 L405.05,112.4 L405.14,112.4 L405.24,112.4 L405.34,112.4 L405.44,112.4 L405.54,112.4 L405.63,112.4 L405.73,112.4 L405.83,112.4 L405.93,112.4 L406.03,112.4 L406.12,112.4 L406.22,112.4 L406.32,112.4 L406.42,112.4 L406.52,112.4 L406.61,112.4 L406.71,112.4 L406.81,112.4 L406.91,112.4 L407.01,112.4 L407.1,112.4 L407.2,112.4 L407.3,112.4 L407.4,112.4 L407.5,112.4 L407.59,112.4 L407.69,112.4 L407.79,112.4 L407.89,112.4 L407.99,112.4 L408.08,112.4 L408.18,112.4 L408.28,112.4 L408.38,112.4 L408.48,112.4 L408.57,112.4 L408.67,112.4 L408.77,112.4 L408.87,112.4 L408.97,112.4 L409.06,112.4 L409.16,112.4 L409.26,112.4 L409.36,112.4 L409.46,112.4 L409.55,112.4 L409.65,112.4 L409.75,112.4 L409.85,112.4 L409.95,112.4 L410.04,112.4 L410.14,112.4 L410.24,112.4 L410.34,112.4 L410.44,112.4 L410.53,112.4 L410.63,112.4 L410.73,112.4 L410.83,112.4 L410.93,112.4 L411.02,112.4 L411.12,112.4 L411.22,112.4 L411.32,112.4 L411.42,112.4 L411.51,112.4 L411.61,112.4 L411.71,112.4 L411.81,112.4 L411.91,112.4 L412,112.4 L412.1,112.4 L412.2,112.4 L412.3,112.4 L412.4,112.4 L412.49,112.4 L412.59,112.4 L412.69,112.4 L412.79,112.4 L412.89,112.4 L412.98,112.4 L413.08,112.4 L413.18,112.4 L413.28,112.4 L413.38,112.4 L413.47,112.4 L413.57,112.4 L413.67,112.4 L413.77,112.4 L413.87,112.4 L413.96,112.4 L414.06,112.4 L414.16,112.4 L414.26,112.4 L414.36,112.4 L414.45,112.4 L414.55,112.4 L414.65,112.4 L414.75,112.4 L414.85,112.4 L414.94,112.4 L415.04,112.4 L415.14,112.4 L415.24,112.4 L415.34,112.4 L415.43,112.4 L415.53,112.4 L415.63,112.4 L415.73,112.4 L415.83,112.4 L415.92,112.4 L416.02,112.4 L416.12,112.4 L416.22,112.4 L416.32,112.4 L416.41,112.4 L416.51,112.4 L416.61,112.4 L416.71,112.4 L416.81,112.4 L416.9,112.4 L417,112.4 L417.1,112.4 L417.2,112.4 L417.3,112.4 L417.39,112.4 L417.49,112.4 L417.59,112.4 L417.69,112.4 L417.79,112.4 L417.88,112.4 L417.98,112.4 L418.08,112.4 L418.18,112.4 L418.28,112.4 L418.37,112.4 L418.47,112.4 L418.57,112.4 L418.67,112.4 L418.77,112.4 L418.86,112.4 L418.96,112.4 L419.06,112.4 L419.16,112.4 L419.26,112.4 L419.35,112.4 L419.45,112.4 L419.55,112.4 L419.65,112.4 L419.75,112.4 L419.84,112.4 L419.94,112.4 L420.04,112.4 L420.14,112.4 L420.24,112.4 L420.33,112.4 L420.43,112.4 L420.53,112.4 L420.63,112.4 L420.73,112.4 L420.82,112.4 L420.92,112.4 L421.02,112.4 L421.12,112.4 L421.22,112.4 L421.31,112.4 L421.41,112.4 L421.51,112.4 L421.61,112.4 L421.71,112.4 L421.8,112.4 L421.9,112.4 L422,112.4 L422.1,112.4 L422.2,112.4 L422.29,112.4 L422.39,112.4 L422.49,112.4 L422.59,112.4 L422.69,112.4 L422.78,112.4 L422.88,112.4 L422.98,112.4 L423.08,112.4 L423.18,112.4 L423.27,112.4 L423.37,112.4 L423.47,112.4 L423.57,112.4 L423.67,112.4 L423.76,112.4 L423.86,112.4 L423.96,112.4 L424.06,112.4 L424.16,112.4 L424.25,112.4 L424.35,112.4 L424.45,112.4 L424.55,112.4 L424.65,112.4 L424.74,112.4 L424.84,112.4 L424.94,112.4 L425.04,112.4 L425.14,112.4 L425.23,112.4 L425.33,112.4 L425.43,112.4 L425.53,112.4 L425.63,112.4 L425.72,112.4 L425.82,112.4 L425.92,112.4 L426.02,112.4 L426.12,112.4 L426.21,112.4 L426.31,112.4 L426.41,112.4 L426.51,112.4 L426.61,112.4 L426.7,112.4 L426.8,112.4 L426.9,112.4 L427,112.4 L427.1,112.4 L427.19,112.4 L427.29,112.4 L427.39,112.4 L427.49,112.4 L427.59,112.4 L427.68,112.4 L427.78,112.4 L427.88,112.4 L427.98,112.4 L428.08,112.4 L428.17,112.4 L428.27,112.4 L428.37,112.4 L428.47,112.4 L428.57,112.4 L428.66,112.4 L428.76,112.4 L428.86,112.4 L428.96,112.4 L429.06,112.4 L429.15,112.4 L429.25,112.4 L429.35,112.4 L429.45,112.4 L429.55,112.4 L429.64,112.4 L429.74,112.4 L429.84,112.4 L429.94,112.4 L430.04,112.4 L430.13,112.4 L430.23,112.4 L430.33,112.4 L430.43,112.4 L430.53,112.4 L430.62,112.4 L430.72,112.4 L430.82,112.4 L430.92,112.4 L431.02,112.4 L431.11,112.4 L431.21,112.4 L431.31,112.4 L431.41,112.4 L431.51,112.4 L431.6,112.4 L431.7,112.4 L431.8,112.4 L431.9,112.4 L432,112.4 L432.09,112.4 L432.19,112.4 L432.29,112.4 L432.39,112.4 L432.49,112.4 L432.58,112.4 L432.68,112.4 L432.78,112.4 L432.88,112.4 L432.98,112.4 L433.07,112.4 L433.17,112.4 L433.27,112.4 L433.37,112.4 L433.47,112.4 L433.56,112.4 L433.66,112.4 L433.76,112.4 L433.86,112.4 L433.96,112.4 L434.05,112.4 L434.15,112.4 L434.25,112.4 L434.35,112.4 L434.45,112.4 L434.54,112.4 L434.64,112.4 L434.74,112.4 L434.84,112.4 L434.94,112.4 L435.03,112.4 L435.13,112.4 L435.23,112.4 L435.33,112.4 L435.43,112.4 L435.52,112.4 L435.62,112.4 L435.72,112.4 L435.82,112.4 L435.92,112.4 L436.01,112.4 L436.11,112.4 L436.21,112.4 L436.31,112.4 L436.41,112.4 L436.5,112.4 L436.6,112.4 L436.7,112.4 L436.8,112.4 L436.9,112.4 L436.99,112.4 L437.09,112.4 L437.19,112.4 L437.29,112.4 L437.39,112.4 L437.48,112.4 L437.58,112.4 L437.68,112.4 L437.78,112.4 L437.88,112.4 L437.97,112.4 L438.07,112.4 L438.17,112.4 L438.27,112.4 L438.37,112.4 L438.46,112.4 L438.56,112.4 L438.66,112.4 L438.76,112.4 L438.86,112.4 L438.95,112.4 L439.05,112.4 L439.15,112.4 L439.25,112.4 L439.35,112.4 L439.44,112.4 L439.54,112.4 L439.64,112.4 L439.74,112.4 L439.84,112.4 L439.93,112.4 L440.03,112.4 L440.13,112.4 L440.23,112.4 L440.33,112.4 L440.42,112.4 L440.52,112.4 L440.62,112.4 L440.72,112.4 L440.82,112.4 L440.91,112.4 L441.01,112.4 L441.11,112.4 L441.21,112.4 L441.31,112.4 L441.4,112.4 L441.5,112.4 L441.6,112.4 L441.7,112.4 L441.8,112.4 L441.89,112.4 L441.99,112.4 L442.09,112.4 L442.19,112.4 L442.29,112.4 L442.38,112.4 L442.48,112.4 L442.58,112.4 L442.68,112.4 L442.78,112.4 L442.87,112.4 L442.97,112.4 L443.07,112.4 L443.17,112.4 L443.27,112.4 L443.36,112.4 L443.46,112.4 L443.56,112.4 L443.66,112.4 L443.76,112.4 L443.85,112.4 L443.95,112.4 L444.05,112.4 L444.15,112.4 L444.25,112.4 L444.34,112.4 L444.44,112.4 L444.54,112.4 L444.64,112.4 L444.74,112.4 L444.83,112.4 L444.93,112.4 L445.03,112.4 L445.13,112.4 L445.23,112.4 L445.32,112.4 L445.42,112.4 L445.52,112.4 L445.62,112.4 L445.72,112.4 L445.81,112.4 L445.91,112.4 L446.01,112.4 L446.11,112.4 L446.21,112.4 L446.3,112.4 L446.4,112.4 L446.5,112.4" stroke="#3c3c3c" stroke-width="0.9" fill="none" stroke-linejoin="round"/>
<path d="M299.5,112.4 L299.6,112.4 L299.7,112.4 L299.79,112.4 L299.89,112.4 L299.99,112.4 L300.09,112.4 L300.19,112.4 L300.28,112.4 L300.38,112.4 L300.48,112.4 L300.58,112.4 L300.68,112.4 L300.77,112.4 L300.87,112.4 L300.97,112.4 L301.07,112.4 L301.17,112.4 L301.26,112.4 L301.36,112.4 L301.46,112.4 L301.56,112.4 L301.66,112.4 L301.75,112.4 L301.85,112.4 L301.95,112.4 L302.05,112.4 L302.15,112.4 L302.24,112.4 L302.34,112.4 L302.44,112.4 L302.54,112.4 L302.64,112.4 L302.73,112.4 L302.83,112.4 L302.93,112.4 L303.03,112.4 L303.13,112.4 L303.22,112.4 L303.32,112.4 L303.42,112.4 L303.52,112.4 L303.62,112.4 L303.71,112.4 L303.81,112.4 L303.91,112.4 L304.01,112.4 L304.11,112.4 L304.2,112.4 L304.3,112.4 L304.4,112.4 L304.5,112.4 L304.6,112.4 L304.69,112.4 L304.79,112.4 L304.89,112.4 L304.99,112.4 L305.09,112.4 L305.18,112.4 L305.28,112.4 L305.38,112.4 L305.48,112.4 L305.58,112.4 L305.67,112.4 L305.77,112.4 L305.87,112.4 L305.97,112.4 L306.07,112.4 L306.16,112.4 L306.26,112.4 L306.36,112.4 L306.46,112.4 L306.56,112.4 L306.65,112.4 L306.75,112.4 L306.85,112.4 L306.95,112.4 L307.05,112.4 L307.14,112.4 L307.24,112.4 L307.34,112.4 L307.44,112.4 L307.54,112.4 L307.63,112.4 L307.73,112.4 L307.83,112.4 L307.93,112.4 L308.03,112.4 L308.12,112.4 L308.22,112.4 L308.32,112.4 L308.42,112.4 L308.52,112.4 L308.61,112.4 L308.71,112.4 L308.81,112.4 L308.91,112.4 L309.01,112.4 L309.1,112.4 L309.2,112.4 L309.3,112.4 L309.4,112.4 L309.5,112.4 L309.59,112.4 L309.69,112.4 L309.79,112.4 L309.89,112.4 L309.99,112.4 L310.08,112.4 L310.18,112.4 L310.28,112.4 L310.38,112.4 L310.48,112.4 L310.57,112.4 L310.67,112.4 L310.77,112.4 L310.87,112.4 L310.97,112.4 L311.06,112.4 L311.16,112.4 L311.26,112.4 L311.36,112.4 L311.46,112.4 L311.55,112.4 L311.65,112.4 L311.75,112.4 L311.85,112.4 L311.95,112.4 L312.04,112.4 L312.14,112.4 L312.24,112.4 L312.34,112.4 L312.44,112.4 L312.53,112.4 L312.63,112.4 L312.73,112.4 L312.83,112.4 L312.93,112.4 L313.02,112.4 L313.12,112.4 L313.22,112.4 L313.32,112.4 L313.42,112.4 L313.51,112.4 L313.61,112.4 L313.71,112.4 L313.81,112.4 L313.91,112.4 L314,112.4 L314.1,112.4 L314.2,112.4 L314.3,112.4 L314.4,112.4 L314.49,112.4 L314.59,112.4 L314.69,112.4 L314.79,112.4 L314.89,112.4 L314.98,112.4 L315.08,112.4 L315.18,112.4 L315.28,112.4 L315.38,112.4 L315.47,112.4 L315.57,112.4 L315.67,112.4 L315.77,112.4 L315.87,112.4 L315.96,112.4 L316.06,112.4 L316.16,112.4 L316.26,112.4 L316.36,112.4 L316.45,112.4 L316.55,112.4 L316.65,112.4 L316.75,112.4 L316.85,112.4 L316.94,112.4 L317.04,112.4 L317.14,112.4 L317.24,112.4 L317.34,112.4 L317.43,112.4 L317.53,112.4 L317.63,112.4 L317.73,112.4 L317.83,112.4 L317.92,112.4 L318.02,112.4 L318.12,112.39 L318.22,112.39 L318.32,112.39 L318.41,112.39 L318.51,112.39 L318.61,112.39 L318.71,112.39 L318.81,112.39 L318.9,112.39 L319,112.39 L319.1,112.39 L319.2,112.39 L319.3,112.39 L319.39,112.39 L319.49,112.39 L319.59,112.39 L319.69,112.39 L319.79,112.39 L319.88,112.39 L319.98,112.39 L320.08,112.39 L320.18,112.39 L320.28,112.39 L320.37,112.39 L320.47,112.39 L320.57,112.39 L320.67,112.39 L320.77,112.39 L320.86,112.39 L320.96,112.39 L321.06,112.39 L321.16,112.38 L321.26,112.38 L321.35,112.38 L321.45,112.38 L321.55,112.38 L321.65,112.38 L321.75,112.38 L321.84,112.38 L321.94,112.38 L322.04,112.38 L322.14,112.38 L322.24,112.38 L322.33,112.38 L322.43,112.38 L322.53,112.38 L322.63,112.38 L322.73,112.37 L322.82,112.37 L322.92,112.37 L323.02,112.37 L323.12,112.37 L323.22,112.37 L323.31,112.37 L323.41,112.37 L323.51,112.37 L323.61,112.37 L323.71,112.37 L323.8,112.36 L323.9,112.36 L324,112.36 L324.1,112.36 L324.2,112.36 L324.29,112.36 L324.39,112.36 L324.49,112.36 L324.59,112.35 L324.69,112.35 L324.78,112.35 L324.88,112.35 L324.98,112.35 L325.08,112.35 L325.18,112.35 L325.27,112.34 L325.37,112.34 L325.47,112.34 L325.57,112.34 L325.67,112.34 L325.76,112.34 L325.86,112.34 L325.96,112.33 L326.06,112.33 L326.16,112.33 L326.25,112.33 L326.35,112.33 L326.45,112.32 L326.55,112.32 L326.65,112.32 L326.74,112.32 L326.84,112.32 L326.94,112.31 L327.04,112.31 L327.14,112.31 L327.23,112.31 L327.33,112.3 L327.43,112.3 L327.53,112.3 L327.63,112.3 L327.72,112.29 L327.82,112.29 L327.92,112.29 L328.02,112.29 L328.12,112.28 L328.21,112.28 L328.31,112.28 L328.41,112.27 L328.51,112.27 L328.61,112.27 L328.7,112.27 L328.8,112.26 L328.9,112.26 L329,112.26 L329.1,112.25 L329.19,112.25 L329.29,112.25 L329.39,112.24 L329.49,112.24 L329.59,112.24 L329.68,112.23 L329.78,112.23 L329.88,112.22 L329.98,112.22 L330.08,112.22 L330.17,112.21 L330.27,112.21 L330.37,112.2 L330.47,112.2 L330.57,112.2 L330.66,112.19 L330.76,112.19 L330.86,112.18 L330.96,112.18 L331.06,112.17 L331.15,112.17 L331.25,112.17 L331.35,112.16 L331.45,112.16 L331.55,112.15 L331.64,112.14 L331.74,112.14 L331.84,112.13 L331.94,112.12 L332.04,112.11 L332.13,112.1 L332.23,112.07 L332.33,112.04 L332.43,111.98 L332.53,111.89 L332.62,111.75 L332.72,111.52 L332.82,111.16 L332.92,110.63 L333.02,109.86 L333.11,108.78 L333.21,107.3 L333.31,105.38 L333.41,102.97 L333.51,100.07 L333.6,96.74 L333.7,93.09 L333.8,89.31 L333.9,85.63 L334,82.31 L334.09,79.61 L334.19,77.75 L334.29,76.89 L334.39,77.07 L334.49,78.26 L334.58,80.31 L334.68,83 L334.78,86.1 L334.88,89.34 L334.98,92.5 L335.07,95.4 L335.17,97.94 L335.27,100.06 L335.37,101.76 L335.47,103.08 L335.56,104.09 L335.66,104.86 L335.76,105.45 L335.86,105.92 L335.96,106.33 L336.05,106.7 L336.15,107.05 L336.25,107.4 L336.35,107.74 L336.45,108.07 L336.54,108.39 L336.64,108.69 L336.74,108.94 L336.84,109.15 L336.94,109.3 L337.03,109.38 L337.13,109.39 L337.23,109.34 L337.33,109.23 L337.43,109.09 L337.52,108.95 L337.62,108.84 L337.72,108.77 L337.82,108.78 L337.92,108.88 L338.01,109.06 L338.11,109.32 L338.21,109.62 L338.31,109.96 L338.41,110.29 L338.5,110.6 L338.6,110.87 L338.7,111.09 L338.8,111.27 L338.9,111.39 L338.99,111.49 L339.09,111.55 L339.19,111.58 L339.29,111.6 L339.39,111.61 L339.48,111.61 L339.58,111.61 L339.68,111.61 L339.78,111.6 L339.88,111.6 L339.97,111.59 L340.07,111.59 L340.17,111.58 L340.27,111.57 L340.37,111.57 L340.46,111.56 L340.56,111.55 L340.66,111.55 L340.76,111.54 L340.86,111.54 L340.95,111.53 L341.05,111.52 L341.15,111.52 L341.25,111.51 L341.35,111.51 L341.44,111.5 L341.54,111.5 L341.64,111.49 L341.74,111.49 L341.84,111.48 L341.93,111.48 L342.03,111.47 L342.13,111.47 L342.23,111.46 L342.33,111.46 L342.42,111.45 L342.52,111.45 L342.62,111.44 L342.72,111.44 L342.82,111.43 L342.91,111.43 L343.01,111.43 L343.11,111.42 L343.21,111.42 L343.31,111.41 L343.4,111.41 L343.5,111.41 L343.6,111.4 L343.7,111.4 L343.8,111.4 L343.89,111.39 L343.99,111.39 L344.09,111.39 L344.19,111.39 L344.29,111.38 L344.38,111.38 L344.48,111.38 L344.58,111.38 L344.68,111.38 L344.78,111.37 L344.87,111.37 L344.97,111.37 L345.07,111.37 L345.17,111.37 L345.27,111.37 L345.36,111.37 L345.46,111.36 L345.56,111.36 L345.66,111.36 L345.76,111.36 L345.85,111.36 L345.95,111.36 L346.05,111.36 L346.15,111.36 L346.25,111.36 L346.34,111.36 L346.44,111.36 L346.54,111.36 L346.64,111.36 L346.74,111.37 L346.83,111.37 L346.93,111.37 L347.03,111.37 L347.13,111.37 L347.23,111.37 L347.32,111.37 L347.42,111.38 L347.52,111.38 L347.62,111.38 L347.72,111.38 L347.81,111.38 L347.91,111.39 L348.01,111.39 L348.11,111.39 L348.21,111.39 L348.3,111.4 L348.4,111.4 L348.5,111.4 L348.6,111.41 L348.7,111.41 L348.79,111.41 L348.89,111.42 L348.99,111.42 L349.09,111.43 L349.19,111.43 L349.28,111.43 L349.38,111.44 L349.48,111.44 L349.58,111.45 L349.68,111.45 L349.77,111.46 L349.87,111.46 L349.97,111.47 L350.07,111.47 L350.17,111.48 L350.26,111.48 L350.36,111.49 L350.46,111.49 L350.56,111.5 L350.66,111.5 L350.75,111.51 L350.85,111.51 L350.95,111.52 L351.05,111.52 L351.15,111.53 L351.24,111.54 L351.34,111.54 L351.44,111.55 L351.54,111.55 L351.64,111.56 L351.73,111.57 L351.83,111.57 L351.93,111.58 L352.03,111.59 L352.13,111.59 L352.22,111.6 L352.32,111.61 L352.42,111.61 L352.52,111.62 L352.62,111.63 L352.71,111.63 L352.81,111.64 L352.91,111.65 L353.01,111.65 L353.11,111.66 L353.2,111.67 L353.3,111.67 L353.4,111.68 L353.5,111.69 L353.6,111.7 L353.69,111.7 L353.79,111.71 L353.89,111.72 L353.99,111.72 L354.09,111.73 L354.18,111.74 L354.28,111.75 L354.38,111.75 L354.48,111.76 L354.58,111.77 L354.67,111.77 L354.77,111.78 L354.87,111.79 L354.97,111.8 L355.07,111.8 L355.16,111.81 L355.26,111.82 L355.36,111.82 L355.46,111.83 L355.56,111.84 L355.65,111.85 L355.75,111.85 L355.85,111.86 L355.95,111.87 L356.05,111.87 L356.14,111.88 L356.24,111.89 L356.34,111.89 L356.44,111.9 L356.54,111.91 L356.63,111.92 L356.73,111.92 L356.83,111.93 L356.93,111.94 L357.03,111.94 L357.12,111.95 L357.22,111.96 L357.32,111.96 L357.42,111.97 L357.52,111.98 L357.61,111.98 L357.71,111.99 L357.81,111.99 L357.91,112 L358.01,112.01 L358.1,112.01 L358.2,112.02 L358.3,112.03 L358.4,112.03 L358.5,112.04 L358.59,112.04 L358.69,112.05 L358.79,112.06 L358.89,112.06 L358.99,112.07 L359.08,112.07 L359.18,112.08 L359.28,112.08 L359.38,112.09 L359.48,112.1 L359.57,112.1 L359.67,112.11 L359.77,112.11 L359.87,112.12 L359.97,112.12 L360.06,112.13 L360.16,112.13 L360.26,112.14 L360.36,112.14 L360.46,112.15 L360.55,112.15 L360.65,112.16 L360.75,112.16 L360.85,112.17 L360.95,112.17 L361.04,112.17 L361.14,112.18 L361.24,112.18 L361.34,112.18 L361.44,112.17 L361.53,112.16 L361.63,112.14 L361.73,112.11 L361.83,112.07 L361.93,112 L362.02,111.91 L362.12,111.78 L362.22,111.61 L362.32,111.39 L362.42,111.12 L362.51,110.81 L362.61,110.44 L362.71,110.03 L362.81,109.6 L362.91,109.17 L363,108.75 L363.1,108.37 L363.2,108.07 L363.3,107.85 L363.4,107.74 L363.49,107.74 L363.59,107.86 L363.69,108.08 L363.79,108.4 L363.89,108.78 L363.98,109.2 L364.08,109.64 L364.18,110.08 L364.28,110.49 L364.38,110.86 L364.47,111.19 L364.57,111.46 L364.67,111.69 L364.77,111.86 L364.87,112 L364.96,112.1 L365.06,112.17 L365.16,112.22 L365.26,112.26 L365.36,112.28 L365.45,112.3 L365.55,112.31 L365.65,112.32 L365.75,112.32 L365.85,112.33 L365.94,112.33 L366.04,112.33 L366.14,112.33 L366.24,112.33 L366.34,112.34 L366.43,112.34 L366.53,112.34 L366.63,112.34 L366.73,112.34 L366.83,112.34 L366.92,112.35 L367.02,112.35 L367.12,112.35 L367.22,112.35 L367.32,112.35 L367.41,112.35 L367.51,112.35 L367.61,112.36 L367.71,112.36 L367.81,112.36 L367.9,112.36 L368,112.36 L368.1,112.36 L368.2,112.36 L368.3,112.36 L368.39,112.36 L368.49,112.36 L368.59,112.36 L368.69,112.36 L368.79,112.36 L368.88,112.36 L368.98,112.35 L369.08,112.34 L369.18,112.33 L369.28,112.31 L369.37,112.28 L369.47,112.24 L369.57,112.19 L369.67,112.12 L369.77,112.03 L369.86,111.9 L369.96,111.74 L370.06,111.54 L370.16,111.28 L370.26,110.95 L370.35,110.54 L370.45,110.05 L370.55,109.45 L370.65,108.75 L370.75,107.92 L370.84,106.97 L370.94,105.88 L371.04,104.66 L371.14,103.32 L371.24,101.86 L371.33,100.29 L371.43,98.65 L371.53,96.95 L371.63,95.24 L371.73,93.55 L371.82,91.92 L371.92,90.39 L372.02,89.01 L372.12,87.81 L372.22,86.84 L372.31,86.12 L372.41,85.68 L372.51,85.53 L372.61,85.68 L372.71,86.12 L372.8,86.84 L372.9,87.81 L373,89.01 L373.1,90.39 L373.2,91.92 L373.29,93.55 L373.39,95.25 L373.49,96.96 L373.59,98.66 L373.69,100.3 L373.78,101.86 L373.88,103.33 L373.98,104.67 L374.08,105.89 L374.18,106.98 L374.27,107.93 L374.37,108.76 L374.47,109.47 L374.57,110.06 L374.67,110.56 L374.76,110.96 L374.86,111.29 L374.96,111.55 L375.06,111.76 L375.16,111.92 L375.25,112.05 L375.35,112.14 L375.45,112.21 L375.55,112.27 L375.65,112.31 L375.74,112.33 L375.84,112.35 L375.94,112.37 L376.04,112.38 L376.14,112.38 L376.23,112.39 L376.33,112.39 L376.43,112.39 L376.53,112.4 L376.63,112.4 L376.72,112.4 L376.82,112.4 L376.92,112.4 L377.02,112.4 L377.12,112.4 L377.21,112.4 L377.31,112.4 L377.41,112.4 L377.51,112.4 L377.61,112.4 L377.7,112.4 L377.8,112.4 L377.9,112.4 L378,112.4 L378.1,112.4 L378.19,112.4 L378.29,112.4 L378.39,112.4 L378.49,112.4 L378.59,112.4 L378.68,112.4 L378.78,112.4 L378.88,112.4 L378.98,112.4 L379.08,112.4 L379.17,112.4 L379.27,112.4 L379.37,112.4 L379.47,112.4 L379.57,112.4 L379.66,112.4 L379.76,112.4 L379.86,112.4 L379.96,112.4 L380.06,112.4 L380.15,112.4 L380.25,112.4 L380.35,112.4 L380.45,112.4 L380.55,112.4 L380.64,112.4 L380.74,112.4 L380.84,112.4 L380.94,112.4 L381.04,112.4 L381.13,112.4 L381.23,112.4 L381.33,112.4 L381.43,112.4 L381.53,112.4 L381.62,112.4 L381.72,112.4 L381.82,112.4 L381.92,112.4 L382.02,112.4 L382.11,112.4 L382.21,112.4 L382.31,112.4 L382.41,112.4 L382.51,112.4 L382.6,112.4 L382.7,112.4 L382.8,112.4 L382.9,112.4 L383,112.4 L383.09,112.4 L383.19,112.4 L383.29,112.4 L383.39,112.4 L383.49,112.4 L383.58,112.4 L383.68,112.4 L383.78,112.4 L383.88,112.4 L383.98,112.4 L384.07,112.4 L384.17,112.4 L384.27,112.4 L384.37,112.4 L384.47,112.4 L384.56,112.4 L384.66,112.4 L384.76,112.4 L384.86,112.4 L384.96,112.4 L385.05,112.4 L385.15,112.4 L385.25,112.4 L385.35,112.4 L385.45,112.4 L385.54,112.4 L385.64,112.4 L385.74,112.4 L385.84,112.4 L385.94,112.4 L386.03,112.4 L386.13,112.4 L386.23,112.4 L386.33,112.4 L386.43,112.4 L386.52,112.4 L386.62,112.4 L386.72,112.4 L386.82,112.4 L386.92,112.4 L387.01,112.4 L387.11,112.4 L387.21,112.4 L387.31,112.4 L387.41,112.4 L387.5,112.4 L387.6,112.4 L387.7,112.4 L387.8,112.4 L387.9,112.4 L387.99,112.4 L388.09,112.4 L388.19,112.4 L388.29,112.4 L388.39,112.4 L388.48,112.4 L388.58,112.4 L388.68,112.4 L388.78,112.4 L388.88,112.4 L388.97,112.4 L389.07,112.4 L389.17,112.4 L389.27,112.4 L389.37,112.4 L389.46,112.4 L389.56,112.4 L389.66,112.4 L389.76,112.4 L389.86,112.4 L389.95,112.4 L390.05,112.4 L390.15,112.4 L390.25,112.4 L390.35,112.4 L390.44,112.4 L390.54,112.4 L390.64,112.4 L390.74,112.4 L390.84,112.4 L390.93,112.4 L391.03,112.4 L391.13,112.39 L391.23,112.39 L391.33,112.39 L391.42,112.39 L391.52,112.38 L391.62,112.38 L391.72,112.38 L391.82,112.37 L391.91,112.36 L392.01,112.36 L392.11,112.35 L392.21,112.33 L392.31,112.32 L392.4,112.31 L392.5,112.29 L392.6,112.27 L392.7,112.25 L392.8,112.22 L392.89,112.19 L392.99,112.16 L393.09,112.13 L393.19,112.09 L393.29,112.05 L393.38,112.01 L393.48,111.97 L393.58,111.93 L393.68,111.88 L393.78,111.83 L393.87,111.79 L393.97,111.74 L394.07,111.69 L394.17,111.65 L394.27,111.61 L394.36,111.57 L394.46,111.53 L394.56,111.5 L394.66,111.48 L394.76,111.45 L394.85,111.44 L394.95,111.43 L395.05,111.43 L395.15,111.43 L395.25,111.44 L395.34,111.45 L395.44,111.47 L395.54,111.5 L395.64,111.53 L395.74,111.56 L395.83,111.6 L395.93,111.64 L396.03,111.68 L396.13,111.72 L396.23,111.76 L396.32,111.8 L396.42,111.84 L396.52,111.88 L396.62,111.91 L396.72,111.94 L396.81,111.96 L396.91,111.97 L397.01,111.98 L397.11,111.98 L397.21,111.97 L397.3,111.95 L397.4,111.92 L397.5,111.87 L397.6,111.81 L397.7,111.73 L397.79,111.63 L397.89,111.51 L397.99,111.37 L398.09,111.2 L398.19,111 L398.28,110.77 L398.38,110.5 L398.48,110.2 L398.58,109.85 L398.68,109.45 L398.77,109.01 L398.87,108.51 L398.97,107.95 L399.07,107.33 L399.17,106.65 L399.26,105.89 L399.36,105.07 L399.46,104.17 L399.56,103.2 L399.66,102.15 L399.75,101.03 L399.85,99.83 L399.95,98.55 L400.05,97.21 L400.15,95.79 L400.24,94.32 L400.34,92.78 L400.44,91.2 L400.54,89.57 L400.64,87.92 L400.73,86.24 L400.83,84.55 L400.93,82.87 L401.03,81.2 L401.13,79.57 L401.22,77.98 L401.32,76.44 L401.42,74.99 L401.52,73.61 L401.62,72.35 L401.71,71.19 L401.81,70.16 L401.91,69.28 L402.01,68.53 L402.11,67.95 L402.2,67.53 L402.3,67.27 L402.4,67.19 L402.5,67.27 L402.6,67.53 L402.69,67.95 L402.79,68.53 L402.89,69.28 L402.99,70.16 L403.09,71.19 L403.18,72.35 L403.28,73.61 L403.38,74.99 L403.48,76.44 L403.58,77.98 L403.67,79.57 L403.77,81.2 L403.87,82.87 L403.97,84.55 L404.07,86.24 L404.16,87.92 L404.26,89.57 L404.36,91.2 L404.46,92.78 L404.56,94.32 L404.65,95.79 L404.75,97.21 L404.85,98.55 L404.95,99.83 L405.05,101.03 L405.14,102.15 L405.24,103.2 L405.34,104.17 L405.44,105.07 L405.54,105.9 L405.63,106.65 L405.73,107.33 L405.83,107.95 L405.93,108.51 L406.03,109.02 L406.12,109.46 L406.22,109.86 L406.32,110.21 L406.42,110.53 L406.52,110.8 L406.61,111.04 L406.71,111.24 L406.81,111.42 L406.91,111.58 L407.01,111.71 L407.1,111.82 L407.2,111.92 L407.3,112 L407.4,112.07 L407.5,112.13 L407.59,112.18 L407.69,112.22 L407.79,112.25 L407.89,112.28 L407.99,112.3 L408.08,112.32 L408.18,112.34 L408.28,112.35 L408.38,112.36 L408.48,112.37 L408.57,112.38 L408.67,112.38 L408.77,112.38 L408.87,112.39 L408.97,112.39 L409.06,112.39 L409.16,112.39 L409.26,112.4 L409.36,112.4 L409.46,112.4 L409.55,112.4 L409.65,112.4 L409.75,112.4 L409.85,112.4 L409.95,112.4 L410.04,112.4 L410.14,112.4 L410.24,112.4 L410.34,112.4 L410.44,112.4 L410.53,112.4 L410.63,112.4 L410.73,112.4 L410.83,112.4 L410.93,112.4 L411.02,112.4 L411.12,112.4 L411.22,112.4 L411.32,112.4 L411.42,112.4 L411.51,112.4 L411.61,112.39 L411.71,112.39 L411.81,112.39 L411.91,112.39 L412,112.39 L412.1,112.38 L412.2,112.38 L412.3,112.38 L412.4,112.37 L412.49,112.37 L412.59,112.36 L412.69,112.35 L412.79,112.34 L412.89,112.33 L412.98,112.32 L413.08,112.31 L413.18,112.29 L413.28,112.27 L413.38,112.25 L413.47,112.23 L413.57,112.2 L413.67,112.17 L413.77,112.14 L413.87,112.1 L413.96,112.06 L414.06,112.01 L414.16,111.96 L414.26,111.91 L414.36,111.84 L414.45,111.78 L414.55,111.7 L414.65,111.63 L414.75,111.54 L414.85,111.45 L414.94,111.35 L415.04,111.25 L415.14,111.14 L415.24,111.02 L415.34,110.9 L415.43,110.77 L415.53,110.64 L415.63,110.5 L415.73,110.36 L415.83,110.21 L415.92,110.06 L416.02,109.91 L416.12,109.76 L416.22,109.61 L416.32,109.46 L416.41,109.32 L416.51,109.17 L416.61,109.03 L416.71,108.9 L416.81,108.77 L416.9,108.65 L417,108.54 L417.1,108.44 L417.2,108.34 L417.3,108.26 L417.39,108.2 L417.49,108.14 L417.59,108.1 L417.69,108.07 L417.79,108.06 L417.88,108.06 L417.98,108.07 L418.08,108.1 L418.18,108.14 L418.28,108.2 L418.37,108.26 L418.47,108.34 L418.57,108.44 L418.67,108.54 L418.77,108.65 L418.86,108.77 L418.96,108.9 L419.06,109.03 L419.16,109.17 L419.26,109.32 L419.35,109.46 L419.45,109.61 L419.55,109.76 L419.65,109.91 L419.75,110.06 L419.84,110.21 L419.94,110.36 L420.04,110.5 L420.14,110.64 L420.24,110.77 L420.33,110.9 L420.43,111.02 L420.53,111.14 L420.63,111.25 L420.73,111.35 L420.82,111.45 L420.92,111.54 L421.02,111.63 L421.12,111.7 L421.22,111.78 L421.31,111.84 L421.41,111.91 L421.51,111.96 L421.61,112.01 L421.71,112.06 L421.8,112.1 L421.9,112.14 L422,112.17 L422.1,112.2 L422.2,112.23 L422.29,112.25 L422.39,112.27 L422.49,112.29 L422.59,112.31 L422.69,112.32 L422.78,112.33 L422.88,112.34 L422.98,112.35 L423.08,112.36 L423.18,112.37 L423.27,112.37 L423.37,112.38 L423.47,112.38 L423.57,112.38 L423.67,112.39 L423.76,112.39 L423.86,112.39 L423.96,112.39 L424.06,112.39 L424.16,112.4 L424.25,112.4 L424.35,112.4 L424.45,112.4 L424.55,112.4 L424.65,112.4 L424.74,112.4 L424.84,112.4 L424.94,112.4 L425.04,112.4 L425.14,112.4 L425.23,112.4 L425.33,112.4 L425.43,112.4 L425.53,112.4 L425.63,112.4 L425.72,112.4 L425.82,112.4 L425.92,112.4 L426.02,112.4 L426.12,112.4 L426.21,112.4 L426.31,112.4 L426.41,112.4 L426.51,112.4 L426.61,112.4 L426.7,112.4 L426.8,112.4 L426.9,112.4 L427,112.4 L427.1,112.4 L427.19,112.4 L427.29,112.4 L427.39,112.4 L427.49,112.4 L427.59,112.4 L427.68,112.4 L427.78,112.4 L427.88,112.4 L427.98,112.4 L428.08,112.4 L428.17,112.4 L428.27,112.4 L428.37,112.4 L428.47,112.4 L428.57,112.4 L428.66,112.4 L428.76,112.4 L428.86,112.4 L428.96,112.4 L429.06,112.4 L429.15,112.4 L429.25,112.4 L429.35,112.4 L429.45,112.4 L429.55,112.4 L429.64,112.4 L429.74,112.4 L429.84,112.4 L429.94,112.4 L430.04,112.4 L430.13,112.4 L430.23,112.4 L430.33,112.4 L430.43,112.4 L430.53,112.4 L430.62,112.4 L430.72,112.4 L430.82,112.4 L430.92,112.4 L431.02,112.4 L431.11,112.4 L431.21,112.4 L431.31,112.4 L431.41,112.4 L431.51,112.4 L431.6,112.4 L431.7,112.4 L431.8,112.4 L431.9,112.4 L432,112.4 L432.09,112.4 L432.19,112.4 L432.29,112.4 L432.39,112.4 L432.49,112.4 L432.58,112.4 L432.68,112.4 L432.78,112.4 L432.88,112.4 L432.98,112.4 L433.07,112.4 L433.17,112.4 L433.27,112.4 L433.37,112.4 L433.47,112.4 L433.56,112.4 L433.66,112.4 L433.76,112.4 L433.86,112.4 L433.96,112.4 L434.05,112.4 L434.15,112.4 L434.25,112.4 L434.35,112.4 L434.45,112.4 L434.54,112.4 L434.64,112.4 L434.74,112.4 L434.84,112.4 L434.94,112.4 L435.03,112.4 L435.13,112.4 L435.23,112.4 L435.33,112.4 L435.43,112.4 L435.52,112.4 L435.62,112.4 L435.72,112.4 L435.82,112.4 L435.92,112.4 L436.01,112.4 L436.11,112.4 L436.21,112.4 L436.31,112.4 L436.41,112.4 L436.5,112.4 L436.6,112.4 L436.7,112.4 L436.8,112.4 L436.9,112.4 L436.99,112.4 L437.09,112.4 L437.19,112.4 L437.29,112.4 L437.39,112.4 L437.48,112.4 L437.58,112.4 L437.68,112.4 L437.78,112.4 L437.88,112.4 L437.97,112.4 L438.07,112.4 L438.17,112.4 L438.27,112.4 L438.37,112.4 L438.46,112.4 L438.56,112.4 L438.66,112.4 L438.76,112.4 L438.86,112.4 L438.95,112.4 L439.05,112.4 L439.15,112.4 L439.25,112.4 L439.35,112.4 L439.44,112.4 L439.54,112.4 L439.64,112.4 L439.74,112.4 L439.84,112.4 L439.93,112.4 L440.03,112.4 L440.13,112.4 L440.23,112.4 L440.33,112.4 L440.42,112.4 L440.52,112.4 L440.62,112.4 L440.72,112.4 L440.82,112.4 L440.91,112.4 L441.01,112.4 L441.11,112.4 L441.21,112.4 L441.31,112.4 L441.4,112.4 L441.5,112.4 L441.6,112.4 L441.7,112.4 L441.8,112.4 L441.89,112.4 L441.99,112.4 L442.09,112.4 L442.19,112.4 L442.29,112.4 L442.38,112.4 L442.48,112.4 L442.58,112.4 L442.68,112.4 L442.78,112.4 L442.87,112.4 L442.97,112.4 L443.07,112.4 L443.17,112.4 L443.27,112.4 L443.36,112.4 L443.46,112.4 L443.56,112.4 L443.66,112.4 L443.76,112.4 L443.85,112.4 L443.95,112.4 L444.05,112.4 L444.15,112.4 L444.25,112.4 L444.34,112.4 L444.44,112.4 L444.54,112.4 L444.64,112.4 L444.74,112.4 L444.83,112.4 L444.93,112.4 L445.03,112.4 L445.13,112.4 L445.23,112.4 L445.32,112.4 L445.42,112.4 L445.52,112.4 L445.62,112.4 L445.72,112.4 L445.81,112.4 L445.91,112.4 L446.01,112.4 L446.11,112.4 L446.21,112.4 L446.3,112.4 L446.4,112.4 L446.5,112.4" stroke="#9a4fa6" stroke-width="0.9" fill="none" stroke-linejoin="round"/>
<text x="349" y="65.2" font-size="8" text-anchor="start" font-weight="normal" fill="#333" >3′,2′-cUAMP</text>
<line x1="372.4" y1="68" x2="372.4" y2="75.8" stroke="#222" stroke-width="0.8"/><path d="M372.4,79 L370.8,75.8 L374,75.8 Z" fill="#222"/>
<text x="378.8" y="48.1" font-size="8" text-anchor="start" font-weight="normal" fill="#333" >3′,2′-cGAMP</text>
<line x1="402.5" y1="49.7" x2="402.5" y2="57.8" stroke="#222" stroke-width="0.8"/><path d="M402.5,61 L400.9,57.8 L404.1,57.8 Z" fill="#222"/>
<text x="407.7" y="94.6" font-size="8" text-anchor="start" font-weight="normal" fill="#333" >2′,3′-c-di-AMP</text>
<line x1="428.5" y1="97.7" x2="422.78" y2="101.9" stroke="#222" stroke-width="0.8"/><path d="M420.2,103.8 L421.83,100.62 L423.73,103.19 Z" fill="#222"/>
<text x="466.8" y="7.6" font-size="10.8" text-anchor="start" font-weight="bold" fill="#111" >c</text>
<path d="M498.5,16.7 V115 M494.7,16.7 H498.5 M494.7,64.1 H498.5 M494.7,111.5 H498.5" stroke="#8a8a8a" stroke-width="0.8" fill="none"/>
<path d="M498.5,111.5 H640.6 M518.8,111.5 V115 M539.1,111.5 V115 M559.4,111.5 V115 M579.7,111.5 V115 M600,111.5 V115 M620.3,111.5 V115 M640.6,111.5 V115" stroke="#8a8a8a" stroke-width="0.8" fill="none"/>
<text x="491" y="19.6" font-size="8" text-anchor="end" font-weight="normal" fill="#333" >1.0</text>
<text x="491" y="67" font-size="8" text-anchor="end" font-weight="normal" fill="#333" >0.5</text>
<text x="491" y="114.4" font-size="8" text-anchor="end" font-weight="normal" fill="#333" >0</text>
<text x="498.5" y="125" font-size="8" text-anchor="middle" font-weight="normal" fill="#333" >20</text>
<text x="518.8" y="125" font-size="8" text-anchor="middle" font-weight="normal" fill="#333" >30</text>
<text x="539.1" y="125" font-size="8" text-anchor="middle" font-weight="normal" fill="#333" >40</text>
<text x="559.4" y="125" font-size="8" text-anchor="middle" font-weight="normal" fill="#333" >50</text>
<text x="579.7" y="125" font-size="8" text-anchor="middle" font-weight="normal" fill="#333" >60</text>
<text x="600" y="125" font-size="8" text-anchor="middle" font-weight="normal" fill="#333" >70</text>
<text x="620.3" y="125" font-size="8" text-anchor="middle" font-weight="normal" fill="#333" >80</text>
<text x="640.6" y="125" font-size="8" text-anchor="middle" font-weight="normal" fill="#333" >90</text>
<text x="569.2" y="137.8" font-size="8" text-anchor="middle" font-weight="normal" fill="#333" >Temperature (°C)</text>
<text x="0" y="0" font-size="8" text-anchor="middle" font-weight="normal" fill="#333" transform="translate(474,63.9) rotate(-90)">Normalized fluorescence</text>
<line x1="619" y1="14.4" x2="630" y2="14.4" stroke="#3c3c3c" stroke-width="1"/>
<text x="634.2" y="16.9" font-size="8" text-anchor="start" font-weight="normal" fill="#333" >Buffer</text>
<line x1="619" y1="22.6" x2="630" y2="22.6" stroke="#9a4fa6" stroke-width="1"/>
<text x="634.2" y="25.3" font-size="8" text-anchor="start" font-weight="normal" fill="#333" >2′,3′-c-di-AMP</text>
<line x1="619" y1="31.9" x2="630" y2="31.9" stroke="#c4c4c4" stroke-width="1.3"/>
<text x="634.2" y="34.6" font-size="8" text-anchor="start" font-weight="normal" fill="#333" >3′,2′-cUAMP</text>
<line x1="619" y1="41.1" x2="630" y2="41.1" stroke="#9a4fa6" stroke-width="1.1" stroke-dasharray="4 2.5"/>
<text x="634.2" y="43.8" font-size="8" text-anchor="start" font-weight="normal" fill="#333" >3′,2′-cGAMP</text>
<path d="M498.5,95.3 C500.08,96.02 504.65,98.03 508,99.6 C511.35,101.17 514.93,103.15 518.6,104.7 C522.27,106.25 526.93,107.88 530,108.9 C533.07,109.92 534.98,110.4 537,110.8 C539.02,111.2 540.6,111.3 542.1,111.3 C543.6,111.3 544.62,111.3 546,110.8 C547.38,110.3 549.23,109.38 550.4,108.3 C551.57,107.22 552.22,105.68 553,104.3 C553.78,102.92 554.27,102.22 555.1,100 C555.93,97.78 557.1,94.33 558,91 C558.9,87.67 559.72,84.5 560.5,80 C561.28,75.5 562.12,68.5 562.7,64 C563.28,59.5 563.57,56.57 564,53 C564.43,49.43 564.67,46.85 565.3,42.6 C565.93,38.35 566.97,31.43 567.8,27.5 C568.63,23.57 569.32,20.82 570.3,19 C571.28,17.18 572.42,16.67 573.7,16.6 C574.98,16.53 576.12,17.27 578,18.6 C579.88,19.93 581.85,21.8 585,24.6 C588.15,27.4 591.27,30.78 596.9,35.4 C602.53,40.02 611.53,46.78 618.8,52.3 C626.07,57.82 636.88,65.8 640.5,68.5" stroke="#c4c4c4" stroke-width="1.05" fill="none"/>
<path d="M498.5,64.1 C499.92,65.42 504.15,69.35 507,72 C509.85,74.65 512.77,77.42 515.6,80 C518.43,82.58 520.93,84.88 524,87.5 C527.07,90.12 530.2,92.83 534,95.7 C537.8,98.57 543.63,102.52 546.8,104.7 C549.97,106.88 551.38,107.78 553,108.8 C554.62,109.82 555.57,110.4 556.5,110.8 C557.43,111.2 557.85,111.25 558.6,111.2 C559.35,111.15 560.02,110.98 561,110.5 C561.98,110.02 563.42,109.88 564.5,108.3 C565.58,106.72 566.63,104.22 567.5,101 C568.37,97.78 569.03,92.83 569.7,89 C570.37,85.17 570.95,81.17 571.5,78 C572.05,74.83 572.5,72.33 573,70 C573.5,67.67 573.97,67.72 574.5,64 C575.03,60.28 575.63,52.38 576.2,47.7 C576.77,43.02 577.2,40.12 577.9,35.9 C578.6,31.68 579.68,25.38 580.4,22.4 C581.12,19.42 581.58,18.97 582.2,18 C582.82,17.03 583.3,16.55 584.1,16.6 C584.9,16.65 584.87,16.7 587,18.3 C589.13,19.9 593.12,23.03 596.9,26.2 C600.68,29.37 606.05,33.8 609.7,37.3 C613.35,40.8 615.5,43.53 618.8,47.2 C622.1,50.87 625.88,55.08 629.5,59.3 C633.12,63.52 638.67,70.3 640.5,72.5" stroke="#9a4fa6" stroke-width="1.1" fill="none" stroke-dasharray="4 2.5"/>
<path d="M498.5,86.8 C499.42,87.53 502.23,89.78 504,91.2 C505.77,92.62 507.1,93.73 509.1,95.3 C511.1,96.87 513.45,98.93 516,100.6 C518.55,102.27 521.42,103.73 524.4,105.3 C527.38,106.87 531.43,109.02 533.9,110 C536.37,110.98 537.85,111.13 539.2,111.2 C540.55,111.27 541.12,110.98 542,110.4 C542.88,109.82 543.6,108.83 544.5,107.7 C545.4,106.57 546.42,105.72 547.4,103.6 C548.38,101.48 549.47,98.27 550.4,95 C551.33,91.73 552.23,87.83 553,84 C553.77,80.17 554.45,75.33 555,72 C555.55,68.67 555.87,66.67 556.3,64 C556.73,61.33 557.17,58.72 557.6,56 C558.03,53.28 558.33,51.33 558.9,47.7 C559.47,44.07 560.37,38.13 561,34.2 C561.63,30.27 561.98,26.77 562.7,24.1 C563.42,21.43 564.52,19.45 565.3,18.2 C566.08,16.95 566.45,16.42 567.4,16.6 C568.35,16.78 569.73,18.07 571,19.3 C572.27,20.53 572.67,21.38 575,24 C577.33,26.62 580.83,30.42 585,35 C589.17,39.58 594.13,45.37 600,51.5 C605.87,57.63 613.47,64.75 620.2,71.8 C626.93,78.85 637.03,90.13 640.4,93.8" stroke="#9a4fa6" stroke-width="1" fill="none"/>
<path d="M498.5,95.1 C499.42,95.15 502.25,95.3 504,95.4 C505.75,95.5 507.33,95.88 509,95.7 C510.67,95.52 512.4,95.15 514,94.3 C515.6,93.45 517.05,92.1 518.6,90.6 C520.15,89.1 522.03,87.07 523.3,85.3 C524.57,83.53 525.2,82.13 526.2,80 C527.2,77.87 528.42,75.25 529.3,72.5 C530.18,69.75 530.78,66.42 531.5,63.5 C532.22,60.58 532.85,57.97 533.6,55 C534.35,52.03 535.23,48.78 536,45.7 C536.77,42.62 537.48,39.37 538.2,36.5 C538.92,33.63 539.4,31.28 540.3,28.5 C541.2,25.72 542.52,21.78 543.6,19.8 C544.68,17.82 545.57,16.8 546.8,16.6 C548.03,16.4 549.63,17.57 551,18.6 C552.37,19.63 553.18,20.65 555,22.8 C556.82,24.95 559.57,28.72 561.9,31.5 C564.23,34.28 566.48,36.88 569,39.5 C571.52,42.12 573.5,44.02 577,47.2 C580.5,50.38 584.87,54.22 590,58.6 C595.13,62.98 602.8,69.33 607.8,73.5 C612.8,77.67 614.53,78.88 620,83.6 C625.47,88.32 637.17,98.77 640.6,101.8" stroke="#3c3c3c" stroke-width="1" fill="none"/>
<text x="217" y="155.8" font-size="10.8" text-anchor="start" font-weight="bold" fill="#111" >e</text>
<path d="M247.2,175.2 V272 M243.4,175.2 H247.2 M243.4,206.2 H247.2 M243.4,237.2 H247.2 M243.4,268.2 H247.2" stroke="#8a8a8a" stroke-width="0.8" fill="none"/>
<path d="M247.2,268.2 H387.8 M282.5,268.2 V272 M317.6,268.2 V272 M352.7,268.2 V272 M387.8,268.2 V272" stroke="#8a8a8a" stroke-width="0.8" fill="none"/>
<text x="240" y="178.1" font-size="8" text-anchor="end" font-weight="normal" fill="#333" >60</text>
<text x="240" y="209.1" font-size="8" text-anchor="end" font-weight="normal" fill="#333" >40</text>
<text x="240" y="240.1" font-size="8" text-anchor="end" font-weight="normal" fill="#333" >20</text>
<text x="240" y="271.1" font-size="8" text-anchor="end" font-weight="normal" fill="#333" >0</text>
<text x="247.4" y="281.5" font-size="8" text-anchor="middle" font-weight="normal" fill="#333" >3.0</text>
<text x="282.5" y="281.5" font-size="8" text-anchor="middle" font-weight="normal" fill="#333" >3.5</text>
<text x="317.6" y="281.5" font-size="8" text-anchor="middle" font-weight="normal" fill="#333" >4.0</text>
<text x="352.7" y="281.5" font-size="8" text-anchor="middle" font-weight="normal" fill="#333" >4.5</text>
<text x="387.8" y="281.5" font-size="8" text-anchor="middle" font-weight="normal" fill="#333" >5.0</text>
<text x="317.6" y="293" font-size="8" text-anchor="middle" font-weight="normal" fill="#333" >Time (min)</text>
<text x="0" y="0" font-size="8" text-anchor="middle" font-weight="normal" fill="#333" transform="translate(225,221.2) rotate(-90)">254-nm absorbance (mAU)</text>
<rect x="269.3" y="149.9" width="32.2" height="13.3" fill="#fff" stroke="#8a8a8a" stroke-width="0.9"/>
<rect x="270.2" y="150.5" width="3.6" height="12.2" fill="#b7b5dc"/>
<rect x="287.8" y="150.3" width="4.3" height="6" fill="#8f8fce"/>
<text x="267.2" y="155.8" font-size="7" text-anchor="end" font-weight="normal" fill="#333" ><tspan font-style="italic">Kp</tspan>OptS</text>
<text x="267.2" y="162" font-size="7" text-anchor="end" font-weight="normal" fill="#333" ><tspan font-style="italic">Vn</tspan>OptS</text>
<text x="271.9" y="155.8" font-size="7" text-anchor="middle" font-weight="normal" fill="#222" >I</text>
<text x="271.9" y="162" font-size="7" text-anchor="middle" font-weight="normal" fill="#222" >I</text>
<text x="274.8" y="155.8" font-size="7" text-anchor="start" font-weight="normal" fill="#222" textLength="26.2" lengthAdjust="spacingAndGlyphs">SNKLND</text>
<text x="274.8" y="162" font-size="7" text-anchor="start" font-weight="normal" fill="#222" textLength="26.2" lengthAdjust="spacingAndGlyphs">NHLVNN</text>
<text x="276.2" y="150.2" font-size="8" text-anchor="middle" font-weight="bold" fill="#f09a40" >*</text>
<text x="294.3" y="150.2" font-size="8" text-anchor="middle" font-weight="bold" fill="#f09a40" >*</text>
<line x1="299" y1="166.8" x2="309" y2="166.8" stroke="#9a4fa6" stroke-width="1"/>
<text x="313" y="168.9" font-size="8" text-anchor="start" font-weight="normal" fill="#333" >ATP + GTP + WT <tspan font-style="italic">Kp</tspan>OptS</text>
<line x1="299" y1="176.4" x2="309" y2="176.4" stroke="#3c3c3c" stroke-width="1"/>
<text x="313" y="178.9" font-size="8" text-anchor="start" font-weight="normal" fill="#333" >ATP + GTP + S30N <tspan font-style="italic">Kp</tspan>OptS</text>
<path d="M247.4,268 C252.83,268 272.57,268.02 280,268 C287.43,267.98 289.33,267.98 292,267.9 C294.67,267.82 294.83,267.9 296,267.5 C297.17,267.1 297.97,266.7 299,265.5 C300.03,264.3 301.2,262.3 302.2,260.3 C303.2,258.3 304.08,255.27 305,253.5 C305.92,251.73 306.78,249.95 307.7,249.7 C308.62,249.45 309.45,250.87 310.5,252 C311.55,253.13 312.58,254.97 314,256.5 C315.42,258.03 317.33,259.92 319,261.2 C320.67,262.48 322.42,263.47 324,264.2 C325.58,264.93 327.25,265.53 328.5,265.6 C329.75,265.67 330.67,265.2 331.5,264.6 C332.33,264 332.88,263.35 333.5,262 C334.12,260.65 334.7,258.5 335.2,256.5 C335.7,254.5 336.1,251.83 336.5,250 C336.9,248.17 337.18,248.33 337.6,245.5 C338.02,242.67 338.48,237.2 339,233 C339.52,228.8 340.12,224.63 340.7,220.3 C341.28,215.97 341.95,210.3 342.5,207 C343.05,203.7 343.55,201.87 344,200.5 C344.45,199.13 344.75,198.78 345.2,198.8 C345.65,198.82 346.15,199.07 346.7,200.6 C347.25,202.13 347.9,204.72 348.5,208 C349.1,211.28 349.52,215.88 350.3,220.3 C351.08,224.72 352.15,230.3 353.2,234.5 C354.25,238.7 355.38,242.28 356.6,245.5 C357.82,248.72 359.03,251.48 360.5,253.8 C361.97,256.12 363.82,257.97 365.4,259.4 C366.98,260.83 368.4,261.58 370,262.4 C371.6,263.22 373.17,263.65 375,264.3 C376.83,264.95 378.87,265.75 381,266.3 C383.13,266.85 386.67,267.38 387.8,267.6" stroke="#9a4fa6" stroke-width="1" fill="none"/>
<path d="M247.4,267.6 C247.75,267.08 248.87,265.85 249.5,264.5 C250.13,263.15 250.65,260.72 251.2,259.5 C251.75,258.28 252.23,257.28 252.8,257.2 C253.37,257.12 253.82,258.05 254.6,259 C255.38,259.95 256.27,261.93 257.5,262.9 C258.73,263.87 259.92,264.23 262,264.8 C264.08,265.37 267,265.9 270,266.3 C273,266.7 277.12,266.97 280,267.2 C282.88,267.43 285.72,267.82 287.3,267.7 C288.88,267.58 288.8,267.37 289.5,266.5 C290.2,265.63 290.88,263.83 291.5,262.5 C292.12,261.17 292.72,260.25 293.2,258.5 C293.68,256.75 294,255.08 294.4,252 C294.8,248.92 295.15,244.5 295.6,240 C296.05,235.5 296.57,230.5 297.1,225 C297.63,219.5 298.23,211.83 298.8,207 C299.37,202.17 299.93,198.43 300.5,196 C301.07,193.57 301.62,192.57 302.2,192.4 C302.78,192.23 303.37,192.73 304,195 C304.63,197.27 305.28,201 306,206 C306.72,211 307.38,219.58 308.3,225 C309.22,230.42 310.28,234.72 311.5,238.5 C312.72,242.28 314.1,245.03 315.6,247.7 C317.1,250.37 318.85,252.48 320.5,254.5 C322.15,256.52 324.08,258.5 325.5,259.8 C326.92,261.1 328,261.78 329,262.3 C330,262.82 330.5,262.98 331.5,262.9 C332.5,262.82 333.77,262.17 335,261.8 C336.23,261.43 337.57,260.63 338.9,260.7 C340.23,260.77 341.1,261.38 343,262.2 C344.9,263.02 348.13,264.75 350.3,265.6 C352.47,266.45 354.05,266.9 356,267.3 C357.95,267.7 356.7,267.87 362,268 C367.3,268.13 383.5,268.08 387.8,268.1" stroke="#3c3c3c" stroke-width="1" fill="none"/>
<text x="249.7" y="195.5" font-size="8" text-anchor="start" font-weight="normal" fill="#333" >3′,2′-cGAMP</text>
<line x1="288.1" y1="197.8" x2="290.65" y2="204.41" stroke="#222" stroke-width="0.8"/><path d="M291.8,207.4 L289.16,204.99 L292.14,203.84 Z" fill="#222"/>
<text x="340.3" y="194.8" font-size="8" text-anchor="start" font-weight="normal" fill="#333" >2′,3′-c-di-AMP</text>
<line x1="358" y1="197.4" x2="354.41" y2="203.09" stroke="#222" stroke-width="0.8"/><path d="M352.7,205.8 L353.05,202.24 L355.76,203.95 Z" fill="#222"/>
<text x="425.3" y="155.8" font-size="10.8" text-anchor="start" font-weight="bold" fill="#111" >f</text>
<path d="M459.3,172.2 V273.3 M455.5,172.2 H459.3 M455.5,204.65 H459.3 M455.5,237.1 H459.3 M455.5,269.5 H459.3" stroke="#8a8a8a" stroke-width="0.8" fill="none"/>
<path d="M459.3,269.5 H605.7 M495.9,269.5 V273.3 M532.5,269.5 V273.3 M569.1,269.5 V273.3 M605.7,269.5 V273.3" stroke="#8a8a8a" stroke-width="0.8" fill="none"/>
<text x="452" y="175.09" font-size="8" text-anchor="end" font-weight="normal" fill="#333" >150</text>
<text x="452" y="207.53" font-size="8" text-anchor="end" font-weight="normal" fill="#333" >100</text>
<text x="452" y="239.97" font-size="8" text-anchor="end" font-weight="normal" fill="#333" >50</text>
<text x="452" y="272.4" font-size="8" text-anchor="end" font-weight="normal" fill="#333" >0</text>
<text x="459.3" y="283" font-size="8" text-anchor="middle" font-weight="normal" fill="#333" >3.0</text>
<text x="495.9" y="283" font-size="8" text-anchor="middle" font-weight="normal" fill="#333" >3.5</text>
<text x="532.5" y="283" font-size="8" text-anchor="middle" font-weight="normal" fill="#333" >4.0</text>
<text x="569.1" y="283" font-size="8" text-anchor="middle" font-weight="normal" fill="#333" >4.5</text>
<text x="605.7" y="283" font-size="8" text-anchor="middle" font-weight="normal" fill="#333" >5.0</text>
<text x="532.6" y="295.2" font-size="8" text-anchor="middle" font-weight="normal" fill="#333" >Time (min)</text>
<text x="0" y="0" font-size="8" text-anchor="middle" font-weight="normal" fill="#333" transform="translate(433.4,221) rotate(-90)">254-nm absorbance (mAU)</text>
<line x1="498.5" y1="168.9" x2="509" y2="168.9" stroke="#9a4fa6" stroke-width="1"/>
<text x="513.1" y="171.4" font-size="8" text-anchor="start" font-weight="normal" fill="#333" >ATP + GTP + WT <tspan font-style="italic">Vn</tspan>OptS</text>
<line x1="498.5" y1="180.9" x2="509" y2="180.9" stroke="#3c3c3c" stroke-width="1"/>
<text x="513.1" y="183.3" font-size="8" text-anchor="start" font-weight="normal" fill="#333" >ATP + GTP + N31S <tspan font-style="italic">Vn</tspan>OptS</text>
<path d="M459.3,269.4 C466.08,269.42 492.22,269.57 500,269.5 C507.78,269.43 504.6,269.28 506,269 C507.4,268.72 507.73,268.3 508.4,267.8 C509.07,267.3 509.55,266.6 510,266 C510.45,265.4 510.68,265.62 511.1,264.2 C511.52,262.78 511.87,260.92 512.5,257.5 C513.13,254.08 514.25,248.45 514.9,243.7 C515.55,238.95 515.9,233.9 516.4,229 C516.9,224.1 517.37,219.05 517.9,214.3 C518.43,209.55 519.08,203.72 519.6,200.5 C520.12,197.28 520.6,196.12 521,195 C521.4,193.88 521.62,193.72 522,193.8 C522.38,193.88 522.8,194.05 523.3,195.5 C523.8,196.95 524.33,199.37 525,202.5 C525.67,205.63 526.47,209.88 527.3,214.3 C528.13,218.72 529.03,224.1 530,229 C530.97,233.9 532.02,239.78 533.1,243.7 C534.18,247.62 535.27,250.07 536.5,252.5 C537.73,254.93 539.17,256.67 540.5,258.3 C541.83,259.93 543.03,261.12 544.5,262.3 C545.97,263.48 547.73,264.72 549.3,265.4 C550.87,266.08 552.45,266.33 553.9,266.4 C555.35,266.47 556.57,266 558,265.8 C559.43,265.6 561,265.13 562.5,265.2 C564,265.27 565.25,265.82 567,266.2 C568.75,266.58 570.83,267.13 573,267.5 C575.17,267.87 577.17,268.17 580,268.4 C582.83,268.63 585.77,268.78 590,268.9 C594.23,269.02 602.83,269.07 605.4,269.1" stroke="#9a4fa6" stroke-width="1" fill="none"/>
<path d="M459.3,269.2 C462.75,269.22 473.22,269.3 480,269.3 C486.78,269.3 496.02,269.37 500,269.2 C503.98,269.03 502.82,268.92 503.9,268.3 C504.98,267.68 505.73,266.55 506.5,265.5 C507.27,264.45 507.97,262.95 508.5,262 C509.03,261.05 509.25,261.47 509.7,259.8 C510.15,258.13 510.62,255.18 511.2,252 C511.78,248.82 512.6,244.2 513.2,240.7 C513.8,237.2 514.27,233.3 514.8,231 C515.33,228.7 515.82,227.07 516.4,226.9 C516.98,226.73 517.65,228.4 518.3,230 C518.95,231.6 519.53,234.22 520.3,236.5 C521.07,238.78 521.87,241.37 522.9,243.7 C523.93,246.03 525.03,248.32 526.5,250.5 C527.97,252.68 530.03,255.05 531.7,256.8 C533.37,258.55 534.8,259.77 536.5,261 C538.2,262.23 540.4,263.47 541.9,264.2 C543.4,264.93 544.52,265.17 545.5,265.4 C546.48,265.63 546.97,266.08 547.8,265.6 C548.63,265.12 549.63,263.93 550.5,262.5 C551.37,261.07 552.1,258.58 553,257 C553.9,255.42 554.98,253.47 555.9,253 C556.82,252.53 557.48,253.4 558.5,254.2 C559.52,255 560.58,256.4 562,257.8 C563.42,259.2 565.17,261.28 567,262.6 C568.83,263.92 570.83,264.9 573,265.7 C575.17,266.5 577.92,266.97 580,267.4 C582.08,267.83 583.6,268.08 585.5,268.3 C587.4,268.52 589.65,268.73 591.4,268.7 C593.15,268.67 594.48,268.45 596,268.1 C597.52,267.75 598.93,267.08 600.5,266.6 C602.07,266.12 604.58,265.43 605.4,265.2" stroke="#3c3c3c" stroke-width="1" fill="none"/>
<text x="470.3" y="201" font-size="8" text-anchor="start" font-weight="normal" fill="#333" >3′,2′-cGAMP</text>
<line x1="507.7" y1="204.4" x2="510.21" y2="210.07" stroke="#222" stroke-width="0.8"/><path d="M511.5,213 L508.74,210.72 L511.67,209.43 Z" fill="#222"/>
<text x="552.9" y="243.3" font-size="8" text-anchor="start" font-weight="normal" fill="#333" >2′,3′-c-di-AMP</text>
<line x1="566.9" y1="245.4" x2="563.81" y2="250.73" stroke="#222" stroke-width="0.8"/><path d="M562.2,253.5 L562.42,249.93 L565.19,251.54 Z" fill="#222"/>
</svg>
</body></html>
